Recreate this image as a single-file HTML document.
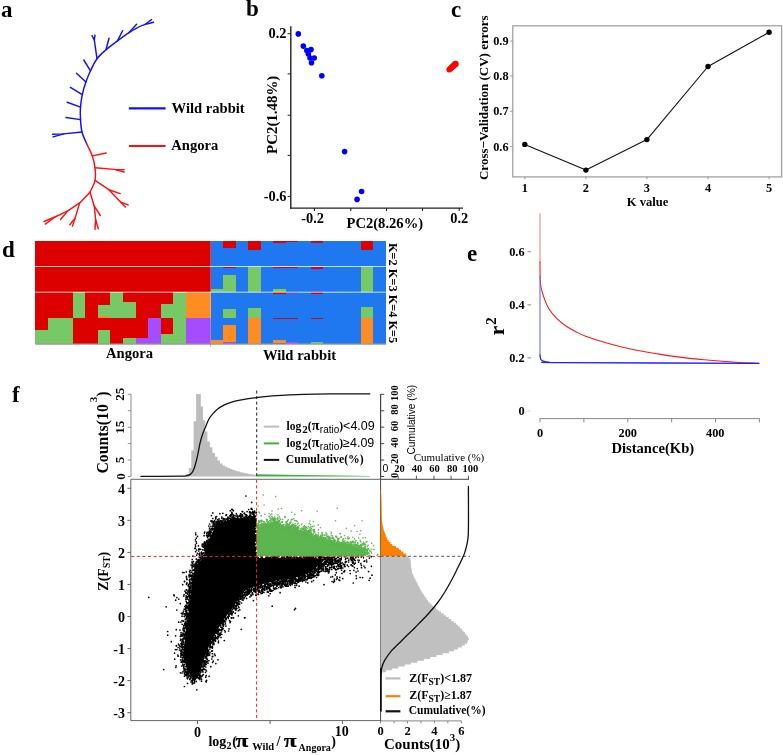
<!DOCTYPE html>
<html><head><meta charset="utf-8"><title>Figure</title>
<style>html,body{margin:0;padding:0;background:#fff;}svg{display:block;will-change:transform;}</style></head>
<body><svg width="783" height="755" viewBox="0 0 783 755">
<rect width="783" height="755" fill="#fff"/>
<text x="1" y="17" font-size="23" text-anchor="start" font-weight="bold" font-family='"Liberation Serif", serif' fill="#000">a</text>
<path d="M153.5,22.3 C151.5,22.9 145.8,23.9 141.7,25.6 C137.6,27.3 133.0,30.1 129.0,32.6 C125.0,35.1 121.3,38.0 117.5,40.9 C113.7,43.8 109.4,46.8 106.0,49.8 C102.6,52.8 99.6,55.2 97.0,58.7 C94.4,62.2 92.3,66.9 90.5,70.8 C88.7,74.7 87.3,78.0 85.9,82.0 C84.5,86.0 83.2,90.4 82.3,94.6 C81.4,98.8 80.8,102.9 80.5,107.1 C80.2,111.3 80.2,115.4 80.5,119.6 C80.8,123.8 81.0,127.9 82.0,132.0 C83.0,136.1 86.0,142.0 86.8,144.0" fill="none" stroke="#1010ff" stroke-width="1.45" stroke-linejoin="round" stroke-linecap="round"/>
<polyline points="145.5,24.0 151.5,19.6" fill="none" stroke="#1010ff" stroke-width="1.45" stroke-linejoin="round" stroke-linecap="round"/>
<polyline points="129.0,32.6 136.6,24.3" fill="none" stroke="#1010ff" stroke-width="1.45" stroke-linejoin="round" stroke-linecap="round"/>
<polyline points="117.5,40.9 122.6,30.7" fill="none" stroke="#1010ff" stroke-width="1.45" stroke-linejoin="round" stroke-linecap="round"/>
<polyline points="106.0,49.8 109.0,38.3" fill="none" stroke="#1010ff" stroke-width="1.45" stroke-linejoin="round" stroke-linecap="round"/>
<polyline points="97.0,58.7 94.3,40.0 92.0,35.6" fill="none" stroke="#1010ff" stroke-width="1.45" stroke-linejoin="round" stroke-linecap="round"/>
<polyline points="94.3,40.0 95.0,35.1" fill="none" stroke="#1010ff" stroke-width="1.45" stroke-linejoin="round" stroke-linecap="round"/>
<polyline points="90.5,70.8 83.8,60.0" fill="none" stroke="#1010ff" stroke-width="1.45" stroke-linejoin="round" stroke-linecap="round"/>
<polyline points="85.9,82.0 76.5,73.2" fill="none" stroke="#1010ff" stroke-width="1.45" stroke-linejoin="round" stroke-linecap="round"/>
<polyline points="82.3,94.6 70.4,87.4" fill="none" stroke="#1010ff" stroke-width="1.45" stroke-linejoin="round" stroke-linecap="round"/>
<polyline points="80.5,107.1 67.2,102.3" fill="none" stroke="#1010ff" stroke-width="1.45" stroke-linejoin="round" stroke-linecap="round"/>
<polyline points="80.5,119.6 66.0,117.5" fill="none" stroke="#1010ff" stroke-width="1.45" stroke-linejoin="round" stroke-linecap="round"/>
<polyline points="82.0,132.0 63.8,133.9 52.5,134.2" fill="none" stroke="#1010ff" stroke-width="1.45" stroke-linejoin="round" stroke-linecap="round"/>
<polyline points="63.8,133.9 53.1,136.9" fill="none" stroke="#1010ff" stroke-width="1.45" stroke-linejoin="round" stroke-linecap="round"/>
<path d="M86.8,144.0 C87.7,146.0 90.9,151.9 92.3,155.9 C93.7,159.9 94.5,163.7 95.0,167.8 C95.5,171.9 95.8,176.3 95.0,180.4 C94.2,184.5 90.8,190.3 90.0,192.3" fill="none" stroke="#ff1010" stroke-width="1.45" stroke-linejoin="round" stroke-linecap="round"/>
<polyline points="92.3,155.9 106.2,153.0" fill="none" stroke="#ff1010" stroke-width="1.45" stroke-linejoin="round" stroke-linecap="round"/>
<polyline points="95.0,167.8 114.2,169.4 124.1,169.8" fill="none" stroke="#ff1010" stroke-width="1.45" stroke-linejoin="round" stroke-linecap="round"/>
<polyline points="114.2,169.4 124.1,172.0" fill="none" stroke="#ff1010" stroke-width="1.45" stroke-linejoin="round" stroke-linecap="round"/>
<polyline points="95.0,180.4 108.9,189.7 120.1,193.6" fill="none" stroke="#ff1010" stroke-width="1.45" stroke-linejoin="round" stroke-linecap="round"/>
<polyline points="108.9,189.7 120.8,202.3 128.1,204.9" fill="none" stroke="#ff1010" stroke-width="1.45" stroke-linejoin="round" stroke-linecap="round"/>
<polyline points="120.8,202.3 125.4,206.9" fill="none" stroke="#ff1010" stroke-width="1.45" stroke-linejoin="round" stroke-linecap="round"/>
<polyline points="90.0,192.3 79.7,202.9 67.8,210.9 55.0,217.0 44.0,221.5" fill="none" stroke="#ff1010" stroke-width="1.45" stroke-linejoin="round" stroke-linecap="round"/>
<polyline points="55.0,217.0 45.3,224.1" fill="none" stroke="#ff1010" stroke-width="1.45" stroke-linejoin="round" stroke-linecap="round"/>
<polyline points="67.8,210.9 60.5,219.5" fill="none" stroke="#ff1010" stroke-width="1.45" stroke-linejoin="round" stroke-linecap="round"/>
<polyline points="79.7,202.9 75.1,218.1 72.5,226.1" fill="none" stroke="#ff1010" stroke-width="1.45" stroke-linejoin="round" stroke-linecap="round"/>
<polyline points="75.1,218.1 69.8,224.8" fill="none" stroke="#ff1010" stroke-width="1.45" stroke-linejoin="round" stroke-linecap="round"/>
<polyline points="90.0,192.3 94.3,206.2 100.3,215.5" fill="none" stroke="#ff1010" stroke-width="1.45" stroke-linejoin="round" stroke-linecap="round"/>
<polyline points="94.3,206.2 95.6,219.5 95.0,229.4" fill="none" stroke="#ff1010" stroke-width="1.45" stroke-linejoin="round" stroke-linecap="round"/>
<polyline points="95.6,219.5 98.3,228.7" fill="none" stroke="#ff1010" stroke-width="1.45" stroke-linejoin="round" stroke-linecap="round"/>
<line x1="128.9" y1="108.4" x2="165.6" y2="108.4" stroke="#1010ff" stroke-width="2.2"/>
<line x1="128.9" y1="146" x2="165.6" y2="146" stroke="#ff1010" stroke-width="2.2"/>
<text x="171.6" y="113.2" font-size="14.6" text-anchor="start" font-weight="bold" font-family='"Liberation Serif", serif' fill="#000">Wild rabbit</text>
<text x="171.3" y="149.5" font-size="14.6" text-anchor="start" font-weight="bold" font-family='"Liberation Serif", serif' fill="#000">Angora</text>
<text x="246" y="15.9" font-size="23" text-anchor="start" font-weight="bold" font-family='"Liberation Serif", serif' fill="#000">b</text>
<line x1="290.8" y1="26.2" x2="290.8" y2="208.8" stroke="#222" stroke-width="1.4"/>
<line x1="290.1" y1="208.1" x2="463" y2="208.1" stroke="#222" stroke-width="1.4"/>
<line x1="287.6" y1="33.7" x2="290.8" y2="33.7" stroke="#222" stroke-width="1"/>
<line x1="287.6" y1="73.9" x2="290.8" y2="73.9" stroke="#222" stroke-width="1"/>
<line x1="287.6" y1="115.2" x2="290.8" y2="115.2" stroke="#222" stroke-width="1"/>
<line x1="287.6" y1="155.4" x2="290.8" y2="155.4" stroke="#222" stroke-width="1"/>
<line x1="287.6" y1="196.4" x2="290.8" y2="196.4" stroke="#222" stroke-width="1"/>
<line x1="314.4" y1="208.1" x2="314.4" y2="211" stroke="#222" stroke-width="1.1"/>
<line x1="350.8" y1="208.1" x2="350.8" y2="211" stroke="#222" stroke-width="1.1"/>
<line x1="386.5" y1="208.1" x2="386.5" y2="211" stroke="#222" stroke-width="1.1"/>
<line x1="422.5" y1="208.1" x2="422.5" y2="211" stroke="#222" stroke-width="1.1"/>
<line x1="459.2" y1="208.1" x2="459.2" y2="211" stroke="#222" stroke-width="1.1"/>
<text x="286.5" y="37.6" font-size="14.4" text-anchor="end" font-weight="bold" font-family='"Liberation Serif", serif' fill="#000">0.2</text>
<text x="286.5" y="200.6" font-size="14.4" text-anchor="end" font-weight="bold" font-family='"Liberation Serif", serif' fill="#000">-0.6</text>
<text x="312.6" y="223.1" font-size="14.4" text-anchor="middle" font-weight="bold" font-family='"Liberation Serif", serif' fill="#000">-0.2</text>
<text x="459.2" y="223.1" font-size="14.4" text-anchor="middle" font-weight="bold" font-family='"Liberation Serif", serif' fill="#000">0.2</text>
<text x="384.8" y="227.6" font-size="14.6" text-anchor="middle" font-weight="bold" font-family='"Liberation Serif", serif' fill="#000">PC2(8.26%)</text>
<text x="277.4" y="114.8" font-size="14.9" text-anchor="middle" font-weight="bold" font-family='"Liberation Serif", serif' fill="#000" transform="rotate(-90 277.4 114.8)">PC2(1.48%)</text>
<circle cx="298.3" cy="33.9" r="2.8" fill="#0000ff"/>
<circle cx="303.3" cy="46.1" r="2.8" fill="#0000ff"/>
<circle cx="306.8" cy="50.5" r="2.8" fill="#0000ff"/>
<circle cx="311" cy="49.6" r="2.8" fill="#0000ff"/>
<circle cx="308.3" cy="54" r="2.8" fill="#0000ff"/>
<circle cx="310" cy="58" r="2.8" fill="#0000ff"/>
<circle cx="314.2" cy="58" r="2.8" fill="#0000ff"/>
<circle cx="311.5" cy="62.8" r="2.8" fill="#0000ff"/>
<circle cx="321.8" cy="75.8" r="2.8" fill="#0000ff"/>
<circle cx="344.6" cy="151.6" r="2.8" fill="#0000ff"/>
<circle cx="361.6" cy="191.5" r="2.8" fill="#0000ff"/>
<circle cx="357.1" cy="199.4" r="2.8" fill="#0000ff"/>
<circle cx="449.30" cy="69.60" r="2.90" fill="#ff0000"/>
<circle cx="450.54" cy="68.48" r="2.96" fill="#ff0000"/>
<circle cx="451.78" cy="67.36" r="3.02" fill="#ff0000"/>
<circle cx="453.02" cy="66.24" r="3.08" fill="#ff0000"/>
<circle cx="454.26" cy="65.12" r="3.14" fill="#ff0000"/>
<circle cx="455.50" cy="64.00" r="3.20" fill="#ff0000"/>
<text x="451" y="17" font-size="23" text-anchor="start" font-weight="bold" font-family='"Liberation Serif", serif' fill="#000">c</text>
<rect x="512.8" y="25.8" width="268.8" height="151.1" fill="none" stroke="#a2a2a2" stroke-width="1.3"/>
<line x1="510.2" y1="41" x2="512.8" y2="41" stroke="#9a9a9a" stroke-width="1"/>
<text x="508.6" y="45.1" font-size="12.3" text-anchor="end" font-weight="bold" font-family='"Liberation Serif", serif' fill="#000">0.9</text>
<line x1="510.2" y1="76.1" x2="512.8" y2="76.1" stroke="#9a9a9a" stroke-width="1"/>
<text x="508.6" y="80.19999999999999" font-size="12.3" text-anchor="end" font-weight="bold" font-family='"Liberation Serif", serif' fill="#000">0.8</text>
<line x1="510.2" y1="111.3" x2="512.8" y2="111.3" stroke="#9a9a9a" stroke-width="1"/>
<text x="508.6" y="115.39999999999999" font-size="12.3" text-anchor="end" font-weight="bold" font-family='"Liberation Serif", serif' fill="#000">0.7</text>
<line x1="510.2" y1="146.4" x2="512.8" y2="146.4" stroke="#9a9a9a" stroke-width="1"/>
<text x="508.6" y="150.5" font-size="12.3" text-anchor="end" font-weight="bold" font-family='"Liberation Serif", serif' fill="#000">0.6</text>
<line x1="524.8" y1="176.5" x2="524.8" y2="179.2" stroke="#9a9a9a" stroke-width="1"/>
<text x="524.8" y="191.6" font-size="12.3" text-anchor="middle" font-weight="bold" font-family='"Liberation Serif", serif' fill="#000">1</text>
<line x1="585.9" y1="176.5" x2="585.9" y2="179.2" stroke="#9a9a9a" stroke-width="1"/>
<text x="585.9" y="191.6" font-size="12.3" text-anchor="middle" font-weight="bold" font-family='"Liberation Serif", serif' fill="#000">2</text>
<line x1="646.9" y1="176.5" x2="646.9" y2="179.2" stroke="#9a9a9a" stroke-width="1"/>
<text x="646.9" y="191.6" font-size="12.3" text-anchor="middle" font-weight="bold" font-family='"Liberation Serif", serif' fill="#000">3</text>
<line x1="708" y1="176.5" x2="708" y2="179.2" stroke="#9a9a9a" stroke-width="1"/>
<text x="708" y="191.6" font-size="12.3" text-anchor="middle" font-weight="bold" font-family='"Liberation Serif", serif' fill="#000">4</text>
<line x1="769.1" y1="176.5" x2="769.1" y2="179.2" stroke="#9a9a9a" stroke-width="1"/>
<text x="769.1" y="191.6" font-size="12.3" text-anchor="middle" font-weight="bold" font-family='"Liberation Serif", serif' fill="#000">5</text>
<polyline points="524.8,144.4 585.9,170.1 646.9,139.6 708.0,66.5 769.1,32.3" fill="none" stroke="#111" stroke-width="1.1" stroke-linejoin="round" stroke-linecap="round"/>
<circle cx="524.8" cy="144.4" r="2.7" fill="#000"/>
<circle cx="585.9" cy="170.1" r="2.7" fill="#000"/>
<circle cx="646.9" cy="139.6" r="2.7" fill="#000"/>
<circle cx="708" cy="66.5" r="2.7" fill="#000"/>
<circle cx="769.1" cy="32.3" r="2.7" fill="#000"/>
<text x="647.6" y="205.6" font-size="12.6" text-anchor="middle" font-weight="bold" font-family='"Liberation Serif", serif' fill="#000">K value</text>
<text x="488.3" y="97.7" font-size="13" text-anchor="middle" font-weight="bold" font-family='"Liberation Serif", serif' fill="#000" transform="rotate(-90 488.3 97.7)">Cross−Validation (CV) errors</text>
<text x="2" y="257" font-size="23" text-anchor="start" font-weight="bold" font-family='"Liberation Serif", serif' fill="#000">d</text>
<rect x="35.30" y="241.30" width="12.83" height="25.40" fill="#dd0000" shape-rendering="crispEdges"/>
<rect x="47.82" y="241.30" width="12.83" height="25.40" fill="#dd0000" shape-rendering="crispEdges"/>
<rect x="60.35" y="241.30" width="12.83" height="25.40" fill="#dd0000" shape-rendering="crispEdges"/>
<rect x="72.88" y="241.30" width="12.83" height="25.40" fill="#dd0000" shape-rendering="crispEdges"/>
<rect x="85.40" y="241.30" width="12.83" height="25.40" fill="#dd0000" shape-rendering="crispEdges"/>
<rect x="97.92" y="241.30" width="12.83" height="25.40" fill="#dd0000" shape-rendering="crispEdges"/>
<rect x="110.45" y="241.30" width="12.83" height="25.40" fill="#dd0000" shape-rendering="crispEdges"/>
<rect x="122.97" y="241.30" width="12.83" height="25.40" fill="#dd0000" shape-rendering="crispEdges"/>
<rect x="135.50" y="241.30" width="12.83" height="25.40" fill="#dd0000" shape-rendering="crispEdges"/>
<rect x="148.03" y="241.30" width="12.83" height="25.40" fill="#dd0000" shape-rendering="crispEdges"/>
<rect x="160.55" y="241.30" width="12.83" height="25.40" fill="#dd0000" shape-rendering="crispEdges"/>
<rect x="173.07" y="241.30" width="12.83" height="25.40" fill="#dd0000" shape-rendering="crispEdges"/>
<rect x="185.60" y="241.30" width="12.83" height="25.40" fill="#dd0000" shape-rendering="crispEdges"/>
<rect x="198.12" y="241.30" width="12.83" height="25.40" fill="#dd0000" shape-rendering="crispEdges"/>
<rect x="210.65" y="241.30" width="12.83" height="25.40" fill="#2078f0" shape-rendering="crispEdges"/>
<rect x="223.18" y="241.30" width="12.83" height="7.20" fill="#dd0000" shape-rendering="crispEdges"/>
<rect x="223.18" y="248.30" width="12.83" height="18.40" fill="#2078f0" shape-rendering="crispEdges"/>
<rect x="235.70" y="241.30" width="12.83" height="25.40" fill="#2078f0" shape-rendering="crispEdges"/>
<rect x="248.23" y="241.30" width="12.83" height="8.60" fill="#dd0000" shape-rendering="crispEdges"/>
<rect x="248.23" y="249.70" width="12.83" height="17.00" fill="#2078f0" shape-rendering="crispEdges"/>
<rect x="260.75" y="241.30" width="12.83" height="25.40" fill="#2078f0" shape-rendering="crispEdges"/>
<rect x="273.27" y="241.30" width="12.83" height="2.20" fill="#dd0000" shape-rendering="crispEdges"/>
<rect x="273.27" y="243.30" width="12.83" height="23.40" fill="#2078f0" shape-rendering="crispEdges"/>
<rect x="285.80" y="241.30" width="12.83" height="1.20" fill="#dd0000" shape-rendering="crispEdges"/>
<rect x="285.80" y="242.30" width="12.83" height="24.40" fill="#2078f0" shape-rendering="crispEdges"/>
<rect x="298.33" y="241.30" width="12.83" height="25.40" fill="#2078f0" shape-rendering="crispEdges"/>
<rect x="310.85" y="241.30" width="12.83" height="1.80" fill="#dd0000" shape-rendering="crispEdges"/>
<rect x="310.85" y="242.90" width="12.83" height="23.80" fill="#2078f0" shape-rendering="crispEdges"/>
<rect x="323.38" y="241.30" width="12.83" height="25.40" fill="#2078f0" shape-rendering="crispEdges"/>
<rect x="335.90" y="241.30" width="12.83" height="25.40" fill="#2078f0" shape-rendering="crispEdges"/>
<rect x="348.43" y="241.30" width="12.83" height="25.40" fill="#2078f0" shape-rendering="crispEdges"/>
<rect x="360.95" y="241.30" width="12.83" height="9.20" fill="#dd0000" shape-rendering="crispEdges"/>
<rect x="360.95" y="250.30" width="12.83" height="16.40" fill="#2078f0" shape-rendering="crispEdges"/>
<rect x="373.48" y="241.30" width="12.83" height="25.40" fill="#2078f0" shape-rendering="crispEdges"/>
<rect x="35.30" y="266.50" width="12.83" height="25.90" fill="#dd0000" shape-rendering="crispEdges"/>
<rect x="47.82" y="266.50" width="12.83" height="25.90" fill="#dd0000" shape-rendering="crispEdges"/>
<rect x="60.35" y="266.50" width="12.83" height="25.90" fill="#dd0000" shape-rendering="crispEdges"/>
<rect x="72.88" y="266.50" width="12.83" height="25.90" fill="#dd0000" shape-rendering="crispEdges"/>
<rect x="85.40" y="266.50" width="12.83" height="25.90" fill="#dd0000" shape-rendering="crispEdges"/>
<rect x="97.92" y="266.50" width="12.83" height="25.90" fill="#dd0000" shape-rendering="crispEdges"/>
<rect x="110.45" y="266.50" width="12.83" height="25.90" fill="#dd0000" shape-rendering="crispEdges"/>
<rect x="122.97" y="266.50" width="12.83" height="25.90" fill="#dd0000" shape-rendering="crispEdges"/>
<rect x="135.50" y="266.50" width="12.83" height="25.90" fill="#dd0000" shape-rendering="crispEdges"/>
<rect x="148.03" y="266.50" width="12.83" height="25.90" fill="#dd0000" shape-rendering="crispEdges"/>
<rect x="160.55" y="266.50" width="12.83" height="25.90" fill="#dd0000" shape-rendering="crispEdges"/>
<rect x="173.07" y="266.50" width="12.83" height="25.90" fill="#dd0000" shape-rendering="crispEdges"/>
<rect x="185.60" y="266.50" width="12.83" height="25.90" fill="#dd0000" shape-rendering="crispEdges"/>
<rect x="198.12" y="266.50" width="12.83" height="25.90" fill="#dd0000" shape-rendering="crispEdges"/>
<rect x="210.65" y="266.50" width="12.83" height="22.50" fill="#2078f0" shape-rendering="crispEdges"/>
<rect x="210.65" y="288.80" width="12.83" height="3.60" fill="#77c866" shape-rendering="crispEdges"/>
<rect x="223.18" y="266.50" width="12.83" height="1.50" fill="#dd0000" shape-rendering="crispEdges"/>
<rect x="223.18" y="267.80" width="12.83" height="7.60" fill="#2078f0" shape-rendering="crispEdges"/>
<rect x="223.18" y="275.20" width="12.83" height="17.20" fill="#77c866" shape-rendering="crispEdges"/>
<rect x="235.70" y="266.50" width="12.83" height="25.90" fill="#2078f0" shape-rendering="crispEdges"/>
<rect x="248.23" y="266.50" width="12.83" height="25.90" fill="#77c866" shape-rendering="crispEdges"/>
<rect x="260.75" y="266.50" width="12.83" height="25.90" fill="#2078f0" shape-rendering="crispEdges"/>
<rect x="273.27" y="266.50" width="12.83" height="1.50" fill="#dd0000" shape-rendering="crispEdges"/>
<rect x="273.27" y="267.80" width="12.83" height="21.20" fill="#2078f0" shape-rendering="crispEdges"/>
<rect x="273.27" y="288.80" width="12.83" height="3.60" fill="#77c866" shape-rendering="crispEdges"/>
<rect x="285.80" y="266.50" width="12.83" height="1.20" fill="#dd0000" shape-rendering="crispEdges"/>
<rect x="285.80" y="267.50" width="12.83" height="24.90" fill="#2078f0" shape-rendering="crispEdges"/>
<rect x="298.33" y="266.50" width="12.83" height="25.90" fill="#2078f0" shape-rendering="crispEdges"/>
<rect x="310.85" y="266.50" width="12.83" height="2.40" fill="#dd0000" shape-rendering="crispEdges"/>
<rect x="310.85" y="268.70" width="12.83" height="23.70" fill="#2078f0" shape-rendering="crispEdges"/>
<rect x="323.38" y="266.50" width="12.83" height="25.90" fill="#2078f0" shape-rendering="crispEdges"/>
<rect x="335.90" y="266.50" width="12.83" height="25.90" fill="#2078f0" shape-rendering="crispEdges"/>
<rect x="348.43" y="266.50" width="12.83" height="25.90" fill="#2078f0" shape-rendering="crispEdges"/>
<rect x="360.95" y="266.50" width="12.83" height="25.90" fill="#77c866" shape-rendering="crispEdges"/>
<rect x="373.48" y="266.50" width="12.83" height="25.90" fill="#2078f0" shape-rendering="crispEdges"/>
<rect x="35.30" y="292.20" width="12.83" height="25.70" fill="#dd0000" shape-rendering="crispEdges"/>
<rect x="47.82" y="292.20" width="12.83" height="25.70" fill="#dd0000" shape-rendering="crispEdges"/>
<rect x="60.35" y="292.20" width="12.83" height="25.70" fill="#dd0000" shape-rendering="crispEdges"/>
<rect x="72.88" y="292.20" width="12.83" height="25.70" fill="#77c866" shape-rendering="crispEdges"/>
<rect x="85.40" y="292.20" width="12.83" height="25.70" fill="#dd0000" shape-rendering="crispEdges"/>
<rect x="97.92" y="292.20" width="12.83" height="12.60" fill="#dd0000" shape-rendering="crispEdges"/>
<rect x="97.92" y="304.60" width="12.83" height="11.50" fill="#77c866" shape-rendering="crispEdges"/>
<rect x="97.92" y="315.90" width="12.83" height="2.00" fill="#ff8c22" shape-rendering="crispEdges"/>
<rect x="110.45" y="292.20" width="12.83" height="25.70" fill="#77c866" shape-rendering="crispEdges"/>
<rect x="122.97" y="292.20" width="12.83" height="10.20" fill="#dd0000" shape-rendering="crispEdges"/>
<rect x="122.97" y="302.20" width="12.83" height="15.70" fill="#77c866" shape-rendering="crispEdges"/>
<rect x="135.50" y="292.20" width="12.83" height="25.70" fill="#dd0000" shape-rendering="crispEdges"/>
<rect x="148.03" y="292.20" width="12.83" height="25.70" fill="#dd0000" shape-rendering="crispEdges"/>
<rect x="160.55" y="292.20" width="12.83" height="11.70" fill="#dd0000" shape-rendering="crispEdges"/>
<rect x="160.55" y="303.70" width="12.83" height="14.20" fill="#77c866" shape-rendering="crispEdges"/>
<rect x="173.07" y="292.20" width="12.83" height="25.70" fill="#77c866" shape-rendering="crispEdges"/>
<rect x="185.60" y="292.20" width="12.83" height="25.70" fill="#ff8c22" shape-rendering="crispEdges"/>
<rect x="198.12" y="292.20" width="12.83" height="25.70" fill="#ff8c22" shape-rendering="crispEdges"/>
<rect x="210.65" y="292.20" width="12.83" height="25.70" fill="#2078f0" shape-rendering="crispEdges"/>
<rect x="223.18" y="292.20" width="12.83" height="17.30" fill="#2078f0" shape-rendering="crispEdges"/>
<rect x="223.18" y="309.30" width="12.83" height="8.60" fill="#77c866" shape-rendering="crispEdges"/>
<rect x="235.70" y="292.20" width="12.83" height="25.70" fill="#2078f0" shape-rendering="crispEdges"/>
<rect x="248.23" y="292.20" width="12.83" height="16.00" fill="#2078f0" shape-rendering="crispEdges"/>
<rect x="248.23" y="308.00" width="12.83" height="9.90" fill="#77c866" shape-rendering="crispEdges"/>
<rect x="260.75" y="292.20" width="12.83" height="25.70" fill="#2078f0" shape-rendering="crispEdges"/>
<rect x="273.27" y="292.20" width="12.83" height="2.00" fill="#dd0000" shape-rendering="crispEdges"/>
<rect x="273.27" y="294.00" width="12.83" height="23.90" fill="#2078f0" shape-rendering="crispEdges"/>
<rect x="285.80" y="292.20" width="12.83" height="1.00" fill="#dd0000" shape-rendering="crispEdges"/>
<rect x="285.80" y="293.00" width="12.83" height="24.90" fill="#2078f0" shape-rendering="crispEdges"/>
<rect x="298.33" y="292.20" width="12.83" height="25.70" fill="#2078f0" shape-rendering="crispEdges"/>
<rect x="310.85" y="292.20" width="12.83" height="1.50" fill="#dd0000" shape-rendering="crispEdges"/>
<rect x="310.85" y="293.50" width="12.83" height="24.40" fill="#2078f0" shape-rendering="crispEdges"/>
<rect x="323.38" y="292.20" width="12.83" height="25.70" fill="#2078f0" shape-rendering="crispEdges"/>
<rect x="335.90" y="292.20" width="12.83" height="25.70" fill="#2078f0" shape-rendering="crispEdges"/>
<rect x="348.43" y="292.20" width="12.83" height="25.70" fill="#2078f0" shape-rendering="crispEdges"/>
<rect x="360.95" y="292.20" width="12.83" height="15.00" fill="#2078f0" shape-rendering="crispEdges"/>
<rect x="360.95" y="307.00" width="12.83" height="10.90" fill="#77c866" shape-rendering="crispEdges"/>
<rect x="373.48" y="292.20" width="12.83" height="25.70" fill="#2078f0" shape-rendering="crispEdges"/>
<rect x="35.30" y="317.70" width="12.83" height="12.60" fill="#dd0000" shape-rendering="crispEdges"/>
<rect x="35.30" y="330.10" width="12.83" height="13.40" fill="#77c866" shape-rendering="crispEdges"/>
<rect x="47.82" y="317.70" width="12.83" height="25.80" fill="#77c866" shape-rendering="crispEdges"/>
<rect x="60.35" y="317.70" width="12.83" height="25.80" fill="#77c866" shape-rendering="crispEdges"/>
<rect x="72.88" y="317.70" width="12.83" height="25.80" fill="#dd0000" shape-rendering="crispEdges"/>
<rect x="85.40" y="317.70" width="12.83" height="25.80" fill="#dd0000" shape-rendering="crispEdges"/>
<rect x="97.92" y="317.70" width="12.83" height="12.40" fill="#dd0000" shape-rendering="crispEdges"/>
<rect x="97.92" y="329.90" width="12.83" height="13.60" fill="#77c866" shape-rendering="crispEdges"/>
<rect x="110.45" y="317.70" width="12.83" height="25.80" fill="#dd0000" shape-rendering="crispEdges"/>
<rect x="122.97" y="317.70" width="12.83" height="20.40" fill="#dd0000" shape-rendering="crispEdges"/>
<rect x="122.97" y="337.90" width="12.83" height="5.60" fill="#77c866" shape-rendering="crispEdges"/>
<rect x="135.50" y="317.70" width="12.83" height="20.40" fill="#dd0000" shape-rendering="crispEdges"/>
<rect x="135.50" y="337.90" width="12.83" height="5.60" fill="#a64cff" shape-rendering="crispEdges"/>
<rect x="148.03" y="317.70" width="12.83" height="25.80" fill="#a64cff" shape-rendering="crispEdges"/>
<rect x="160.55" y="317.70" width="12.83" height="16.20" fill="#dd0000" shape-rendering="crispEdges"/>
<rect x="160.55" y="333.70" width="12.83" height="9.80" fill="#77c866" shape-rendering="crispEdges"/>
<rect x="173.07" y="317.70" width="12.83" height="25.80" fill="#77c866" shape-rendering="crispEdges"/>
<rect x="185.60" y="317.70" width="12.83" height="25.80" fill="#a64cff" shape-rendering="crispEdges"/>
<rect x="198.12" y="317.70" width="12.83" height="25.80" fill="#a64cff" shape-rendering="crispEdges"/>
<rect x="210.65" y="317.70" width="12.83" height="22.40" fill="#2078f0" shape-rendering="crispEdges"/>
<rect x="210.65" y="339.90" width="12.83" height="3.60" fill="#ff8c22" shape-rendering="crispEdges"/>
<rect x="223.18" y="317.70" width="12.83" height="7.00" fill="#2078f0" shape-rendering="crispEdges"/>
<rect x="223.18" y="324.50" width="12.83" height="17.30" fill="#ff8c22" shape-rendering="crispEdges"/>
<rect x="223.18" y="341.60" width="12.83" height="1.90" fill="#a64cff" shape-rendering="crispEdges"/>
<rect x="235.70" y="317.70" width="12.83" height="25.80" fill="#2078f0" shape-rendering="crispEdges"/>
<rect x="248.23" y="317.70" width="12.83" height="25.80" fill="#ff8c22" shape-rendering="crispEdges"/>
<rect x="260.75" y="317.70" width="12.83" height="25.80" fill="#2078f0" shape-rendering="crispEdges"/>
<rect x="273.27" y="317.70" width="12.83" height="1.00" fill="#dd0000" shape-rendering="crispEdges"/>
<rect x="273.27" y="318.50" width="12.83" height="21.80" fill="#2078f0" shape-rendering="crispEdges"/>
<rect x="273.27" y="340.10" width="12.83" height="3.30" fill="#ff8c22" shape-rendering="crispEdges"/>
<rect x="273.27" y="343.20" width="12.83" height="0.30" fill="#2078f0" shape-rendering="crispEdges"/>
<rect x="285.80" y="317.70" width="12.83" height="1.00" fill="#dd0000" shape-rendering="crispEdges"/>
<rect x="285.80" y="318.50" width="12.83" height="23.50" fill="#2078f0" shape-rendering="crispEdges"/>
<rect x="285.80" y="341.80" width="12.83" height="1.70" fill="#a64cff" shape-rendering="crispEdges"/>
<rect x="298.33" y="317.70" width="12.83" height="25.80" fill="#2078f0" shape-rendering="crispEdges"/>
<rect x="310.85" y="317.70" width="12.83" height="1.20" fill="#dd0000" shape-rendering="crispEdges"/>
<rect x="310.85" y="318.70" width="12.83" height="23.30" fill="#2078f0" shape-rendering="crispEdges"/>
<rect x="310.85" y="341.80" width="12.83" height="1.70" fill="#77c866" shape-rendering="crispEdges"/>
<rect x="323.38" y="317.70" width="12.83" height="25.80" fill="#2078f0" shape-rendering="crispEdges"/>
<rect x="335.90" y="317.70" width="12.83" height="25.80" fill="#2078f0" shape-rendering="crispEdges"/>
<rect x="348.43" y="317.70" width="12.83" height="25.80" fill="#2078f0" shape-rendering="crispEdges"/>
<rect x="360.95" y="317.70" width="12.83" height="25.80" fill="#ff8c22" shape-rendering="crispEdges"/>
<rect x="373.48" y="317.70" width="12.83" height="25.80" fill="#2078f0" shape-rendering="crispEdges"/>
<line x1="35.3" y1="266.5" x2="386" y2="266.5" stroke="#fff" stroke-width="0.9" opacity="0.85"/>
<line x1="35.3" y1="292.2" x2="386" y2="292.2" stroke="#fff" stroke-width="0.9" opacity="0.85"/>
<line x1="210.5" y1="241.3" x2="210.5" y2="343.3" stroke="#fff" stroke-width="0.5" opacity="0.5"/>
<line x1="35.3" y1="344.2" x2="386.3" y2="344.2" stroke="#999" stroke-width="1.2"/>
<line x1="210.5" y1="343.8" x2="210.5" y2="346.5" stroke="#999" stroke-width="0.8"/>
<text x="388.9" y="293.1" font-size="12.3" text-anchor="middle" font-weight="bold" font-family='"Liberation Serif", serif' fill="#000" transform="rotate(90 388.9 293.1)">K=2 K=3 K=4 K=5</text>
<text x="129.5" y="358.2" font-size="14.6" text-anchor="middle" font-weight="bold" font-family='"Liberation Serif", serif' fill="#000">Angora</text>
<text x="299.5" y="359.8" font-size="14.6" text-anchor="middle" font-weight="bold" font-family='"Liberation Serif", serif' fill="#000">Wild rabbit</text>
<text x="467" y="260.6" font-size="23" text-anchor="start" font-weight="bold" font-family='"Liberation Serif", serif' fill="#000">e</text>
<text x="524.6" y="255.89999999999998" font-size="12.3" text-anchor="end" font-weight="bold" font-family='"Liberation Serif", serif' fill="#000">0.6</text>
<line x1="527.4" y1="251.7" x2="531" y2="251.7" stroke="#888" stroke-width="1"/>
<text x="524.6" y="309.09999999999997" font-size="12.3" text-anchor="end" font-weight="bold" font-family='"Liberation Serif", serif' fill="#000">0.4</text>
<line x1="527.4" y1="304.9" x2="531" y2="304.9" stroke="#888" stroke-width="1"/>
<text x="524.6" y="362.09999999999997" font-size="12.3" text-anchor="end" font-weight="bold" font-family='"Liberation Serif", serif' fill="#000">0.2</text>
<line x1="527.4" y1="357.9" x2="531" y2="357.9" stroke="#888" stroke-width="1"/>
<text x="524.6" y="415.09999999999997" font-size="12.3" text-anchor="end" font-weight="bold" font-family='"Liberation Serif", serif' fill="#000">0</text>
<line x1="527.4" y1="410.9" x2="531" y2="410.9" stroke="#ddd" stroke-width="1"/>
<line x1="539.6" y1="418.6" x2="759.6" y2="418.6" stroke="#888" stroke-width="1"/>
<line x1="540.0" y1="418.6" x2="540.0" y2="422.4" stroke="#888" stroke-width="1"/>
<line x1="583.88" y1="418.6" x2="583.88" y2="422.4" stroke="#888" stroke-width="1"/>
<line x1="627.76" y1="418.6" x2="627.76" y2="422.4" stroke="#888" stroke-width="1"/>
<line x1="671.64" y1="418.6" x2="671.64" y2="422.4" stroke="#888" stroke-width="1"/>
<line x1="715.52" y1="418.6" x2="715.52" y2="422.4" stroke="#888" stroke-width="1"/>
<line x1="759.4" y1="418.6" x2="759.4" y2="422.4" stroke="#888" stroke-width="1"/>
<text x="540" y="436.8" font-size="12.3" text-anchor="middle" font-weight="bold" font-family='"Liberation Serif", serif' fill="#000">0</text>
<text x="627.8" y="436.8" font-size="12.3" text-anchor="middle" font-weight="bold" font-family='"Liberation Serif", serif' fill="#000">200</text>
<text x="715.3" y="436.8" font-size="12.3" text-anchor="middle" font-weight="bold" font-family='"Liberation Serif", serif' fill="#000">400</text>
<text x="652.8" y="453.3" font-size="14.6" text-anchor="middle" font-weight="bold" font-family='"Liberation Serif", serif' fill="#000">Distance(Kb)</text>
<text x="504" y="335.2" font-size="21.5" font-weight="bold" font-family='"Liberation Serif", serif' transform="rotate(-90 504 335.2)">r<tspan font-size="15.5" dy="-8.3" dx="0.6">2</tspan></text>
<line x1="540" y1="213.5" x2="540" y2="263" stroke="#f07878" stroke-width="1"/>
<path d="M540.0,262.0 C540.0,264.0 540.0,269.7 540.1,273.8 C540.2,277.9 540.2,282.5 540.9,286.5 C541.5,290.5 542.7,293.9 544.0,297.6 C545.3,301.3 546.7,305.2 548.8,308.7 C550.9,312.1 553.8,315.4 556.7,318.3 C559.6,321.2 563.1,324.0 566.3,326.2 C569.5,328.4 572.7,330.1 575.8,331.7 C578.9,333.3 580.0,334.1 585.0,336.0 C590.0,337.9 598.1,340.6 605.9,342.8 C613.7,345.0 623.2,347.5 631.9,349.3 C640.5,351.1 649.2,352.5 657.8,353.9 C666.4,355.3 675.1,356.6 683.7,357.6 C692.3,358.7 701.0,359.4 709.6,360.2 C718.2,361.0 727.4,361.7 735.6,362.2 C743.8,362.7 755.0,363.1 758.9,363.3" fill="none" stroke="#ff1818" stroke-width="1.1" stroke-linejoin="round" stroke-linecap="round"/>
<line x1="540" y1="275.5" x2="540" y2="355" stroke="#6a6aff" stroke-width="1.1"/>
<path d="M540.0,355.0 C540.1,355.8 540.2,358.4 540.9,359.5 C541.6,360.6 542.7,360.9 544.0,361.3 C545.3,361.7 546.1,361.9 548.8,362.1 C551.5,362.3 525.0,362.4 560.0,362.6 C595.0,362.8 725.8,363.2 758.9,363.3" fill="none" stroke="#2020ff" stroke-width="1.3" stroke-linejoin="round" stroke-linecap="round"/>
<text x="12" y="401.6" font-size="23" text-anchor="start" font-weight="bold" font-family='"Liberation Serif", serif' fill="#000">f</text>
<line x1="131" y1="394.3" x2="131" y2="476.5" stroke="#8c8c8c" stroke-width="1"/>
<line x1="127.8" y1="476.5" x2="131" y2="476.5" stroke="#8c8c8c" stroke-width="1"/>
<line x1="127.8" y1="460.06" x2="131" y2="460.06" stroke="#8c8c8c" stroke-width="1"/>
<line x1="127.8" y1="443.62" x2="131" y2="443.62" stroke="#8c8c8c" stroke-width="1"/>
<line x1="127.8" y1="427.18" x2="131" y2="427.18" stroke="#8c8c8c" stroke-width="1"/>
<line x1="127.8" y1="410.74" x2="131" y2="410.74" stroke="#8c8c8c" stroke-width="1"/>
<line x1="127.8" y1="394.3" x2="131" y2="394.3" stroke="#8c8c8c" stroke-width="1"/>
<text x="124.5" y="394.3" font-size="13" text-anchor="middle" font-weight="bold" font-family='"Liberation Serif", serif' fill="#000" transform="rotate(-90 124.5 394.3)">25</text>
<text x="124.5" y="427.18" font-size="13" text-anchor="middle" font-weight="bold" font-family='"Liberation Serif", serif' fill="#000" transform="rotate(-90 124.5 427.18)">15</text>
<text x="124.5" y="460.06" font-size="13" text-anchor="middle" font-weight="bold" font-family='"Liberation Serif", serif' fill="#000" transform="rotate(-90 124.5 460.06)">5</text>
<text x="124.5" y="476.5" font-size="13" text-anchor="middle" font-weight="bold" font-family='"Liberation Serif", serif' fill="#000" transform="rotate(-90 124.5 476.5)">0</text>
<text x="108.4" y="432.5" font-size="15.8" text-anchor="middle" font-weight="bold" font-family='"Liberation Serif", serif' fill="#000" transform="rotate(-90 108.4 432.5)">Counts(10<tspan font-size="11" dy="-11" dx="2">3</tspan><tspan dy="11">)</tspan></text>
<line x1="380.6" y1="394.2" x2="380.6" y2="476.5" stroke="#333" stroke-width="1"/>
<line x1="380.6" y1="476.5" x2="384.2" y2="476.5" stroke="#333" stroke-width="0.9"/>
<line x1="380.6" y1="460.06" x2="384.2" y2="460.06" stroke="#333" stroke-width="0.9"/>
<line x1="380.6" y1="443.62" x2="384.2" y2="443.62" stroke="#333" stroke-width="0.9"/>
<line x1="380.6" y1="427.18" x2="384.2" y2="427.18" stroke="#333" stroke-width="0.9"/>
<line x1="380.6" y1="410.74" x2="384.2" y2="410.74" stroke="#333" stroke-width="0.9"/>
<line x1="380.6" y1="394.3" x2="384.2" y2="394.3" stroke="#333" stroke-width="0.9"/>
<text x="397.6" y="393.1" font-size="10.5" text-anchor="middle" font-weight="bold" font-family='"Liberation Serif", serif' fill="#000" transform="rotate(-90 397.6 393.1)">100</text>
<text x="397.6" y="409.54" font-size="10.5" text-anchor="middle" font-weight="bold" font-family='"Liberation Serif", serif' fill="#000" transform="rotate(-90 397.6 409.54)">80</text>
<text x="397.6" y="425.98" font-size="10.5" text-anchor="middle" font-weight="bold" font-family='"Liberation Serif", serif' fill="#000" transform="rotate(-90 397.6 425.98)">60</text>
<text x="397.6" y="442.42" font-size="10.5" text-anchor="middle" font-weight="bold" font-family='"Liberation Serif", serif' fill="#000" transform="rotate(-90 397.6 442.42)">40</text>
<text x="397.6" y="458.86" font-size="10.5" text-anchor="middle" font-weight="bold" font-family='"Liberation Serif", serif' fill="#000" transform="rotate(-90 397.6 458.86)">20</text>
<text x="397.6" y="475.3" font-size="10.5" text-anchor="middle" font-weight="bold" font-family='"Liberation Serif", serif' fill="#000" transform="rotate(-90 397.6 475.3)">0</text>
<text x="415.3" y="419.7" font-size="10.2" text-anchor="middle" font-weight="normal" font-family='"Liberation Sans", sans-serif' fill="#000" transform="rotate(-90 415.3 419.7)">Cumulative  (%)</text>
<text x="449" y="460.9" font-size="11" text-anchor="middle" font-weight="normal" font-family='"Liberation Serif", serif' fill="#000">Cumulative (%)</text>
<text x="399.6" y="471.6" font-size="10.5" text-anchor="middle" font-weight="bold" font-family='"Liberation Serif", serif' fill="#000">20</text>
<text x="416.9" y="471.6" font-size="10.5" text-anchor="middle" font-weight="bold" font-family='"Liberation Serif", serif' fill="#000">40</text>
<text x="434.4" y="471.6" font-size="10.5" text-anchor="middle" font-weight="bold" font-family='"Liberation Serif", serif' fill="#000">60</text>
<text x="452.2" y="471.6" font-size="10.5" text-anchor="middle" font-weight="bold" font-family='"Liberation Serif", serif' fill="#000">80</text>
<text x="470.3" y="471.6" font-size="10.5" text-anchor="middle" font-weight="bold" font-family='"Liberation Serif", serif' fill="#000">100</text>
<text x="385.5" y="471.6" font-size="10.5" text-anchor="middle" font-weight="normal" font-family='"Liberation Sans", sans-serif' fill="#000">0</text>
<polygon points="185.5,476.5 185.5,474.0 188.8,474.0 188.8,468.0 191.3,468.0 191.3,450.4 193.6,450.4 193.6,421.2 196.1,421.2 196.1,394.1 198.5,394.1 198.5,394.1 200.8,394.1 200.8,406.4 203.0,406.4 203.0,420.2 205.2,420.2 205.2,431.5 207.4,431.5 207.4,441.4 209.9,441.4 209.9,447.3 212.4,447.3 212.4,452.9 215.0,452.9 215.0,456.7 217.5,456.7 217.5,460.5 220.0,460.5 220.0,463.6 222.5,463.6 222.5,465.5 225.0,465.5 225.0,466.8 227.5,466.8 227.5,468.0 230.0,468.0 230.0,469.0 232.5,469.0 232.5,469.9 235.0,469.9 235.0,470.8 237.5,470.8 237.5,471.5 240.0,471.5 240.0,472.2 242.5,472.2 242.5,472.8 245.0,472.8 245.0,473.3 247.5,473.3 247.5,473.8 250.0,473.8 250.0,474.2 252.5,474.2 252.5,474.6 255.0,474.6 255.0,474.9 256.7,474.9 256.7,476.5" fill="#bdbdbd"/>
<polygon points="256.7,474.3 300,474.9 340,475.6 370,476.1 370,476.5 256.7,476.5" fill="#3db33d"/>
<line x1="256.7" y1="390.6" x2="256.7" y2="476.5" stroke="#222" stroke-width="1" stroke-dasharray="3,2.5"/>
<path d="M141.0,476.4 C147.5,476.4 172.5,476.3 180.0,476.2 C187.5,476.1 184.3,476.1 186.0,475.8 C187.7,475.5 188.9,475.3 190.0,474.6 C191.1,473.9 191.8,473.3 192.6,471.8 C193.4,470.3 194.3,468.2 195.1,465.5 C195.9,462.8 196.8,459.2 197.6,455.4 C198.4,451.6 199.3,446.4 200.1,442.9 C200.9,439.3 201.8,436.6 202.6,434.1 C203.4,431.6 204.1,430.3 205.2,427.8 C206.2,425.3 207.7,421.3 208.9,419.0 C210.2,416.7 211.2,415.6 212.7,413.9 C214.2,412.2 215.8,410.4 217.7,408.9 C219.6,407.4 221.9,406.2 224.0,405.1 C226.1,404.1 227.6,403.4 230.3,402.6 C233.0,401.8 235.6,400.9 240.0,400.1 C244.4,399.3 250.4,398.3 256.5,397.6 C262.6,396.9 268.9,396.2 276.8,395.7 C284.7,395.2 294.7,394.7 303.6,394.4 C312.6,394.1 319.5,394.0 330.5,393.9 C341.5,393.8 363.2,393.8 369.8,393.8" fill="none" stroke="#111" stroke-width="1.3" stroke-linejoin="round" stroke-linecap="round"/>
<line x1="263.8" y1="426.6" x2="279.2" y2="426.6" stroke="#bdbdbd" stroke-width="2"/>
<line x1="263.8" y1="443.4" x2="279.2" y2="443.4" stroke="#3db33d" stroke-width="2"/>
<line x1="263.8" y1="459.9" x2="279.2" y2="459.9" stroke="#111" stroke-width="2"/>
<text x="286.6" y="430.4" font-size="11.5" font-weight="bold" font-family='"Liberation Serif", serif'>log<tspan font-size="11" dx="1" dy="3">2</tspan><tspan dy="-3">(</tspan><tspan font-size="14">π</tspan><tspan font-family='"Liberation Sans", sans-serif' font-weight="normal" font-size="10" dx="0.5" dy="3">ratio</tspan><tspan dy="-3">)</tspan><tspan font-family='"Liberation Sans", sans-serif' font-weight="normal" font-size="12.5">&lt;4.09</tspan></text>
<text x="286.6" y="446.5" font-size="11.5" font-weight="bold" font-family='"Liberation Serif", serif'>log<tspan font-size="11" dx="1" dy="3">2</tspan><tspan dy="-3">(</tspan><tspan font-size="14">π</tspan><tspan font-family='"Liberation Sans", sans-serif' font-weight="normal" font-size="10" dx="0.5" dy="3">ratio</tspan><tspan dy="-3">)</tspan><tspan font-family='"Liberation Sans", sans-serif' font-weight="normal" font-size="12.5">≥4.09</tspan></text>
<text x="285.7" y="463.4" font-size="11.7" text-anchor="start" font-weight="bold" font-family='"Liberation Serif", serif' fill="#000">Cumulative(%)</text>
<line x1="130.8" y1="479.3" x2="380.6" y2="479.3" stroke="#666" stroke-width="1"/>
<line x1="380.6" y1="479.3" x2="469" y2="479.3" stroke="#444" stroke-width="1"/>
<line x1="130.8" y1="479.3" x2="130.8" y2="720.6" stroke="#666" stroke-width="1"/>
<line x1="130.8" y1="720.6" x2="380.6" y2="720.6" stroke="#666" stroke-width="1"/>
<line x1="380.6" y1="720.9" x2="461.6" y2="720.9" stroke="#888" stroke-width="1"/>
<line x1="380.6" y1="394.2" x2="380.6" y2="721" stroke="#444" stroke-width="1"/>
<line x1="398.2" y1="475.7" x2="398.2" y2="479.3" stroke="#444" stroke-width="0.9"/>
<line x1="416.4" y1="475.7" x2="416.4" y2="479.3" stroke="#444" stroke-width="0.9"/>
<line x1="434" y1="475.7" x2="434" y2="479.3" stroke="#444" stroke-width="0.9"/>
<line x1="451.1" y1="475.7" x2="451.1" y2="479.3" stroke="#444" stroke-width="0.9"/>
<line x1="468.4" y1="475.7" x2="468.4" y2="479.3" stroke="#444" stroke-width="0.9"/>
<line x1="127.4" y1="488.3" x2="130.8" y2="488.3" stroke="#666" stroke-width="1"/>
<text x="125" y="493.5" font-size="14" text-anchor="end" font-weight="bold" font-family='"Liberation Serif", serif' fill="#000">4</text>
<line x1="127.4" y1="520.35" x2="130.8" y2="520.35" stroke="#666" stroke-width="1"/>
<text x="125" y="525.5500000000001" font-size="14" text-anchor="end" font-weight="bold" font-family='"Liberation Serif", serif' fill="#000">3</text>
<line x1="127.4" y1="552.4" x2="130.8" y2="552.4" stroke="#666" stroke-width="1"/>
<text x="125" y="557.6" font-size="14" text-anchor="end" font-weight="bold" font-family='"Liberation Serif", serif' fill="#000">2</text>
<line x1="127.4" y1="584.45" x2="130.8" y2="584.45" stroke="#666" stroke-width="1"/>
<text x="125" y="589.6500000000001" font-size="14" text-anchor="end" font-weight="bold" font-family='"Liberation Serif", serif' fill="#000">1</text>
<line x1="127.4" y1="616.5" x2="130.8" y2="616.5" stroke="#666" stroke-width="1"/>
<text x="125" y="621.7" font-size="14" text-anchor="end" font-weight="bold" font-family='"Liberation Serif", serif' fill="#000">0</text>
<line x1="127.4" y1="648.55" x2="130.8" y2="648.55" stroke="#666" stroke-width="1"/>
<text x="125" y="653.75" font-size="14" text-anchor="end" font-weight="bold" font-family='"Liberation Serif", serif' fill="#000">-1</text>
<line x1="127.4" y1="680.6" x2="130.8" y2="680.6" stroke="#666" stroke-width="1"/>
<text x="125" y="685.8000000000001" font-size="14" text-anchor="end" font-weight="bold" font-family='"Liberation Serif", serif' fill="#000">-2</text>
<line x1="127.4" y1="712.65" x2="130.8" y2="712.65" stroke="#666" stroke-width="1"/>
<text x="125" y="717.85" font-size="14" text-anchor="end" font-weight="bold" font-family='"Liberation Serif", serif' fill="#000">-3</text>
<text x="108.4" y="571.2" font-size="14" text-anchor="middle" font-weight="bold" font-family='"Liberation Serif", serif' fill="#000" transform="rotate(-90 108.4 571.2)">Z(F<tspan font-size="9.5" dy="2">ST</tspan><tspan dy="-2">)</tspan></text>
<line x1="197.5" y1="720.6" x2="197.5" y2="724" stroke="#666" stroke-width="1"/>
<line x1="270.1" y1="720.6" x2="270.1" y2="724" stroke="#666" stroke-width="1"/>
<line x1="342.4" y1="720.6" x2="342.4" y2="724" stroke="#666" stroke-width="1"/>
<text x="197.5" y="736.6" font-size="14" text-anchor="middle" font-weight="bold" font-family='"Liberation Serif", serif' fill="#000">0</text>
<text x="341.7" y="735.6" font-size="14" text-anchor="middle" font-weight="bold" font-family='"Liberation Serif", serif' fill="#000">10</text>
<text transform="translate(208.4 746) scale(1.0 1)" font-size="14" font-weight="bold" font-family='"Liberation Serif", serif'>log</text>
<text transform="translate(226.6 749.4) scale(1.0 1)" font-size="10" font-weight="bold" font-family='"Liberation Serif", serif'>2</text>
<text transform="translate(232.2 746) scale(1.0 1)" font-size="14" font-weight="bold" font-family='"Liberation Serif", serif'>(</text>
<text transform="translate(235.6 746.6) scale(1.3 1)" font-size="18" font-weight="bold" font-family='"Liberation Serif", serif' stroke="#000" stroke-width="0.2">π</text>
<text transform="translate(252.2 749.6) scale(1.0 1)" font-size="10.5" font-weight="bold" font-family='"Liberation Serif", serif'>Wild</text>
<text transform="translate(276.6 746) scale(1.0 1)" font-size="14" font-weight="bold" font-family='"Liberation Serif", serif'>/</text>
<text transform="translate(283.8 746.6) scale(1.3 1)" font-size="18" font-weight="bold" font-family='"Liberation Serif", serif' stroke="#000" stroke-width="0.2">π</text>
<text transform="translate(298.6 750.6) scale(1.0 1)" font-size="10" font-weight="bold" font-family='"Liberation Serif", serif'>Angora</text>
<text transform="translate(331.2 746) scale(1.0 1)" font-size="14" font-weight="bold" font-family='"Liberation Serif", serif'>)</text>
<line x1="380.6" y1="720.9" x2="380.6" y2="723.4" stroke="#888" stroke-width="1"/>
<line x1="394.05" y1="720.9" x2="394.05" y2="723.4" stroke="#888" stroke-width="1"/>
<line x1="407.5" y1="720.9" x2="407.5" y2="723.4" stroke="#888" stroke-width="1"/>
<line x1="420.95000000000005" y1="720.9" x2="420.95000000000005" y2="723.4" stroke="#888" stroke-width="1"/>
<line x1="434.40000000000003" y1="720.9" x2="434.40000000000003" y2="723.4" stroke="#888" stroke-width="1"/>
<line x1="447.85" y1="720.9" x2="447.85" y2="723.4" stroke="#888" stroke-width="1"/>
<line x1="461.3" y1="720.9" x2="461.3" y2="723.4" stroke="#888" stroke-width="1"/>
<text x="380.6" y="735.2" font-size="12.5" text-anchor="middle" font-weight="bold" font-family='"Liberation Serif", serif' fill="#000">0</text>
<text x="407.5" y="735.2" font-size="12.5" text-anchor="middle" font-weight="bold" font-family='"Liberation Serif", serif' fill="#000">2</text>
<text x="434.40000000000003" y="735.2" font-size="12.5" text-anchor="middle" font-weight="bold" font-family='"Liberation Serif", serif' fill="#000">4</text>
<text x="461.3" y="735.2" font-size="12.5" text-anchor="middle" font-weight="bold" font-family='"Liberation Serif", serif' fill="#000">6</text>
<text x="384" y="749.3" font-size="15" text-anchor="start" font-weight="bold" font-family='"Liberation Serif", serif' fill="#000">Counts(10<tspan font-size="11" dy="-8">3</tspan><tspan dy="8">)</tspan></text>
<line x1="385.6" y1="678.4" x2="400.4" y2="678.4" stroke="#bdbdbd" stroke-width="2.2"/>
<line x1="385.6" y1="696.2" x2="400.4" y2="696.2" stroke="#ff7f00" stroke-width="2.2"/>
<line x1="385.6" y1="711.3" x2="400.4" y2="711.3" stroke="#111" stroke-width="2.2"/>
<text x="409.2" y="681.8" font-size="12" font-weight="bold" font-family='"Liberation Serif", serif'>Z(F<tspan font-size="9.5" dy="3">ST</tspan><tspan dy="-3">)&lt;1.87</tspan></text>
<text x="409.2" y="698.6" font-size="12" font-weight="bold" font-family='"Liberation Serif", serif'>Z(F<tspan font-size="9.5" dy="3">ST</tspan><tspan dy="-3">)≥1.87</tspan></text>
<text x="408.8" y="714.1" font-size="11.5" text-anchor="start" font-weight="bold" font-family='"Liberation Serif", serif' fill="#000">Cumulative(%)</text>
<polygon points="380.6,487.0 380.7,487.0 380.7,488.9 380.8,488.9 380.8,490.8 381.0,490.8 381.0,492.7 381.1,492.7 381.1,494.6 381.2,494.6 381.2,496.5 381.3,496.5 381.3,498.4 381.4,498.4 381.4,500.3 381.4,500.3 381.4,502.2 381.5,502.2 381.5,504.1 381.6,504.1 381.6,506.0 381.6,506.0 381.6,507.9 381.7,507.9 381.7,509.8 381.7,509.8 381.7,511.7 381.8,511.7 381.8,513.6 381.8,513.6 381.8,515.5 381.9,515.5 381.9,517.4 381.9,517.4 381.9,519.3 382.0,519.3 382.0,521.2 382.2,521.2 382.2,523.1 382.5,523.1 382.5,525.0 382.9,525.0 382.9,526.9 383.3,526.9 383.3,528.8 383.7,528.8 383.7,530.7 384.3,530.7 384.3,532.6 385.1,532.6 385.1,534.5 385.8,534.5 385.8,536.4 386.6,536.4 386.6,538.3 387.3,538.3 387.3,540.2 388.7,540.2 388.7,542.1 390.4,542.1 390.4,544.0 392.2,544.0 392.2,545.9 396.0,545.9 396.0,547.8 398.7,547.8 398.7,549.7 401.0,549.7 401.0,551.6 403.3,551.6 403.3,553.5 405.8,553.5 405.8,555.4 407.1,555.4 407.1,556.3 380.6,556.3" fill="#ff8000"/>
<polygon points="380.6,556.3 408.9,556.3 408.9,558.2 410.5,558.2 410.5,560.1 410.7,560.1 410.7,562.0 410.8,562.0 410.8,563.9 410.9,563.9 410.9,565.8 411.1,565.8 411.1,567.7 411.5,567.7 411.5,569.6 411.8,569.6 411.8,571.5 412.1,571.5 412.1,573.4 412.8,573.4 412.8,575.3 413.7,575.3 413.7,577.2 414.7,577.2 414.7,579.1 415.6,579.1 415.6,581.0 416.6,581.0 416.6,582.9 417.6,582.9 417.6,584.8 418.5,584.8 418.5,586.7 419.5,586.7 419.5,588.6 420.4,588.6 420.4,590.5 421.6,590.5 421.6,592.4 422.8,592.4 422.8,594.3 424.1,594.3 424.1,596.2 425.4,596.2 425.4,598.1 426.7,598.1 426.7,600.0 427.9,600.0 427.9,601.9 429.7,601.9 429.7,603.8 431.6,603.8 431.6,605.7 433.5,605.7 433.5,607.6 436.0,607.6 436.0,609.5 438.5,609.5 438.5,611.4 441.0,611.4 441.0,613.3 443.6,613.3 443.6,615.2 446.1,615.2 446.1,617.1 448.7,617.1 448.7,619.0 451.2,619.0 451.2,620.9 453.7,620.9 453.7,622.8 456.1,622.8 456.1,624.7 458.0,624.7 458.0,626.6 459.9,626.6 459.9,628.5 461.8,628.5 461.8,630.4 463.4,630.4 463.4,632.3 465.0,632.3 465.0,634.2 466.5,634.2 466.5,636.1 468.0,636.1 468.0,638.0 468.7,638.0 468.7,639.9 467.9,639.9 467.9,641.8 467.2,641.8 467.2,643.7 464.9,643.7 464.9,645.6 461.8,645.6 461.8,647.5 457.9,647.5 457.9,649.4 454.1,649.4 454.1,651.3 449.0,651.3 449.0,653.2 442.7,653.2 442.7,655.1 436.5,655.1 436.5,657.0 430.2,657.0 430.2,658.9 423.9,658.9 423.9,660.8 417.3,660.8 417.3,662.7 410.9,662.7 410.9,664.6 404.7,664.6 404.7,666.5 398.4,666.5 398.4,668.4 392.1,668.4 392.1,670.3 386.0,670.3 386.0,672.2 382.4,672.2 382.4,672.7 380.6,672.7" fill="#c0c0c0"/>
<line x1="380.6" y1="556.3" x2="470" y2="556.3" stroke="#555" stroke-width="1" stroke-dasharray="3,2.5"/>
<path d="M468.4,486.5 C468.4,493.9 468.6,521.4 468.4,530.6 C468.2,539.8 467.9,538.6 467.4,541.8 C466.9,545.0 466.2,547.6 465.5,550.0 C464.8,552.4 464.6,553.3 463.3,556.3 C462.0,559.3 459.7,564.0 457.8,567.8 C455.9,571.6 454.4,575.0 452.2,579.0 C450.0,583.0 447.3,588.0 444.8,592.0 C442.3,596.0 440.2,599.3 437.4,603.0 C434.6,606.7 431.8,609.9 428.1,614.0 C424.4,618.1 419.4,623.1 415.1,627.5 C410.8,631.9 406.1,636.2 402.1,640.2 C398.1,644.2 393.9,647.9 391.0,651.3 C388.1,654.7 386.1,657.8 384.5,660.6 C382.9,663.4 382.3,665.6 381.7,668.0 C381.1,670.4 381.1,673.8 381.0,675.0" fill="none" stroke="#111" stroke-width="1.3" stroke-linejoin="round" stroke-linecap="round"/>
<line x1="380.9" y1="668" x2="380.9" y2="711.5" stroke="#111" stroke-width="1.8"/>
<polygon points="192.9,678.5 197.8,676.2 201.5,668.2 205.5,653.6 210.9,641.7 217.1,630.0 224.7,618.2 233.7,606.6 243.8,590.8 250.1,587.5 261.1,584.3 271.8,581.4 284.4,578.4 298.6,576.7 311.2,571.6 319.9,564.8 325.8,558.6 300.0,558.2 255.0,558.0 255.0,514.5 254.0,515.4 247.8,517.0 240.1,518.5 233.1,517.1 229.3,519.7 221.5,522.8 216.5,522.8 213.9,529.2 209.5,537.9 205.2,546.5 203.7,557.0 202.0,558.6 196.9,565.8 193.5,573.5 192.1,580.2 191.1,590.2 189.6,604.8 187.6,619.2 185.6,634.2 184.1,648.1 184.1,659.8 186.5,667.4 189.9,674.7 192.9,678.5" fill="#000"/>
<polygon points="258.4,554.6 362.9,554.6 362.9,554.5 360.8,552.2 357.2,549.9 349.3,548.4 324.2,543.5 315.7,540.5 307.4,536.2 299.2,533.5 292.7,530.7 282.7,529.2 274.8,525.9 267.0,528.3 258.4,529.1 258.4,554.6" fill="#5cb54e"/>
<g fill="#000"><circle cx="200.5" cy="561.6" r="0.85"/><circle cx="251.5" cy="589.6" r="0.85"/><circle cx="301.9" cy="578.7" r="0.85"/><circle cx="192.2" cy="566.6" r="0.85"/><circle cx="222.8" cy="513.3" r="0.85"/><circle cx="189.5" cy="571.3" r="0.85"/><circle cx="207.5" cy="537.6" r="0.85"/><circle cx="326.3" cy="561.4" r="0.85"/><circle cx="252.1" cy="513.9" r="0.85"/><circle cx="291.1" cy="578.2" r="0.85"/><circle cx="238.8" cy="516.6" r="0.85"/><circle cx="254.6" cy="547.3" r="0.85"/><circle cx="228.1" cy="518.4" r="0.85"/><circle cx="243.9" cy="598.6" r="0.85"/><circle cx="232.0" cy="617.6" r="0.85"/><circle cx="259.9" cy="584.3" r="0.85"/><circle cx="225.9" cy="619.8" r="0.85"/><circle cx="213.6" cy="642.3" r="0.85"/><circle cx="185.6" cy="607.6" r="0.85"/><circle cx="185.3" cy="639.5" r="0.85"/><circle cx="192.4" cy="573.9" r="0.85"/><circle cx="290.3" cy="558.6" r="0.85"/><circle cx="180.5" cy="640.5" r="0.85"/><circle cx="265.1" cy="586.4" r="0.85"/><circle cx="182.8" cy="648.8" r="0.85"/><circle cx="299.7" cy="557.4" r="0.85"/><circle cx="203.0" cy="553.6" r="0.85"/><circle cx="182.9" cy="665.1" r="0.85"/><circle cx="200.5" cy="677.0" r="0.85"/><circle cx="185.5" cy="675.2" r="0.85"/><circle cx="263.9" cy="583.1" r="0.85"/><circle cx="184.9" cy="669.7" r="0.85"/><circle cx="189.7" cy="580.8" r="0.85"/><circle cx="205.6" cy="660.8" r="0.85"/><circle cx="255.6" cy="522.3" r="0.85"/><circle cx="183.6" cy="642.6" r="0.85"/><circle cx="181.6" cy="643.5" r="0.85"/><circle cx="254.9" cy="540.8" r="0.85"/><circle cx="186.3" cy="616.9" r="0.85"/><circle cx="181.5" cy="655.0" r="0.85"/><circle cx="199.8" cy="671.5" r="0.85"/><circle cx="239.0" cy="607.7" r="0.85"/><circle cx="193.5" cy="573.6" r="0.85"/><circle cx="253.6" cy="513.2" r="0.85"/><circle cx="204.6" cy="662.4" r="0.85"/><circle cx="306.8" cy="573.1" r="0.85"/><circle cx="237.5" cy="603.3" r="0.85"/><circle cx="233.1" cy="515.0" r="0.85"/><circle cx="212.4" cy="648.2" r="0.85"/><circle cx="197.8" cy="677.3" r="0.85"/><circle cx="207.7" cy="653.7" r="0.85"/><circle cx="250.2" cy="514.1" r="0.85"/><circle cx="272.0" cy="556.8" r="0.85"/><circle cx="201.5" cy="679.2" r="0.85"/><circle cx="223.8" cy="620.5" r="0.85"/><circle cx="228.1" cy="616.7" r="0.85"/><circle cx="286.3" cy="579.5" r="0.85"/><circle cx="196.3" cy="681.4" r="0.85"/><circle cx="324.1" cy="559.1" r="0.85"/><circle cx="276.4" cy="583.3" r="0.85"/><circle cx="255.3" cy="590.1" r="0.85"/><circle cx="204.1" cy="661.4" r="0.85"/><circle cx="232.2" cy="609.8" r="0.85"/><circle cx="236.6" cy="602.4" r="0.85"/><circle cx="192.0" cy="575.4" r="0.85"/><circle cx="187.1" cy="624.3" r="0.85"/><circle cx="212.2" cy="656.7" r="0.85"/><circle cx="202.2" cy="553.7" r="0.85"/><circle cx="221.7" cy="521.7" r="0.85"/><circle cx="331.6" cy="559.1" r="0.85"/><circle cx="252.2" cy="509.3" r="0.85"/><circle cx="255.9" cy="531.3" r="0.85"/><circle cx="211.5" cy="647.2" r="0.85"/><circle cx="182.6" cy="661.2" r="0.85"/><circle cx="212.2" cy="639.3" r="0.85"/><circle cx="227.8" cy="519.1" r="0.85"/><circle cx="236.2" cy="605.4" r="0.85"/><circle cx="244.4" cy="597.6" r="0.85"/><circle cx="209.5" cy="530.1" r="0.85"/><circle cx="268.2" cy="557.7" r="0.85"/><circle cx="228.3" cy="618.5" r="0.85"/><circle cx="254.8" cy="530.0" r="0.85"/><circle cx="285.9" cy="578.1" r="0.85"/><circle cx="244.3" cy="517.7" r="0.85"/><circle cx="319.2" cy="567.1" r="0.85"/><circle cx="198.1" cy="560.8" r="0.85"/><circle cx="238.2" cy="599.7" r="0.85"/><circle cx="255.4" cy="523.1" r="0.85"/><circle cx="318.5" cy="569.5" r="0.85"/><circle cx="202.5" cy="666.8" r="0.85"/><circle cx="254.7" cy="551.9" r="0.85"/><circle cx="253.8" cy="514.9" r="0.85"/><circle cx="326.0" cy="560.8" r="0.85"/><circle cx="211.8" cy="659.0" r="0.85"/><circle cx="187.3" cy="597.7" r="0.85"/><circle cx="188.3" cy="596.6" r="0.85"/><circle cx="184.1" cy="637.1" r="0.85"/><circle cx="230.7" cy="518.8" r="0.85"/><circle cx="287.4" cy="557.3" r="0.85"/><circle cx="188.4" cy="606.4" r="0.85"/><circle cx="243.1" cy="600.1" r="0.85"/><circle cx="315.6" cy="568.3" r="0.85"/><circle cx="236.8" cy="602.9" r="0.85"/><circle cx="189.7" cy="596.0" r="0.85"/><circle cx="266.6" cy="557.1" r="0.85"/><circle cx="300.3" cy="580.2" r="0.85"/><circle cx="237.9" cy="599.4" r="0.85"/><circle cx="163.7" cy="669.5" r="0.85"/><circle cx="209.2" cy="533.2" r="0.85"/><circle cx="185.3" cy="634.7" r="0.85"/><circle cx="250.7" cy="515.5" r="0.85"/><circle cx="242.4" cy="596.6" r="0.85"/><circle cx="233.9" cy="607.3" r="0.85"/><circle cx="211.0" cy="532.7" r="0.85"/><circle cx="194.5" cy="682.9" r="0.85"/><circle cx="187.9" cy="614.8" r="0.85"/><circle cx="188.2" cy="673.3" r="0.85"/><circle cx="275.0" cy="557.6" r="0.85"/><circle cx="184.9" cy="624.7" r="0.85"/><circle cx="242.7" cy="511.6" r="0.85"/><circle cx="184.1" cy="594.7" r="0.85"/><circle cx="195.8" cy="567.8" r="0.85"/><circle cx="299.8" cy="558.2" r="0.85"/><circle cx="180.8" cy="639.9" r="0.85"/><circle cx="218.7" cy="629.9" r="0.85"/><circle cx="187.4" cy="616.5" r="0.85"/><circle cx="206.6" cy="658.7" r="0.85"/><circle cx="206.3" cy="653.5" r="0.85"/><circle cx="186.5" cy="628.4" r="0.85"/><circle cx="176.4" cy="645.9" r="0.85"/><circle cx="309.1" cy="557.1" r="0.85"/><circle cx="217.0" cy="521.4" r="0.85"/><circle cx="194.9" cy="548.4" r="0.85"/><circle cx="276.5" cy="581.9" r="0.85"/><circle cx="304.2" cy="578.8" r="0.85"/><circle cx="272.6" cy="585.0" r="0.85"/><circle cx="311.3" cy="571.6" r="0.85"/><circle cx="181.9" cy="643.7" r="0.85"/><circle cx="184.8" cy="606.5" r="0.85"/><circle cx="313.4" cy="574.2" r="0.85"/><circle cx="304.1" cy="557.0" r="0.85"/><circle cx="219.6" cy="521.6" r="0.85"/><circle cx="212.9" cy="644.2" r="0.85"/><circle cx="215.6" cy="638.4" r="0.85"/><circle cx="203.6" cy="669.2" r="0.85"/><circle cx="186.2" cy="633.7" r="0.85"/><circle cx="233.9" cy="517.7" r="0.85"/><circle cx="315.2" cy="570.4" r="0.85"/><circle cx="178.1" cy="656.2" r="0.85"/><circle cx="199.9" cy="559.3" r="0.85"/><circle cx="186.0" cy="671.7" r="0.85"/><circle cx="255.2" cy="528.3" r="0.85"/><circle cx="207.3" cy="659.3" r="0.85"/><circle cx="233.4" cy="510.7" r="0.85"/><circle cx="276.5" cy="557.5" r="0.85"/><circle cx="216.2" cy="522.6" r="0.85"/><circle cx="251.3" cy="516.5" r="0.85"/><circle cx="210.0" cy="645.5" r="0.85"/><circle cx="255.3" cy="550.4" r="0.85"/><circle cx="238.3" cy="615.8" r="0.85"/><circle cx="189.7" cy="583.1" r="0.85"/><circle cx="255.1" cy="538.0" r="0.85"/><circle cx="186.4" cy="589.8" r="0.85"/><circle cx="307.3" cy="557.6" r="0.85"/><circle cx="308.6" cy="572.3" r="0.85"/><circle cx="189.6" cy="593.0" r="0.85"/><circle cx="206.8" cy="544.4" r="0.85"/><circle cx="185.3" cy="638.3" r="0.85"/><circle cx="294.9" cy="585.3" r="0.85"/><circle cx="184.8" cy="628.6" r="0.85"/><circle cx="202.0" cy="676.5" r="0.85"/><circle cx="306.6" cy="557.0" r="0.85"/><circle cx="188.1" cy="616.8" r="0.85"/><circle cx="222.9" cy="621.9" r="0.85"/><circle cx="219.2" cy="523.1" r="0.85"/><circle cx="267.8" cy="591.3" r="0.85"/><circle cx="225.5" cy="617.9" r="0.85"/><circle cx="264.8" cy="584.4" r="0.85"/><circle cx="253.3" cy="590.1" r="0.85"/><circle cx="291.7" cy="577.9" r="0.85"/><circle cx="323.4" cy="568.1" r="0.85"/><circle cx="219.9" cy="522.2" r="0.85"/><circle cx="261.6" cy="584.8" r="0.85"/><circle cx="206.5" cy="535.4" r="0.85"/><circle cx="187.6" cy="613.6" r="0.85"/><circle cx="280.4" cy="582.2" r="0.85"/><circle cx="328.6" cy="572.9" r="0.85"/><circle cx="245.5" cy="592.4" r="0.85"/><circle cx="249.3" cy="587.4" r="0.85"/><circle cx="213.8" cy="644.6" r="0.85"/><circle cx="187.1" cy="618.8" r="0.85"/><circle cx="282.0" cy="557.1" r="0.85"/><circle cx="200.2" cy="678.1" r="0.85"/><circle cx="217.1" cy="631.6" r="0.85"/><circle cx="188.8" cy="595.6" r="0.85"/><circle cx="241.6" cy="598.4" r="0.85"/><circle cx="203.8" cy="661.8" r="0.85"/><circle cx="240.5" cy="596.7" r="0.85"/><circle cx="231.9" cy="612.6" r="0.85"/><circle cx="242.9" cy="592.6" r="0.85"/><circle cx="210.5" cy="643.4" r="0.85"/><circle cx="189.5" cy="592.0" r="0.85"/><circle cx="314.4" cy="558.6" r="0.85"/><circle cx="212.8" cy="640.5" r="0.85"/><circle cx="324.3" cy="563.1" r="0.85"/><circle cx="196.8" cy="559.4" r="0.85"/><circle cx="195.2" cy="564.6" r="0.85"/><circle cx="249.0" cy="590.6" r="0.85"/><circle cx="193.4" cy="566.6" r="0.85"/><circle cx="175.6" cy="635.8" r="0.85"/><circle cx="291.0" cy="556.9" r="0.85"/><circle cx="184.8" cy="637.9" r="0.85"/><circle cx="219.9" cy="624.8" r="0.85"/><circle cx="300.6" cy="556.7" r="0.85"/><circle cx="224.0" cy="620.2" r="0.85"/><circle cx="218.8" cy="522.0" r="0.85"/><circle cx="210.1" cy="647.3" r="0.85"/><circle cx="185.7" cy="615.1" r="0.85"/><circle cx="183.7" cy="667.1" r="0.85"/><circle cx="251.3" cy="508.3" r="0.85"/><circle cx="198.9" cy="549.5" r="0.85"/><circle cx="233.6" cy="606.1" r="0.85"/><circle cx="202.0" cy="555.0" r="0.85"/><circle cx="245.2" cy="516.9" r="0.85"/><circle cx="255.7" cy="555.2" r="0.85"/><circle cx="186.6" cy="626.8" r="0.85"/><circle cx="209.1" cy="676.3" r="0.85"/><circle cx="213.1" cy="638.0" r="0.85"/><circle cx="311.3" cy="557.8" r="0.85"/><circle cx="184.7" cy="668.5" r="0.85"/><circle cx="188.4" cy="673.8" r="0.85"/><circle cx="320.3" cy="567.8" r="0.85"/><circle cx="304.4" cy="573.9" r="0.85"/><circle cx="239.9" cy="596.9" r="0.85"/><circle cx="301.8" cy="575.5" r="0.85"/><circle cx="184.4" cy="659.8" r="0.85"/><circle cx="210.3" cy="644.4" r="0.85"/><circle cx="183.3" cy="621.3" r="0.85"/><circle cx="228.8" cy="614.3" r="0.85"/><circle cx="204.4" cy="546.0" r="0.85"/><circle cx="187.1" cy="673.5" r="0.85"/><circle cx="256.0" cy="546.9" r="0.85"/><circle cx="194.7" cy="566.3" r="0.85"/><circle cx="203.5" cy="666.0" r="0.85"/><circle cx="327.4" cy="557.2" r="0.85"/><circle cx="208.0" cy="663.2" r="0.85"/><circle cx="297.1" cy="557.6" r="0.85"/><circle cx="184.4" cy="636.4" r="0.85"/><circle cx="248.4" cy="591.3" r="0.85"/><circle cx="253.8" cy="588.9" r="0.85"/><circle cx="183.8" cy="665.0" r="0.85"/><circle cx="186.3" cy="571.9" r="0.85"/><circle cx="273.4" cy="582.9" r="0.85"/><circle cx="175.9" cy="667.3" r="0.85"/><circle cx="185.1" cy="644.0" r="0.85"/><circle cx="184.6" cy="647.0" r="0.85"/><circle cx="184.0" cy="647.5" r="0.85"/><circle cx="254.0" cy="515.3" r="0.85"/><circle cx="277.0" cy="585.3" r="0.85"/><circle cx="319.7" cy="571.8" r="0.85"/><circle cx="282.8" cy="558.5" r="0.85"/><circle cx="193.7" cy="678.5" r="0.85"/><circle cx="192.1" cy="567.9" r="0.85"/><circle cx="302.5" cy="576.9" r="0.85"/><circle cx="186.7" cy="624.1" r="0.85"/><circle cx="255.6" cy="544.1" r="0.85"/><circle cx="292.8" cy="579.3" r="0.85"/><circle cx="223.9" cy="519.3" r="0.85"/><circle cx="183.6" cy="656.3" r="0.85"/><circle cx="185.6" cy="633.1" r="0.85"/><circle cx="208.1" cy="655.3" r="0.85"/><circle cx="251.5" cy="587.4" r="0.85"/><circle cx="255.1" cy="555.1" r="0.85"/><circle cx="184.5" cy="616.6" r="0.85"/><circle cx="189.5" cy="602.7" r="0.85"/><circle cx="188.9" cy="591.1" r="0.85"/><circle cx="272.6" cy="557.6" r="0.85"/><circle cx="278.9" cy="584.7" r="0.85"/><circle cx="297.3" cy="576.5" r="0.85"/><circle cx="231.4" cy="611.9" r="0.85"/><circle cx="241.2" cy="598.4" r="0.85"/><circle cx="189.8" cy="587.6" r="0.85"/><circle cx="189.1" cy="575.7" r="0.85"/><circle cx="192.9" cy="556.2" r="0.85"/><circle cx="228.6" cy="631.0" r="0.85"/><circle cx="241.1" cy="516.4" r="0.85"/><circle cx="213.3" cy="661.1" r="0.85"/><circle cx="187.8" cy="603.8" r="0.85"/><circle cx="206.9" cy="540.7" r="0.85"/><circle cx="220.7" cy="634.3" r="0.85"/><circle cx="299.1" cy="576.7" r="0.85"/><circle cx="189.0" cy="605.5" r="0.85"/><circle cx="193.1" cy="683.4" r="0.85"/><circle cx="185.9" cy="619.6" r="0.85"/><circle cx="254.6" cy="511.2" r="0.85"/><circle cx="185.9" cy="599.4" r="0.85"/><circle cx="193.6" cy="679.7" r="0.85"/><circle cx="213.0" cy="524.9" r="0.85"/><circle cx="187.7" cy="621.8" r="0.85"/><circle cx="202.4" cy="553.7" r="0.85"/><circle cx="211.5" cy="521.4" r="0.85"/><circle cx="322.0" cy="568.1" r="0.85"/><circle cx="236.2" cy="607.0" r="0.85"/><circle cx="184.3" cy="670.8" r="0.85"/><circle cx="211.7" cy="642.2" r="0.85"/><circle cx="292.2" cy="578.7" r="0.85"/><circle cx="226.6" cy="521.3" r="0.85"/><circle cx="206.1" cy="651.4" r="0.85"/><circle cx="232.4" cy="609.0" r="0.85"/><circle cx="238.4" cy="610.7" r="0.85"/><circle cx="239.8" cy="515.8" r="0.85"/><circle cx="261.9" cy="585.7" r="0.85"/><circle cx="313.5" cy="580.5" r="0.85"/><circle cx="255.4" cy="558.2" r="0.85"/><circle cx="218.2" cy="637.5" r="0.85"/><circle cx="186.3" cy="627.5" r="0.85"/><circle cx="197.1" cy="676.4" r="0.85"/><circle cx="274.6" cy="556.8" r="0.85"/><circle cx="206.5" cy="662.6" r="0.85"/><circle cx="203.8" cy="669.0" r="0.85"/><circle cx="306.9" cy="556.7" r="0.85"/><circle cx="178.7" cy="622.2" r="0.85"/><circle cx="321.4" cy="566.0" r="0.85"/><circle cx="284.5" cy="558.4" r="0.85"/><circle cx="199.9" cy="555.3" r="0.85"/><circle cx="306.4" cy="557.4" r="0.85"/><circle cx="187.7" cy="669.6" r="0.85"/><circle cx="283.3" cy="582.3" r="0.85"/><circle cx="183.7" cy="655.5" r="0.85"/><circle cx="288.8" cy="578.5" r="0.85"/><circle cx="204.5" cy="664.1" r="0.85"/><circle cx="189.7" cy="601.0" r="0.85"/><circle cx="190.0" cy="583.7" r="0.85"/><circle cx="192.9" cy="680.0" r="0.85"/><circle cx="300.6" cy="557.3" r="0.85"/><circle cx="240.2" cy="599.0" r="0.85"/><circle cx="183.6" cy="644.5" r="0.85"/><circle cx="280.9" cy="581.8" r="0.85"/><circle cx="222.7" cy="522.6" r="0.85"/><circle cx="229.2" cy="616.1" r="0.85"/><circle cx="183.6" cy="668.8" r="0.85"/><circle cx="182.7" cy="572.5" r="0.85"/><circle cx="210.0" cy="652.4" r="0.85"/><circle cx="181.3" cy="654.1" r="0.85"/><circle cx="307.6" cy="578.5" r="0.85"/><circle cx="252.9" cy="511.4" r="0.85"/><circle cx="205.7" cy="677.2" r="0.85"/><circle cx="190.2" cy="588.7" r="0.85"/><circle cx="184.5" cy="613.9" r="0.85"/><circle cx="217.6" cy="636.4" r="0.85"/><circle cx="256.6" cy="587.1" r="0.85"/><circle cx="311.9" cy="557.4" r="0.85"/><circle cx="241.8" cy="595.9" r="0.85"/><circle cx="267.4" cy="556.8" r="0.85"/><circle cx="255.6" cy="587.4" r="0.85"/><circle cx="221.7" cy="627.6" r="0.85"/><circle cx="214.3" cy="528.4" r="0.85"/><circle cx="232.2" cy="514.5" r="0.85"/><circle cx="193.5" cy="561.7" r="0.85"/><circle cx="198.8" cy="678.3" r="0.85"/><circle cx="303.5" cy="557.1" r="0.85"/><circle cx="217.6" cy="633.8" r="0.85"/><circle cx="222.0" cy="627.6" r="0.85"/><circle cx="190.5" cy="587.9" r="0.85"/><circle cx="254.6" cy="544.8" r="0.85"/><circle cx="185.8" cy="666.6" r="0.85"/><circle cx="249.0" cy="516.5" r="0.85"/><circle cx="205.3" cy="543.5" r="0.85"/><circle cx="203.0" cy="661.6" r="0.85"/><circle cx="231.1" cy="611.3" r="0.85"/><circle cx="199.8" cy="679.6" r="0.85"/><circle cx="253.7" cy="514.1" r="0.85"/><circle cx="220.8" cy="520.9" r="0.85"/><circle cx="209.5" cy="646.3" r="0.85"/><circle cx="204.0" cy="662.8" r="0.85"/><circle cx="225.2" cy="631.9" r="0.85"/><circle cx="220.0" cy="633.6" r="0.85"/><circle cx="204.4" cy="542.9" r="0.85"/><circle cx="186.4" cy="612.4" r="0.85"/><circle cx="255.8" cy="525.1" r="0.85"/><circle cx="212.7" cy="641.9" r="0.85"/><circle cx="313.7" cy="558.3" r="0.85"/><circle cx="247.5" cy="589.6" r="0.85"/><circle cx="324.9" cy="561.5" r="0.85"/><circle cx="190.9" cy="676.1" r="0.85"/><circle cx="321.2" cy="557.8" r="0.85"/><circle cx="187.5" cy="671.9" r="0.85"/><circle cx="295.1" cy="587.4" r="0.85"/><circle cx="200.1" cy="561.7" r="0.85"/><circle cx="204.0" cy="660.8" r="0.85"/><circle cx="212.6" cy="528.2" r="0.85"/><circle cx="230.0" cy="515.8" r="0.85"/><circle cx="216.0" cy="631.7" r="0.85"/><circle cx="218.4" cy="634.7" r="0.85"/><circle cx="268.3" cy="592.3" r="0.85"/><circle cx="207.4" cy="650.7" r="0.85"/><circle cx="186.0" cy="625.6" r="0.85"/><circle cx="190.0" cy="574.0" r="0.85"/><circle cx="234.6" cy="608.7" r="0.85"/><circle cx="264.9" cy="584.6" r="0.85"/><circle cx="179.8" cy="648.1" r="0.85"/><circle cx="208.9" cy="655.3" r="0.85"/><circle cx="188.7" cy="675.8" r="0.85"/><circle cx="232.5" cy="517.3" r="0.85"/><circle cx="230.7" cy="514.6" r="0.85"/><circle cx="200.6" cy="669.8" r="0.85"/><circle cx="289.7" cy="557.2" r="0.85"/><circle cx="219.7" cy="629.7" r="0.85"/><circle cx="189.0" cy="604.0" r="0.85"/><circle cx="282.6" cy="556.7" r="0.85"/><circle cx="279.8" cy="558.5" r="0.85"/><circle cx="249.2" cy="589.3" r="0.85"/><circle cx="230.3" cy="510.7" r="0.85"/><circle cx="189.2" cy="606.3" r="0.85"/><circle cx="215.5" cy="517.1" r="0.85"/><circle cx="183.0" cy="629.1" r="0.85"/><circle cx="328.2" cy="558.0" r="0.85"/><circle cx="201.5" cy="554.4" r="0.85"/><circle cx="213.9" cy="639.7" r="0.85"/><circle cx="180.3" cy="646.5" r="0.85"/><circle cx="189.7" cy="590.0" r="0.85"/><circle cx="235.7" cy="610.0" r="0.85"/><circle cx="332.0" cy="557.1" r="0.85"/><circle cx="255.2" cy="521.4" r="0.85"/><circle cx="221.8" cy="517.0" r="0.85"/><circle cx="183.9" cy="625.3" r="0.85"/><circle cx="192.2" cy="684.0" r="0.85"/><circle cx="193.7" cy="570.3" r="0.85"/><circle cx="262.2" cy="558.5" r="0.85"/><circle cx="236.9" cy="516.3" r="0.85"/><circle cx="327.1" cy="561.3" r="0.85"/><circle cx="185.3" cy="624.7" r="0.85"/><circle cx="268.2" cy="582.9" r="0.85"/><circle cx="206.8" cy="533.6" r="0.85"/><circle cx="255.5" cy="528.4" r="0.85"/><circle cx="208.3" cy="539.4" r="0.85"/><circle cx="181.8" cy="661.4" r="0.85"/><circle cx="209.3" cy="531.9" r="0.85"/><circle cx="185.3" cy="638.9" r="0.85"/><circle cx="216.6" cy="516.6" r="0.85"/><circle cx="194.0" cy="564.9" r="0.85"/><circle cx="255.9" cy="548.0" r="0.85"/><circle cx="296.3" cy="557.9" r="0.85"/><circle cx="325.9" cy="557.9" r="0.85"/><circle cx="225.4" cy="521.1" r="0.85"/><circle cx="189.9" cy="589.3" r="0.85"/><circle cx="208.1" cy="536.4" r="0.85"/><circle cx="198.8" cy="551.0" r="0.85"/><circle cx="327.6" cy="569.1" r="0.85"/><circle cx="318.8" cy="566.3" r="0.85"/><circle cx="324.7" cy="563.2" r="0.85"/><circle cx="199.9" cy="553.1" r="0.85"/><circle cx="185.7" cy="619.0" r="0.85"/><circle cx="240.0" cy="515.6" r="0.85"/><circle cx="203.4" cy="547.2" r="0.85"/><circle cx="183.9" cy="661.2" r="0.85"/><circle cx="189.2" cy="595.9" r="0.85"/><circle cx="184.2" cy="658.8" r="0.85"/><circle cx="231.5" cy="618.0" r="0.85"/><circle cx="238.0" cy="516.0" r="0.85"/><circle cx="230.1" cy="612.1" r="0.85"/><circle cx="304.5" cy="558.4" r="0.85"/><circle cx="183.2" cy="646.7" r="0.85"/><circle cx="291.1" cy="581.3" r="0.85"/><circle cx="269.4" cy="581.6" r="0.85"/><circle cx="305.8" cy="582.0" r="0.85"/><circle cx="184.3" cy="616.2" r="0.85"/><circle cx="280.4" cy="582.4" r="0.85"/><circle cx="185.7" cy="605.6" r="0.85"/><circle cx="184.6" cy="581.3" r="0.85"/><circle cx="184.5" cy="676.2" r="0.85"/><circle cx="203.6" cy="665.6" r="0.85"/><circle cx="257.9" cy="585.4" r="0.85"/><circle cx="261.3" cy="585.3" r="0.85"/><circle cx="201.3" cy="558.5" r="0.85"/><circle cx="231.8" cy="512.7" r="0.85"/><circle cx="208.9" cy="533.8" r="0.85"/><circle cx="192.2" cy="565.2" r="0.85"/><circle cx="182.4" cy="647.6" r="0.85"/><circle cx="189.8" cy="587.4" r="0.85"/><circle cx="254.4" cy="521.8" r="0.85"/><circle cx="265.8" cy="557.9" r="0.85"/><circle cx="319.4" cy="557.3" r="0.85"/><circle cx="220.7" cy="625.6" r="0.85"/><circle cx="239.9" cy="601.8" r="0.85"/><circle cx="284.5" cy="579.7" r="0.85"/><circle cx="219.1" cy="518.9" r="0.85"/><circle cx="255.4" cy="557.8" r="0.85"/><circle cx="319.1" cy="572.1" r="0.85"/><circle cx="207.2" cy="649.1" r="0.85"/><circle cx="194.8" cy="570.1" r="0.85"/><circle cx="189.2" cy="593.0" r="0.85"/><circle cx="186.5" cy="584.5" r="0.85"/><circle cx="277.5" cy="581.9" r="0.85"/><circle cx="211.2" cy="642.9" r="0.85"/><circle cx="199.5" cy="554.7" r="0.85"/><circle cx="202.9" cy="671.9" r="0.85"/><circle cx="309.5" cy="557.8" r="0.85"/><circle cx="219.6" cy="634.4" r="0.85"/><circle cx="297.1" cy="557.5" r="0.85"/><circle cx="184.3" cy="657.7" r="0.85"/><circle cx="187.4" cy="615.9" r="0.85"/><circle cx="223.5" cy="625.2" r="0.85"/><circle cx="222.7" cy="629.0" r="0.85"/><circle cx="192.3" cy="680.1" r="0.85"/><circle cx="291.0" cy="557.1" r="0.85"/><circle cx="200.6" cy="675.8" r="0.85"/><circle cx="182.9" cy="633.1" r="0.85"/><circle cx="183.7" cy="596.1" r="0.85"/><circle cx="321.0" cy="556.7" r="0.85"/><circle cx="245.5" cy="514.7" r="0.85"/><circle cx="309.6" cy="573.7" r="0.85"/><circle cx="286.7" cy="580.8" r="0.85"/><circle cx="188.3" cy="608.0" r="0.85"/><circle cx="318.4" cy="557.2" r="0.85"/><circle cx="267.4" cy="586.4" r="0.85"/><circle cx="266.9" cy="582.5" r="0.85"/><circle cx="248.2" cy="594.1" r="0.85"/><circle cx="218.5" cy="634.5" r="0.85"/><circle cx="255.9" cy="525.5" r="0.85"/><circle cx="176.1" cy="665.8" r="0.85"/><circle cx="233.6" cy="515.9" r="0.85"/><circle cx="321.4" cy="564.2" r="0.85"/><circle cx="183.8" cy="626.1" r="0.85"/><circle cx="255.4" cy="586.4" r="0.85"/><circle cx="189.7" cy="586.4" r="0.85"/><circle cx="190.8" cy="598.4" r="0.85"/><circle cx="210.2" cy="644.7" r="0.85"/><circle cx="254.7" cy="590.9" r="0.85"/><circle cx="244.6" cy="595.0" r="0.85"/><circle cx="196.4" cy="565.2" r="0.85"/><circle cx="254.5" cy="516.8" r="0.85"/><circle cx="186.3" cy="605.0" r="0.85"/><circle cx="301.9" cy="575.5" r="0.85"/><circle cx="255.9" cy="519.8" r="0.85"/><circle cx="202.1" cy="670.8" r="0.85"/><circle cx="256.3" cy="557.0" r="0.85"/><circle cx="187.3" cy="592.0" r="0.85"/><circle cx="207.6" cy="647.9" r="0.85"/><circle cx="302.3" cy="574.8" r="0.85"/><circle cx="269.8" cy="583.9" r="0.85"/><circle cx="184.3" cy="635.3" r="0.85"/><circle cx="217.8" cy="519.6" r="0.85"/><circle cx="182.7" cy="664.0" r="0.85"/><circle cx="244.3" cy="594.2" r="0.85"/><circle cx="246.3" cy="516.7" r="0.85"/><circle cx="324.9" cy="559.2" r="0.85"/><circle cx="215.2" cy="527.2" r="0.85"/><circle cx="189.0" cy="600.9" r="0.85"/><circle cx="244.4" cy="513.0" r="0.85"/><circle cx="274.3" cy="582.5" r="0.85"/><circle cx="210.8" cy="529.2" r="0.85"/><circle cx="182.4" cy="659.2" r="0.85"/><circle cx="204.4" cy="669.4" r="0.85"/><circle cx="192.0" cy="582.9" r="0.85"/><circle cx="184.0" cy="650.5" r="0.85"/><circle cx="181.2" cy="650.5" r="0.85"/><circle cx="325.1" cy="558.1" r="0.85"/><circle cx="231.8" cy="509.3" r="0.85"/><circle cx="264.6" cy="588.2" r="0.85"/><circle cx="210.9" cy="526.4" r="0.85"/><circle cx="254.7" cy="589.2" r="0.85"/><circle cx="205.6" cy="545.6" r="0.85"/><circle cx="245.6" cy="514.7" r="0.85"/><circle cx="247.1" cy="511.6" r="0.85"/><circle cx="184.4" cy="672.8" r="0.85"/><circle cx="206.9" cy="655.1" r="0.85"/><circle cx="185.9" cy="613.9" r="0.85"/><circle cx="240.5" cy="514.6" r="0.85"/><circle cx="205.4" cy="664.7" r="0.85"/><circle cx="203.3" cy="544.1" r="0.85"/><circle cx="267.3" cy="558.2" r="0.85"/><circle cx="202.2" cy="670.1" r="0.85"/><circle cx="327.5" cy="562.0" r="0.85"/><circle cx="310.6" cy="572.0" r="0.85"/><circle cx="198.9" cy="673.1" r="0.85"/><circle cx="197.3" cy="566.1" r="0.85"/><circle cx="248.7" cy="509.5" r="0.85"/><circle cx="183.8" cy="633.7" r="0.85"/><circle cx="191.8" cy="579.8" r="0.85"/><circle cx="239.1" cy="604.1" r="0.85"/><circle cx="289.7" cy="581.0" r="0.85"/><circle cx="285.2" cy="583.7" r="0.85"/><circle cx="231.3" cy="617.8" r="0.85"/><circle cx="254.6" cy="537.2" r="0.85"/><circle cx="186.8" cy="606.4" r="0.85"/><circle cx="215.3" cy="636.5" r="0.85"/><circle cx="188.8" cy="672.8" r="0.85"/><circle cx="186.9" cy="603.0" r="0.85"/><circle cx="201.5" cy="681.2" r="0.85"/><circle cx="215.8" cy="525.3" r="0.85"/><circle cx="189.0" cy="592.5" r="0.85"/><circle cx="311.1" cy="574.0" r="0.85"/><circle cx="189.1" cy="605.0" r="0.85"/><circle cx="186.8" cy="579.0" r="0.85"/><circle cx="255.5" cy="588.4" r="0.85"/><circle cx="195.3" cy="566.2" r="0.85"/><circle cx="234.7" cy="605.5" r="0.85"/><circle cx="280.6" cy="582.6" r="0.85"/><circle cx="206.8" cy="655.6" r="0.85"/><circle cx="206.2" cy="675.7" r="0.85"/><circle cx="184.6" cy="673.9" r="0.85"/><circle cx="205.9" cy="681.3" r="0.85"/><circle cx="247.4" cy="517.6" r="0.85"/><circle cx="280.7" cy="579.0" r="0.85"/><circle cx="189.4" cy="597.9" r="0.85"/><circle cx="269.6" cy="585.6" r="0.85"/><circle cx="296.6" cy="585.3" r="0.85"/><circle cx="280.1" cy="592.7" r="0.85"/><circle cx="209.4" cy="654.0" r="0.85"/><circle cx="288.6" cy="578.0" r="0.85"/><circle cx="327.7" cy="559.8" r="0.85"/><circle cx="187.1" cy="607.2" r="0.85"/><circle cx="238.0" cy="598.9" r="0.85"/><circle cx="192.0" cy="561.9" r="0.85"/><circle cx="226.4" cy="514.7" r="0.85"/><circle cx="324.5" cy="557.6" r="0.85"/><circle cx="301.8" cy="575.4" r="0.85"/><circle cx="255.2" cy="534.9" r="0.85"/><circle cx="206.7" cy="541.9" r="0.85"/><circle cx="231.9" cy="514.0" r="0.85"/><circle cx="191.6" cy="575.5" r="0.85"/><circle cx="207.5" cy="535.2" r="0.85"/><circle cx="303.4" cy="579.6" r="0.85"/><circle cx="189.2" cy="594.5" r="0.85"/><circle cx="311.8" cy="558.0" r="0.85"/><circle cx="211.6" cy="521.2" r="0.85"/><circle cx="183.3" cy="652.1" r="0.85"/><circle cx="230.9" cy="610.7" r="0.85"/><circle cx="315.1" cy="572.2" r="0.85"/><circle cx="182.2" cy="654.4" r="0.85"/><circle cx="251.2" cy="595.8" r="0.85"/><circle cx="220.8" cy="627.1" r="0.85"/><circle cx="256.4" cy="512.3" r="0.85"/><circle cx="259.2" cy="586.6" r="0.85"/><circle cx="183.6" cy="666.3" r="0.85"/><circle cx="305.3" cy="577.1" r="0.85"/><circle cx="230.8" cy="515.4" r="0.85"/><circle cx="238.5" cy="599.4" r="0.85"/><circle cx="237.0" cy="604.2" r="0.85"/><circle cx="302.9" cy="578.3" r="0.85"/><circle cx="249.9" cy="511.8" r="0.85"/><circle cx="199.6" cy="674.1" r="0.85"/><circle cx="204.1" cy="535.7" r="0.85"/><circle cx="185.7" cy="671.1" r="0.85"/><circle cx="208.4" cy="535.4" r="0.85"/><circle cx="212.6" cy="638.0" r="0.85"/><circle cx="204.4" cy="549.1" r="0.85"/><circle cx="221.0" cy="637.5" r="0.85"/><circle cx="256.0" cy="513.1" r="0.85"/><circle cx="181.4" cy="613.3" r="0.85"/><circle cx="202.8" cy="669.4" r="0.85"/><circle cx="206.4" cy="542.3" r="0.85"/><circle cx="250.8" cy="590.4" r="0.85"/><circle cx="190.6" cy="575.3" r="0.85"/><circle cx="202.7" cy="558.0" r="0.85"/><circle cx="182.2" cy="624.3" r="0.85"/><circle cx="176.8" cy="649.6" r="0.85"/><circle cx="190.4" cy="677.1" r="0.85"/><circle cx="299.1" cy="586.2" r="0.85"/><circle cx="189.8" cy="581.3" r="0.85"/><circle cx="290.7" cy="578.7" r="0.85"/><circle cx="311.7" cy="581.7" r="0.85"/><circle cx="208.8" cy="526.0" r="0.85"/><circle cx="183.1" cy="638.3" r="0.85"/><circle cx="204.7" cy="532.1" r="0.85"/><circle cx="278.8" cy="558.5" r="0.85"/><circle cx="204.6" cy="550.2" r="0.85"/><circle cx="189.5" cy="591.7" r="0.85"/><circle cx="287.5" cy="557.2" r="0.85"/><circle cx="213.9" cy="643.6" r="0.85"/><circle cx="187.6" cy="623.2" r="0.85"/><circle cx="185.4" cy="634.2" r="0.85"/><circle cx="238.7" cy="604.2" r="0.85"/><circle cx="286.9" cy="579.7" r="0.85"/><circle cx="181.6" cy="655.3" r="0.85"/><circle cx="186.3" cy="625.2" r="0.85"/><circle cx="263.8" cy="585.9" r="0.85"/><circle cx="205.5" cy="672.3" r="0.85"/><circle cx="267.7" cy="585.0" r="0.85"/><circle cx="180.6" cy="656.8" r="0.85"/><circle cx="219.1" cy="522.0" r="0.85"/><circle cx="309.5" cy="573.1" r="0.85"/><circle cx="255.0" cy="516.1" r="0.85"/><circle cx="255.0" cy="555.2" r="0.85"/><circle cx="294.9" cy="579.3" r="0.85"/><circle cx="316.6" cy="577.5" r="0.85"/><circle cx="296.7" cy="580.8" r="0.85"/><circle cx="185.7" cy="592.7" r="0.85"/><circle cx="197.9" cy="560.6" r="0.85"/><circle cx="201.9" cy="669.6" r="0.85"/><circle cx="190.9" cy="682.0" r="0.85"/><circle cx="280.8" cy="587.7" r="0.85"/><circle cx="256.2" cy="526.2" r="0.85"/><circle cx="229.4" cy="518.2" r="0.85"/><circle cx="202.1" cy="558.6" r="0.85"/><circle cx="212.2" cy="646.2" r="0.85"/><circle cx="313.3" cy="557.1" r="0.85"/><circle cx="218.5" cy="629.4" r="0.85"/><circle cx="207.8" cy="532.6" r="0.85"/><circle cx="184.5" cy="631.4" r="0.85"/><circle cx="273.1" cy="590.3" r="0.85"/><circle cx="188.4" cy="590.2" r="0.85"/><circle cx="194.6" cy="566.6" r="0.85"/><circle cx="182.1" cy="620.7" r="0.85"/><circle cx="228.0" cy="517.1" r="0.85"/><circle cx="214.3" cy="634.8" r="0.85"/><circle cx="180.5" cy="672.8" r="0.85"/><circle cx="186.1" cy="595.9" r="0.85"/><circle cx="232.3" cy="613.6" r="0.85"/><circle cx="191.1" cy="565.1" r="0.85"/><circle cx="235.9" cy="609.2" r="0.85"/><circle cx="181.8" cy="647.4" r="0.85"/><circle cx="180.9" cy="622.1" r="0.85"/><circle cx="225.2" cy="521.0" r="0.85"/><circle cx="183.7" cy="621.0" r="0.85"/><circle cx="200.6" cy="557.1" r="0.85"/><circle cx="183.3" cy="641.0" r="0.85"/><circle cx="236.1" cy="605.7" r="0.85"/><circle cx="183.1" cy="642.2" r="0.85"/><circle cx="205.8" cy="669.8" r="0.85"/><circle cx="311.0" cy="578.4" r="0.85"/><circle cx="190.5" cy="601.5" r="0.85"/><circle cx="277.2" cy="583.8" r="0.85"/><circle cx="251.2" cy="587.3" r="0.85"/><circle cx="300.7" cy="578.4" r="0.85"/><circle cx="321.2" cy="563.2" r="0.85"/><circle cx="267.3" cy="584.0" r="0.85"/><circle cx="254.7" cy="538.5" r="0.85"/><circle cx="198.8" cy="563.3" r="0.85"/><circle cx="242.2" cy="511.6" r="0.85"/><circle cx="178.1" cy="647.5" r="0.85"/><circle cx="266.9" cy="583.3" r="0.85"/><circle cx="187.3" cy="676.0" r="0.85"/><circle cx="240.6" cy="513.8" r="0.85"/><circle cx="294.1" cy="579.0" r="0.85"/><circle cx="181.9" cy="645.7" r="0.85"/><circle cx="196.0" cy="562.3" r="0.85"/><circle cx="287.3" cy="556.9" r="0.85"/><circle cx="312.6" cy="558.8" r="0.85"/><circle cx="223.9" cy="622.0" r="0.85"/><circle cx="187.6" cy="615.6" r="0.85"/><circle cx="238.7" cy="601.8" r="0.85"/><circle cx="285.3" cy="579.9" r="0.85"/><circle cx="194.5" cy="680.4" r="0.85"/><circle cx="186.8" cy="616.4" r="0.85"/><circle cx="307.4" cy="557.8" r="0.85"/><circle cx="184.3" cy="653.1" r="0.85"/><circle cx="254.1" cy="590.9" r="0.85"/><circle cx="221.6" cy="521.5" r="0.85"/><circle cx="240.7" cy="596.1" r="0.85"/><circle cx="178.8" cy="599.1" r="0.85"/><circle cx="183.2" cy="644.2" r="0.85"/><circle cx="188.0" cy="606.7" r="0.85"/><circle cx="231.7" cy="512.4" r="0.85"/><circle cx="190.1" cy="676.5" r="0.85"/><circle cx="216.3" cy="630.9" r="0.85"/><circle cx="304.8" cy="573.8" r="0.85"/><circle cx="186.6" cy="618.5" r="0.85"/><circle cx="307.3" cy="573.9" r="0.85"/><circle cx="185.7" cy="608.3" r="0.85"/><circle cx="225.0" cy="521.7" r="0.85"/><circle cx="260.4" cy="585.6" r="0.85"/><circle cx="254.0" cy="588.6" r="0.85"/><circle cx="211.2" cy="642.0" r="0.85"/><circle cx="189.8" cy="679.4" r="0.85"/><circle cx="188.2" cy="671.7" r="0.85"/><circle cx="246.7" cy="517.6" r="0.85"/><circle cx="185.0" cy="591.2" r="0.85"/><circle cx="237.0" cy="608.3" r="0.85"/><circle cx="186.9" cy="624.1" r="0.85"/><circle cx="309.4" cy="572.5" r="0.85"/><circle cx="190.2" cy="590.9" r="0.85"/><circle cx="233.8" cy="607.4" r="0.85"/><circle cx="278.7" cy="587.6" r="0.85"/><circle cx="206.7" cy="658.0" r="0.85"/><circle cx="227.5" cy="616.6" r="0.85"/><circle cx="212.6" cy="662.4" r="0.85"/><circle cx="205.8" cy="656.8" r="0.85"/><circle cx="288.9" cy="557.1" r="0.85"/><circle cx="187.2" cy="677.8" r="0.85"/><circle cx="255.5" cy="519.7" r="0.85"/><circle cx="223.6" cy="624.8" r="0.85"/><circle cx="242.1" cy="515.3" r="0.85"/><circle cx="209.9" cy="533.7" r="0.85"/><circle cx="282.2" cy="581.1" r="0.85"/><circle cx="330.7" cy="560.6" r="0.85"/><circle cx="191.0" cy="585.5" r="0.85"/><circle cx="192.7" cy="678.7" r="0.85"/><circle cx="218.2" cy="520.1" r="0.85"/><circle cx="191.1" cy="590.8" r="0.85"/><circle cx="181.2" cy="635.7" r="0.85"/><circle cx="257.8" cy="584.9" r="0.85"/><circle cx="197.9" cy="564.8" r="0.85"/><circle cx="188.2" cy="606.7" r="0.85"/><circle cx="304.1" cy="575.8" r="0.85"/><circle cx="291.2" cy="581.1" r="0.85"/><circle cx="187.5" cy="678.8" r="0.85"/><circle cx="214.5" cy="520.5" r="0.85"/><circle cx="226.0" cy="515.4" r="0.85"/><circle cx="187.0" cy="593.6" r="0.85"/><circle cx="183.6" cy="655.7" r="0.85"/><circle cx="196.4" cy="564.5" r="0.85"/><circle cx="189.9" cy="602.1" r="0.85"/><circle cx="202.0" cy="665.9" r="0.85"/><circle cx="234.4" cy="607.9" r="0.85"/><circle cx="256.0" cy="553.0" r="0.85"/><circle cx="255.1" cy="557.7" r="0.85"/><circle cx="230.0" cy="611.4" r="0.85"/><circle cx="206.4" cy="656.3" r="0.85"/><circle cx="184.6" cy="649.3" r="0.85"/><circle cx="250.3" cy="512.9" r="0.85"/><circle cx="184.4" cy="664.4" r="0.85"/><circle cx="212.3" cy="653.6" r="0.85"/><circle cx="254.6" cy="588.9" r="0.85"/><circle cx="182.1" cy="642.0" r="0.85"/><circle cx="205.8" cy="543.4" r="0.85"/><circle cx="254.6" cy="586.2" r="0.85"/><circle cx="181.7" cy="634.8" r="0.85"/><circle cx="214.5" cy="526.6" r="0.85"/><circle cx="300.7" cy="577.9" r="0.85"/><circle cx="247.4" cy="591.1" r="0.85"/><circle cx="254.6" cy="516.4" r="0.85"/><circle cx="279.0" cy="580.2" r="0.85"/><circle cx="215.8" cy="638.5" r="0.85"/><circle cx="242.8" cy="516.2" r="0.85"/><circle cx="307.8" cy="557.5" r="0.85"/><circle cx="221.8" cy="518.0" r="0.85"/><circle cx="187.0" cy="673.8" r="0.85"/><circle cx="175.4" cy="649.6" r="0.85"/><circle cx="256.0" cy="535.8" r="0.85"/><circle cx="182.8" cy="640.1" r="0.85"/><circle cx="186.2" cy="605.9" r="0.85"/><circle cx="257.9" cy="585.3" r="0.85"/><circle cx="275.5" cy="582.0" r="0.85"/><circle cx="190.2" cy="570.3" r="0.85"/><circle cx="225.9" cy="618.2" r="0.85"/><circle cx="319.8" cy="564.5" r="0.85"/><circle cx="255.9" cy="553.9" r="0.85"/><circle cx="198.4" cy="561.6" r="0.85"/><circle cx="291.2" cy="581.9" r="0.85"/><circle cx="270.6" cy="557.3" r="0.85"/><circle cx="274.3" cy="558.3" r="0.85"/><circle cx="299.8" cy="558.0" r="0.85"/><circle cx="224.5" cy="621.6" r="0.85"/><circle cx="331.6" cy="557.9" r="0.85"/><circle cx="188.6" cy="602.6" r="0.85"/><circle cx="253.5" cy="513.8" r="0.85"/><circle cx="219.6" cy="634.9" r="0.85"/><circle cx="193.2" cy="570.1" r="0.85"/><circle cx="299.3" cy="576.8" r="0.85"/><circle cx="212.9" cy="518.5" r="0.85"/><circle cx="321.4" cy="571.1" r="0.85"/><circle cx="183.0" cy="634.5" r="0.85"/><circle cx="210.4" cy="646.8" r="0.85"/><circle cx="207.5" cy="536.4" r="0.85"/><circle cx="188.3" cy="672.9" r="0.85"/><circle cx="265.1" cy="585.6" r="0.85"/><circle cx="209.7" cy="533.1" r="0.85"/><circle cx="181.9" cy="654.8" r="0.85"/><circle cx="304.7" cy="574.9" r="0.85"/><circle cx="195.4" cy="678.2" r="0.85"/><circle cx="323.6" cy="565.5" r="0.85"/><circle cx="315.9" cy="557.1" r="0.85"/><circle cx="244.7" cy="590.2" r="0.85"/><circle cx="215.3" cy="635.6" r="0.85"/><circle cx="210.8" cy="647.3" r="0.85"/><circle cx="228.6" cy="520.5" r="0.85"/><circle cx="196.1" cy="568.4" r="0.85"/><circle cx="325.9" cy="561.1" r="0.85"/><circle cx="294.7" cy="557.5" r="0.85"/><circle cx="215.4" cy="640.5" r="0.85"/><circle cx="256.1" cy="540.1" r="0.85"/><circle cx="256.2" cy="534.6" r="0.85"/><circle cx="212.8" cy="528.7" r="0.85"/><circle cx="255.4" cy="553.4" r="0.85"/><circle cx="274.8" cy="582.7" r="0.85"/><circle cx="253.7" cy="588.4" r="0.85"/><circle cx="186.4" cy="589.8" r="0.85"/><circle cx="253.2" cy="514.1" r="0.85"/><circle cx="320.1" cy="558.9" r="0.85"/><circle cx="311.4" cy="575.2" r="0.85"/><circle cx="222.9" cy="621.3" r="0.85"/><circle cx="206.6" cy="680.3" r="0.85"/><circle cx="205.9" cy="653.0" r="0.85"/><circle cx="208.4" cy="535.0" r="0.85"/><circle cx="313.0" cy="557.0" r="0.85"/><circle cx="182.7" cy="657.5" r="0.85"/><circle cx="214.1" cy="639.0" r="0.85"/><circle cx="215.5" cy="641.2" r="0.85"/><circle cx="329.0" cy="562.4" r="0.85"/><circle cx="187.0" cy="623.9" r="0.85"/><circle cx="277.1" cy="556.7" r="0.85"/><circle cx="187.9" cy="670.7" r="0.85"/><circle cx="298.6" cy="577.8" r="0.85"/><circle cx="189.7" cy="605.4" r="0.85"/><circle cx="319.1" cy="558.4" r="0.85"/><circle cx="181.1" cy="662.1" r="0.85"/><circle cx="185.7" cy="637.8" r="0.85"/><circle cx="187.9" cy="603.0" r="0.85"/><circle cx="241.5" cy="603.0" r="0.85"/><circle cx="227.9" cy="617.2" r="0.85"/><circle cx="289.6" cy="578.8" r="0.85"/><circle cx="184.4" cy="635.7" r="0.85"/><circle cx="194.8" cy="566.5" r="0.85"/><circle cx="198.8" cy="549.2" r="0.85"/><circle cx="205.1" cy="656.3" r="0.85"/><circle cx="183.8" cy="661.5" r="0.85"/><circle cx="269.5" cy="584.7" r="0.85"/><circle cx="184.3" cy="660.6" r="0.85"/><circle cx="253.4" cy="600.6" r="0.85"/><circle cx="257.8" cy="587.3" r="0.85"/><circle cx="184.6" cy="630.1" r="0.85"/><circle cx="205.3" cy="548.5" r="0.85"/><circle cx="213.2" cy="640.7" r="0.85"/><circle cx="179.9" cy="645.8" r="0.85"/><circle cx="221.0" cy="632.3" r="0.85"/><circle cx="292.9" cy="557.7" r="0.85"/><circle cx="190.8" cy="585.0" r="0.85"/><circle cx="186.4" cy="576.3" r="0.85"/><circle cx="331.4" cy="559.7" r="0.85"/><circle cx="310.5" cy="556.9" r="0.85"/><circle cx="321.5" cy="566.3" r="0.85"/><circle cx="215.1" cy="523.0" r="0.85"/><circle cx="256.1" cy="520.4" r="0.85"/><circle cx="308.3" cy="575.4" r="0.85"/><circle cx="212.2" cy="522.8" r="0.85"/><circle cx="282.6" cy="558.0" r="0.85"/><circle cx="248.9" cy="516.8" r="0.85"/><circle cx="184.2" cy="609.2" r="0.85"/><circle cx="184.5" cy="662.1" r="0.85"/><circle cx="283.7" cy="580.4" r="0.85"/><circle cx="217.8" cy="631.5" r="0.85"/><circle cx="251.4" cy="509.2" r="0.85"/><circle cx="281.7" cy="583.7" r="0.85"/><circle cx="188.9" cy="608.7" r="0.85"/><circle cx="189.8" cy="579.5" r="0.85"/><circle cx="285.0" cy="578.8" r="0.85"/><circle cx="281.5" cy="579.1" r="0.85"/><circle cx="180.9" cy="651.2" r="0.85"/><circle cx="176.9" cy="597.6" r="0.85"/><circle cx="233.3" cy="612.0" r="0.85"/><circle cx="207.9" cy="649.8" r="0.85"/><circle cx="216.5" cy="523.6" r="0.85"/><circle cx="212.5" cy="638.5" r="0.85"/><circle cx="245.8" cy="589.5" r="0.85"/><circle cx="255.9" cy="523.8" r="0.85"/><circle cx="199.5" cy="676.1" r="0.85"/><circle cx="223.8" cy="620.8" r="0.85"/><circle cx="198.9" cy="562.7" r="0.85"/><circle cx="219.4" cy="635.1" r="0.85"/><circle cx="257.1" cy="556.8" r="0.85"/><circle cx="187.1" cy="614.3" r="0.85"/><circle cx="240.1" cy="599.1" r="0.85"/><circle cx="194.7" cy="569.0" r="0.85"/><circle cx="250.1" cy="516.2" r="0.85"/><circle cx="186.4" cy="675.6" r="0.85"/><circle cx="191.5" cy="576.3" r="0.85"/><circle cx="210.8" cy="666.7" r="0.85"/><circle cx="285.4" cy="579.1" r="0.85"/><circle cx="212.4" cy="650.8" r="0.85"/><circle cx="255.6" cy="519.3" r="0.85"/><circle cx="204.0" cy="545.2" r="0.85"/><circle cx="192.2" cy="563.1" r="0.85"/><circle cx="179.9" cy="630.1" r="0.85"/><circle cx="322.6" cy="565.2" r="0.85"/><circle cx="218.5" cy="631.6" r="0.85"/><circle cx="202.2" cy="545.1" r="0.85"/><circle cx="219.8" cy="635.7" r="0.85"/><circle cx="244.0" cy="518.1" r="0.85"/><circle cx="242.1" cy="593.3" r="0.85"/><circle cx="181.8" cy="643.9" r="0.85"/><circle cx="300.4" cy="557.5" r="0.85"/><circle cx="184.8" cy="623.5" r="0.85"/><circle cx="222.5" cy="628.9" r="0.85"/><circle cx="228.8" cy="613.8" r="0.85"/><circle cx="246.6" cy="598.4" r="0.85"/><circle cx="182.1" cy="649.5" r="0.85"/><circle cx="206.9" cy="655.8" r="0.85"/><circle cx="314.9" cy="568.2" r="0.85"/><circle cx="289.0" cy="581.2" r="0.85"/><circle cx="217.9" cy="627.7" r="0.85"/><circle cx="204.4" cy="533.1" r="0.85"/><circle cx="207.2" cy="652.4" r="0.85"/><circle cx="327.4" cy="562.1" r="0.85"/><circle cx="217.7" cy="522.7" r="0.85"/><circle cx="266.2" cy="587.2" r="0.85"/><circle cx="188.6" cy="586.5" r="0.85"/><circle cx="213.1" cy="643.0" r="0.85"/><circle cx="245.3" cy="596.5" r="0.85"/><circle cx="182.0" cy="651.8" r="0.85"/><circle cx="313.1" cy="570.9" r="0.85"/><circle cx="199.1" cy="559.8" r="0.85"/><circle cx="214.4" cy="524.4" r="0.85"/><circle cx="282.1" cy="583.7" r="0.85"/><circle cx="224.6" cy="630.5" r="0.85"/><circle cx="249.7" cy="515.6" r="0.85"/><circle cx="240.5" cy="599.0" r="0.85"/><circle cx="254.1" cy="591.7" r="0.85"/><circle cx="185.8" cy="632.0" r="0.85"/><circle cx="285.1" cy="580.3" r="0.85"/><circle cx="194.6" cy="677.7" r="0.85"/><circle cx="231.0" cy="515.5" r="0.85"/><circle cx="319.6" cy="566.1" r="0.85"/><circle cx="295.2" cy="578.6" r="0.85"/><circle cx="178.9" cy="645.0" r="0.85"/><circle cx="218.6" cy="630.0" r="0.85"/><circle cx="174.6" cy="653.1" r="0.85"/><circle cx="254.6" cy="543.4" r="0.85"/><circle cx="213.8" cy="529.1" r="0.85"/><circle cx="249.5" cy="512.2" r="0.85"/><circle cx="223.3" cy="520.9" r="0.85"/><circle cx="254.4" cy="537.9" r="0.85"/><circle cx="196.2" cy="559.1" r="0.85"/><circle cx="217.1" cy="629.4" r="0.85"/><circle cx="242.3" cy="596.9" r="0.85"/><circle cx="194.7" cy="570.2" r="0.85"/><circle cx="224.3" cy="640.5" r="0.85"/><circle cx="214.5" cy="654.2" r="0.85"/><circle cx="216.8" cy="638.0" r="0.85"/><circle cx="318.7" cy="566.1" r="0.85"/><circle cx="182.2" cy="639.7" r="0.85"/><circle cx="178.5" cy="644.0" r="0.85"/><circle cx="201.4" cy="556.7" r="0.85"/><circle cx="271.3" cy="585.7" r="0.85"/><circle cx="215.5" cy="638.7" r="0.85"/><circle cx="307.7" cy="582.9" r="0.85"/><circle cx="189.6" cy="583.7" r="0.85"/><circle cx="331.7" cy="563.3" r="0.85"/><circle cx="222.1" cy="522.0" r="0.85"/><circle cx="268.2" cy="558.3" r="0.85"/><circle cx="177.8" cy="655.0" r="0.85"/><circle cx="315.1" cy="572.5" r="0.85"/><circle cx="240.9" cy="514.2" r="0.85"/><circle cx="190.0" cy="583.2" r="0.85"/><circle cx="277.3" cy="581.1" r="0.85"/><circle cx="198.9" cy="674.8" r="0.85"/><circle cx="322.2" cy="563.7" r="0.85"/><circle cx="235.2" cy="613.2" r="0.85"/><circle cx="221.8" cy="630.8" r="0.85"/><circle cx="270.8" cy="584.7" r="0.85"/><circle cx="183.4" cy="628.1" r="0.85"/><circle cx="312.5" cy="557.4" r="0.85"/><circle cx="181.0" cy="655.4" r="0.85"/><circle cx="184.3" cy="631.5" r="0.85"/><circle cx="239.8" cy="609.8" r="0.85"/><circle cx="229.1" cy="628.8" r="0.85"/><circle cx="246.9" cy="517.6" r="0.85"/><circle cx="211.8" cy="528.7" r="0.85"/><circle cx="240.3" cy="518.4" r="0.85"/><circle cx="198.8" cy="675.1" r="0.85"/><circle cx="218.3" cy="521.4" r="0.85"/><circle cx="292.0" cy="577.8" r="0.85"/><circle cx="191.1" cy="677.9" r="0.85"/><circle cx="324.1" cy="562.7" r="0.85"/><circle cx="261.5" cy="558.5" r="0.85"/><circle cx="283.2" cy="581.1" r="0.85"/><circle cx="255.5" cy="556.1" r="0.85"/><circle cx="176.5" cy="645.7" r="0.85"/><circle cx="313.1" cy="571.7" r="0.85"/><circle cx="185.3" cy="622.1" r="0.85"/><circle cx="204.7" cy="546.3" r="0.85"/><circle cx="203.2" cy="674.7" r="0.85"/><circle cx="277.7" cy="584.6" r="0.85"/><circle cx="207.2" cy="535.8" r="0.85"/><circle cx="212.7" cy="639.6" r="0.85"/><circle cx="270.7" cy="583.5" r="0.85"/><circle cx="319.8" cy="558.8" r="0.85"/><circle cx="256.1" cy="540.3" r="0.85"/><circle cx="210.7" cy="532.1" r="0.85"/><circle cx="293.5" cy="577.9" r="0.85"/><circle cx="232.5" cy="514.2" r="0.85"/><circle cx="256.0" cy="518.9" r="0.85"/><circle cx="196.8" cy="563.3" r="0.85"/><circle cx="186.9" cy="610.6" r="0.85"/><circle cx="183.0" cy="612.4" r="0.85"/><circle cx="270.4" cy="590.1" r="0.85"/><circle cx="262.3" cy="557.8" r="0.85"/><circle cx="246.7" cy="517.8" r="0.85"/><circle cx="201.5" cy="558.3" r="0.85"/><circle cx="186.5" cy="577.8" r="0.85"/><circle cx="186.2" cy="601.3" r="0.85"/><circle cx="242.0" cy="598.6" r="0.85"/><circle cx="183.9" cy="638.3" r="0.85"/><circle cx="220.3" cy="630.1" r="0.85"/><circle cx="183.7" cy="653.1" r="0.85"/><circle cx="184.0" cy="647.2" r="0.85"/><circle cx="181.8" cy="662.2" r="0.85"/><circle cx="228.0" cy="520.4" r="0.85"/><circle cx="190.2" cy="603.8" r="0.85"/><circle cx="206.1" cy="657.2" r="0.85"/><circle cx="302.1" cy="575.3" r="0.85"/><circle cx="265.3" cy="583.0" r="0.85"/><circle cx="273.8" cy="558.2" r="0.85"/><circle cx="249.6" cy="588.9" r="0.85"/><circle cx="325.4" cy="558.3" r="0.85"/><circle cx="268.8" cy="595.8" r="0.85"/><circle cx="181.9" cy="646.5" r="0.85"/><circle cx="219.9" cy="513.7" r="0.85"/><circle cx="270.6" cy="581.2" r="0.85"/><circle cx="320.6" cy="557.7" r="0.85"/><circle cx="258.0" cy="587.5" r="0.85"/><circle cx="205.3" cy="543.4" r="0.85"/><circle cx="191.3" cy="592.4" r="0.85"/><circle cx="185.9" cy="672.4" r="0.85"/><circle cx="284.2" cy="557.4" r="0.85"/><circle cx="289.2" cy="558.3" r="0.85"/><circle cx="280.6" cy="581.0" r="0.85"/><circle cx="240.4" cy="519.0" r="0.85"/><circle cx="192.6" cy="580.5" r="0.85"/><circle cx="185.7" cy="628.1" r="0.85"/><circle cx="185.5" cy="623.3" r="0.85"/><circle cx="265.0" cy="585.4" r="0.85"/><circle cx="254.5" cy="548.6" r="0.85"/><circle cx="208.4" cy="650.3" r="0.85"/><circle cx="182.5" cy="652.5" r="0.85"/><circle cx="198.4" cy="545.8" r="0.85"/><circle cx="191.0" cy="576.0" r="0.85"/><circle cx="277.6" cy="580.3" r="0.85"/><circle cx="282.7" cy="558.3" r="0.85"/><circle cx="189.0" cy="607.3" r="0.85"/><circle cx="262.2" cy="587.2" r="0.85"/><circle cx="186.9" cy="607.3" r="0.85"/><circle cx="289.6" cy="557.9" r="0.85"/><circle cx="187.2" cy="608.6" r="0.85"/><circle cx="211.0" cy="530.9" r="0.85"/><circle cx="181.0" cy="653.2" r="0.85"/><circle cx="331.7" cy="557.6" r="0.85"/><circle cx="254.5" cy="512.3" r="0.85"/><circle cx="325.3" cy="560.0" r="0.85"/><circle cx="210.8" cy="531.7" r="0.85"/><circle cx="251.0" cy="591.4" r="0.85"/><circle cx="307.0" cy="558.8" r="0.85"/><circle cx="204.5" cy="541.9" r="0.85"/><circle cx="294.5" cy="577.2" r="0.85"/><circle cx="246.2" cy="589.1" r="0.85"/><circle cx="296.5" cy="557.2" r="0.85"/><circle cx="187.1" cy="606.2" r="0.85"/><circle cx="285.1" cy="558.5" r="0.85"/><circle cx="276.7" cy="584.2" r="0.85"/><circle cx="225.9" cy="626.1" r="0.85"/><circle cx="307.6" cy="556.9" r="0.85"/><circle cx="223.8" cy="621.0" r="0.85"/><circle cx="231.9" cy="614.9" r="0.85"/><circle cx="322.1" cy="557.5" r="0.85"/><circle cx="325.8" cy="563.2" r="0.85"/><circle cx="186.6" cy="602.3" r="0.85"/><circle cx="193.0" cy="576.5" r="0.85"/><circle cx="190.0" cy="572.4" r="0.85"/><circle cx="183.7" cy="611.1" r="0.85"/><circle cx="186.7" cy="629.3" r="0.85"/><circle cx="310.0" cy="558.8" r="0.85"/><circle cx="254.8" cy="553.1" r="0.85"/><circle cx="206.8" cy="541.9" r="0.85"/><circle cx="232.0" cy="517.0" r="0.85"/><circle cx="202.3" cy="546.3" r="0.85"/><circle cx="186.5" cy="614.5" r="0.85"/><circle cx="210.1" cy="536.1" r="0.85"/><circle cx="298.1" cy="582.0" r="0.85"/><circle cx="308.8" cy="575.9" r="0.85"/><circle cx="320.5" cy="563.8" r="0.85"/><circle cx="235.8" cy="609.9" r="0.85"/><circle cx="274.4" cy="583.9" r="0.85"/><circle cx="185.1" cy="627.5" r="0.85"/><circle cx="223.0" cy="624.1" r="0.85"/><circle cx="190.4" cy="601.7" r="0.85"/><circle cx="269.8" cy="584.9" r="0.85"/><circle cx="225.2" cy="521.7" r="0.85"/><circle cx="192.2" cy="559.6" r="0.85"/><circle cx="312.7" cy="574.7" r="0.85"/><circle cx="205.2" cy="663.5" r="0.85"/><circle cx="258.5" cy="591.1" r="0.85"/><circle cx="261.3" cy="557.4" r="0.85"/><circle cx="214.0" cy="523.1" r="0.85"/><circle cx="192.2" cy="681.7" r="0.85"/><circle cx="194.3" cy="679.8" r="0.85"/><circle cx="182.0" cy="636.1" r="0.85"/><circle cx="215.2" cy="633.3" r="0.85"/><circle cx="216.9" cy="632.7" r="0.85"/><circle cx="190.1" cy="579.0" r="0.85"/><circle cx="209.8" cy="649.0" r="0.85"/><circle cx="190.8" cy="598.2" r="0.85"/><circle cx="190.2" cy="678.6" r="0.85"/><circle cx="187.6" cy="607.7" r="0.85"/><circle cx="285.3" cy="581.4" r="0.85"/><circle cx="290.6" cy="580.9" r="0.85"/><circle cx="242.3" cy="599.9" r="0.85"/><circle cx="187.6" cy="672.3" r="0.85"/><circle cx="196.3" cy="566.7" r="0.85"/><circle cx="255.4" cy="516.4" r="0.85"/><circle cx="216.4" cy="521.6" r="0.85"/><circle cx="319.0" cy="569.7" r="0.85"/><circle cx="185.7" cy="626.2" r="0.85"/><circle cx="185.7" cy="622.6" r="0.85"/><circle cx="204.9" cy="654.5" r="0.85"/><circle cx="255.7" cy="540.2" r="0.85"/><circle cx="256.4" cy="585.9" r="0.85"/><circle cx="213.5" cy="635.8" r="0.85"/><circle cx="184.1" cy="654.9" r="0.85"/><circle cx="183.8" cy="666.6" r="0.85"/><circle cx="264.9" cy="584.5" r="0.85"/><circle cx="213.6" cy="522.5" r="0.85"/><circle cx="218.7" cy="632.8" r="0.85"/><circle cx="214.5" cy="524.8" r="0.85"/><circle cx="258.3" cy="557.7" r="0.85"/><circle cx="237.0" cy="515.1" r="0.85"/><circle cx="181.7" cy="666.0" r="0.85"/><circle cx="190.1" cy="596.0" r="0.85"/><circle cx="252.3" cy="587.3" r="0.85"/><circle cx="213.6" cy="525.8" r="0.85"/><circle cx="309.4" cy="557.2" r="0.85"/><circle cx="237.7" cy="517.2" r="0.85"/><circle cx="231.2" cy="614.1" r="0.85"/><circle cx="187.1" cy="626.2" r="0.85"/><circle cx="218.4" cy="636.9" r="0.85"/><circle cx="327.1" cy="558.5" r="0.85"/><circle cx="262.4" cy="589.0" r="0.85"/><circle cx="201.6" cy="553.2" r="0.85"/><circle cx="306.2" cy="557.0" r="0.85"/><circle cx="189.4" cy="590.1" r="0.85"/><circle cx="311.9" cy="571.0" r="0.85"/><circle cx="205.1" cy="653.8" r="0.85"/><circle cx="302.0" cy="558.2" r="0.85"/><circle cx="227.3" cy="519.0" r="0.85"/><circle cx="176.3" cy="629.7" r="0.85"/><circle cx="236.3" cy="513.7" r="0.85"/><circle cx="186.9" cy="607.7" r="0.85"/><circle cx="225.5" cy="623.9" r="0.85"/><circle cx="213.3" cy="638.0" r="0.85"/><circle cx="268.3" cy="582.1" r="0.85"/><circle cx="215.1" cy="655.6" r="0.85"/><circle cx="273.9" cy="556.9" r="0.85"/><circle cx="284.5" cy="557.2" r="0.85"/><circle cx="192.4" cy="682.7" r="0.85"/><circle cx="219.0" cy="626.0" r="0.85"/><circle cx="189.3" cy="606.2" r="0.85"/><circle cx="199.8" cy="670.7" r="0.85"/><circle cx="279.2" cy="583.3" r="0.85"/><circle cx="294.7" cy="577.5" r="0.85"/><circle cx="179.4" cy="650.0" r="0.85"/><circle cx="203.7" cy="660.3" r="0.85"/><circle cx="184.0" cy="627.9" r="0.85"/><circle cx="319.4" cy="568.4" r="0.85"/><circle cx="204.5" cy="555.5" r="0.85"/><circle cx="208.6" cy="651.2" r="0.85"/><circle cx="242.5" cy="597.0" r="0.85"/><circle cx="266.9" cy="558.6" r="0.85"/><circle cx="182.7" cy="584.6" r="0.85"/><circle cx="205.9" cy="544.7" r="0.85"/><circle cx="185.3" cy="674.3" r="0.85"/><circle cx="189.7" cy="583.1" r="0.85"/><circle cx="195.8" cy="568.2" r="0.85"/><circle cx="206.3" cy="661.6" r="0.85"/><circle cx="256.1" cy="552.6" r="0.85"/><circle cx="204.6" cy="544.0" r="0.85"/><circle cx="270.2" cy="586.2" r="0.85"/><circle cx="192.1" cy="578.3" r="0.85"/><circle cx="189.8" cy="607.4" r="0.85"/><circle cx="249.9" cy="596.9" r="0.85"/><circle cx="281.5" cy="581.1" r="0.85"/><circle cx="208.6" cy="653.2" r="0.85"/><circle cx="198.7" cy="678.4" r="0.85"/><circle cx="191.0" cy="576.0" r="0.85"/><circle cx="243.5" cy="592.1" r="0.85"/><circle cx="246.2" cy="589.3" r="0.85"/><circle cx="188.8" cy="609.3" r="0.85"/><circle cx="221.5" cy="629.8" r="0.85"/><circle cx="279.1" cy="583.8" r="0.85"/><circle cx="258.6" cy="586.2" r="0.85"/><circle cx="210.2" cy="647.2" r="0.85"/><circle cx="219.8" cy="635.2" r="0.85"/><circle cx="318.3" cy="567.4" r="0.85"/><circle cx="215.7" cy="518.8" r="0.85"/><circle cx="196.1" cy="567.6" r="0.85"/><circle cx="226.5" cy="519.0" r="0.85"/><circle cx="230.6" cy="611.1" r="0.85"/><circle cx="229.5" cy="620.7" r="0.85"/><circle cx="238.4" cy="606.3" r="0.85"/><circle cx="274.2" cy="557.2" r="0.85"/><circle cx="197.6" cy="562.3" r="0.85"/><circle cx="270.2" cy="593.7" r="0.85"/><circle cx="188.7" cy="584.6" r="0.85"/><circle cx="212.5" cy="647.0" r="0.85"/><circle cx="193.4" cy="570.0" r="0.85"/><circle cx="256.4" cy="557.5" r="0.85"/><circle cx="186.1" cy="669.6" r="0.85"/><circle cx="305.4" cy="575.5" r="0.85"/><circle cx="211.5" cy="515.5" r="0.85"/><circle cx="272.6" cy="583.0" r="0.85"/><circle cx="207.2" cy="541.2" r="0.85"/><circle cx="180.7" cy="659.9" r="0.85"/><circle cx="202.3" cy="675.4" r="0.85"/><circle cx="227.2" cy="519.2" r="0.85"/><circle cx="191.8" cy="579.5" r="0.85"/><circle cx="277.5" cy="579.6" r="0.85"/><circle cx="217.7" cy="638.8" r="0.85"/><circle cx="182.1" cy="616.2" r="0.85"/><circle cx="251.3" cy="588.9" r="0.85"/><circle cx="206.2" cy="664.5" r="0.85"/><circle cx="243.6" cy="595.5" r="0.85"/><circle cx="185.3" cy="641.9" r="0.85"/><circle cx="189.2" cy="576.9" r="0.85"/><circle cx="204.2" cy="550.0" r="0.85"/><circle cx="184.5" cy="581.6" r="0.85"/><circle cx="278.6" cy="579.8" r="0.85"/><circle cx="216.9" cy="633.5" r="0.85"/><circle cx="182.1" cy="645.0" r="0.85"/><circle cx="209.6" cy="524.0" r="0.85"/><circle cx="218.5" cy="641.1" r="0.85"/><circle cx="186.7" cy="583.7" r="0.85"/><circle cx="217.1" cy="631.5" r="0.85"/><circle cx="233.5" cy="617.9" r="0.85"/><circle cx="182.5" cy="654.6" r="0.85"/><circle cx="196.7" cy="678.0" r="0.85"/><circle cx="201.5" cy="552.2" r="0.85"/><circle cx="210.0" cy="535.8" r="0.85"/><circle cx="188.1" cy="677.4" r="0.85"/><circle cx="187.2" cy="596.6" r="0.85"/><circle cx="181.0" cy="634.4" r="0.85"/><circle cx="216.7" cy="629.7" r="0.85"/><circle cx="183.5" cy="639.0" r="0.85"/><circle cx="320.8" cy="565.2" r="0.85"/><circle cx="188.2" cy="607.9" r="0.85"/><circle cx="181.3" cy="654.6" r="0.85"/><circle cx="255.9" cy="547.9" r="0.85"/><circle cx="273.4" cy="583.8" r="0.85"/><circle cx="247.0" cy="515.4" r="0.85"/><circle cx="240.4" cy="598.5" r="0.85"/><circle cx="254.3" cy="585.9" r="0.85"/><circle cx="216.6" cy="523.5" r="0.85"/><circle cx="251.7" cy="587.8" r="0.85"/><circle cx="255.0" cy="552.0" r="0.85"/><circle cx="212.4" cy="529.9" r="0.85"/><circle cx="220.6" cy="520.6" r="0.85"/><circle cx="299.7" cy="581.1" r="0.85"/><circle cx="214.6" cy="524.5" r="0.85"/><circle cx="308.5" cy="558.1" r="0.85"/><circle cx="254.9" cy="585.8" r="0.85"/><circle cx="203.1" cy="664.1" r="0.85"/><circle cx="285.2" cy="584.7" r="0.85"/><circle cx="311.2" cy="573.9" r="0.85"/><circle cx="241.8" cy="594.0" r="0.85"/><circle cx="256.3" cy="558.1" r="0.85"/><circle cx="323.8" cy="557.1" r="0.85"/><circle cx="307.6" cy="557.5" r="0.85"/><circle cx="256.3" cy="585.2" r="0.85"/><circle cx="228.2" cy="616.8" r="0.85"/><circle cx="186.2" cy="597.8" r="0.85"/><circle cx="228.2" cy="613.1" r="0.85"/><circle cx="208.9" cy="660.6" r="0.85"/><circle cx="255.3" cy="539.3" r="0.85"/><circle cx="219.1" cy="629.4" r="0.85"/><circle cx="266.9" cy="588.2" r="0.85"/><circle cx="314.3" cy="569.2" r="0.85"/><circle cx="223.5" cy="621.6" r="0.85"/><circle cx="254.9" cy="526.2" r="0.85"/><circle cx="185.3" cy="619.3" r="0.85"/><circle cx="187.9" cy="613.4" r="0.85"/><circle cx="245.9" cy="496.0" r="0.85"/><circle cx="205.8" cy="667.0" r="0.85"/><circle cx="255.1" cy="522.9" r="0.85"/><circle cx="188.5" cy="615.2" r="0.85"/><circle cx="189.7" cy="594.2" r="0.85"/><circle cx="207.2" cy="532.4" r="0.85"/><circle cx="207.0" cy="653.7" r="0.85"/><circle cx="255.5" cy="591.5" r="0.85"/><circle cx="277.4" cy="557.0" r="0.85"/><circle cx="304.2" cy="576.2" r="0.85"/><circle cx="320.0" cy="566.4" r="0.85"/><circle cx="254.7" cy="517.9" r="0.85"/><circle cx="314.8" cy="568.9" r="0.85"/><circle cx="310.1" cy="572.6" r="0.85"/><circle cx="267.2" cy="588.1" r="0.85"/><circle cx="255.5" cy="548.3" r="0.85"/><circle cx="181.8" cy="650.8" r="0.85"/><circle cx="199.1" cy="554.1" r="0.85"/><circle cx="301.0" cy="576.4" r="0.85"/><circle cx="305.2" cy="558.0" r="0.85"/><circle cx="215.8" cy="518.5" r="0.85"/><circle cx="228.0" cy="517.9" r="0.85"/><circle cx="221.3" cy="623.7" r="0.85"/><circle cx="284.7" cy="580.7" r="0.85"/><circle cx="212.2" cy="521.1" r="0.85"/><circle cx="259.1" cy="590.6" r="0.85"/><circle cx="255.4" cy="537.1" r="0.85"/><circle cx="242.1" cy="595.9" r="0.85"/><circle cx="200.7" cy="549.3" r="0.85"/><circle cx="307.6" cy="578.5" r="0.85"/><circle cx="192.0" cy="575.8" r="0.85"/><circle cx="298.7" cy="578.0" r="0.85"/><circle cx="186.9" cy="674.7" r="0.85"/><circle cx="189.8" cy="598.3" r="0.85"/><circle cx="187.3" cy="624.5" r="0.85"/><circle cx="247.8" cy="591.9" r="0.85"/><circle cx="180.4" cy="636.4" r="0.85"/><circle cx="189.2" cy="675.7" r="0.85"/><circle cx="200.9" cy="671.9" r="0.85"/><circle cx="187.5" cy="683.4" r="0.85"/><circle cx="182.1" cy="673.0" r="0.85"/><circle cx="237.7" cy="604.7" r="0.85"/><circle cx="236.9" cy="600.6" r="0.85"/><circle cx="240.9" cy="516.9" r="0.85"/><circle cx="286.6" cy="557.2" r="0.85"/><circle cx="199.7" cy="549.1" r="0.85"/><circle cx="198.4" cy="677.6" r="0.85"/><circle cx="217.4" cy="630.9" r="0.85"/><circle cx="264.4" cy="586.7" r="0.85"/><circle cx="275.7" cy="557.1" r="0.85"/><circle cx="287.1" cy="557.7" r="0.85"/><circle cx="226.0" cy="618.2" r="0.85"/><circle cx="255.4" cy="549.4" r="0.85"/><circle cx="188.9" cy="610.3" r="0.85"/><circle cx="193.2" cy="565.1" r="0.85"/><circle cx="200.8" cy="558.9" r="0.85"/><circle cx="184.0" cy="661.9" r="0.85"/><circle cx="255.0" cy="585.8" r="0.85"/><circle cx="282.1" cy="581.0" r="0.85"/><circle cx="206.1" cy="662.6" r="0.85"/><circle cx="291.3" cy="580.9" r="0.85"/><circle cx="256.0" cy="541.1" r="0.85"/><circle cx="187.7" cy="673.9" r="0.85"/><circle cx="241.6" cy="517.0" r="0.85"/><circle cx="203.6" cy="667.0" r="0.85"/><circle cx="187.7" cy="594.1" r="0.85"/><circle cx="328.9" cy="558.7" r="0.85"/><circle cx="205.5" cy="656.3" r="0.85"/><circle cx="255.8" cy="520.1" r="0.85"/><circle cx="186.2" cy="623.8" r="0.85"/><circle cx="192.2" cy="570.3" r="0.85"/><circle cx="209.7" cy="535.1" r="0.85"/><circle cx="268.6" cy="587.8" r="0.85"/><circle cx="205.5" cy="660.5" r="0.85"/><circle cx="320.9" cy="563.2" r="0.85"/><circle cx="186.1" cy="597.4" r="0.85"/><circle cx="266.1" cy="588.0" r="0.85"/><circle cx="187.1" cy="672.2" r="0.85"/><circle cx="235.8" cy="606.1" r="0.85"/><circle cx="315.9" cy="558.8" r="0.85"/><circle cx="294.8" cy="578.5" r="0.85"/><circle cx="183.4" cy="634.0" r="0.85"/><circle cx="282.8" cy="582.1" r="0.85"/><circle cx="215.3" cy="525.1" r="0.85"/><circle cx="212.7" cy="526.5" r="0.85"/><circle cx="327.5" cy="560.3" r="0.85"/><circle cx="186.9" cy="673.3" r="0.85"/><circle cx="233.0" cy="517.3" r="0.85"/><circle cx="211.8" cy="651.2" r="0.85"/><circle cx="196.7" cy="677.4" r="0.85"/><circle cx="261.4" cy="584.7" r="0.85"/><circle cx="286.8" cy="578.4" r="0.85"/><circle cx="314.0" cy="573.6" r="0.85"/><circle cx="199.6" cy="676.2" r="0.85"/><circle cx="255.9" cy="587.7" r="0.85"/><circle cx="211.3" cy="642.6" r="0.85"/><circle cx="207.7" cy="661.1" r="0.85"/><circle cx="278.5" cy="556.7" r="0.85"/><circle cx="256.0" cy="537.8" r="0.85"/><circle cx="214.9" cy="638.2" r="0.85"/><circle cx="181.2" cy="653.2" r="0.85"/><circle cx="290.0" cy="577.2" r="0.85"/><circle cx="231.1" cy="613.7" r="0.85"/><circle cx="202.6" cy="558.2" r="0.85"/><circle cx="245.4" cy="594.4" r="0.85"/><circle cx="235.2" cy="515.8" r="0.85"/><circle cx="185.2" cy="635.2" r="0.85"/><circle cx="326.2" cy="557.5" r="0.85"/><circle cx="183.8" cy="653.6" r="0.85"/><circle cx="279.1" cy="583.2" r="0.85"/><circle cx="184.0" cy="613.8" r="0.85"/><circle cx="294.0" cy="556.8" r="0.85"/><circle cx="240.1" cy="595.9" r="0.85"/><circle cx="230.1" cy="613.4" r="0.85"/><circle cx="310.0" cy="574.4" r="0.85"/><circle cx="225.8" cy="619.6" r="0.85"/><circle cx="318.6" cy="565.8" r="0.85"/><circle cx="230.4" cy="621.5" r="0.85"/><circle cx="181.1" cy="632.7" r="0.85"/><circle cx="241.9" cy="518.2" r="0.85"/><circle cx="247.7" cy="588.7" r="0.85"/><circle cx="198.6" cy="562.2" r="0.85"/><circle cx="285.1" cy="580.2" r="0.85"/><circle cx="261.9" cy="558.5" r="0.85"/><circle cx="202.3" cy="556.7" r="0.85"/><circle cx="187.4" cy="623.2" r="0.85"/><circle cx="226.2" cy="618.6" r="0.85"/><circle cx="290.5" cy="558.3" r="0.85"/><circle cx="184.6" cy="660.8" r="0.85"/><circle cx="222.2" cy="629.0" r="0.85"/><circle cx="251.7" cy="502.4" r="0.85"/><circle cx="216.0" cy="637.3" r="0.85"/><circle cx="233.9" cy="515.3" r="0.85"/><circle cx="208.8" cy="532.0" r="0.85"/><circle cx="215.1" cy="632.6" r="0.85"/><circle cx="186.0" cy="613.7" r="0.85"/><circle cx="254.7" cy="530.5" r="0.85"/><circle cx="283.0" cy="579.4" r="0.85"/><circle cx="205.8" cy="542.4" r="0.85"/><circle cx="283.8" cy="578.8" r="0.85"/><circle cx="272.2" cy="581.6" r="0.85"/><circle cx="319.6" cy="564.6" r="0.85"/><circle cx="194.9" cy="568.0" r="0.85"/><circle cx="225.4" cy="621.9" r="0.85"/><circle cx="190.7" cy="592.3" r="0.85"/><circle cx="233.7" cy="608.4" r="0.85"/><circle cx="182.8" cy="660.8" r="0.85"/><circle cx="213.7" cy="523.5" r="0.85"/><circle cx="255.0" cy="536.4" r="0.85"/><circle cx="206.5" cy="671.0" r="0.85"/><circle cx="270.5" cy="586.0" r="0.85"/><circle cx="254.4" cy="526.1" r="0.85"/><circle cx="237.5" cy="604.8" r="0.85"/><circle cx="188.4" cy="615.4" r="0.85"/><circle cx="209.7" cy="655.0" r="0.85"/><circle cx="186.9" cy="582.9" r="0.85"/><circle cx="230.2" cy="613.7" r="0.85"/><circle cx="188.4" cy="670.9" r="0.85"/><circle cx="203.7" cy="555.5" r="0.85"/><circle cx="199.7" cy="560.4" r="0.85"/><circle cx="230.1" cy="622.6" r="0.85"/><circle cx="254.8" cy="524.5" r="0.85"/><circle cx="255.6" cy="531.9" r="0.85"/><circle cx="282.2" cy="578.6" r="0.85"/><circle cx="191.8" cy="572.2" r="0.85"/><circle cx="197.9" cy="674.8" r="0.85"/><circle cx="274.8" cy="580.8" r="0.85"/><circle cx="335.6" cy="559.1" r="0.85"/><circle cx="199.4" cy="557.4" r="0.85"/><circle cx="186.5" cy="666.4" r="0.85"/><circle cx="228.8" cy="615.7" r="0.85"/><circle cx="180.9" cy="650.0" r="0.85"/><circle cx="205.1" cy="548.1" r="0.85"/><circle cx="253.4" cy="512.8" r="0.85"/><circle cx="251.1" cy="586.8" r="0.85"/><circle cx="255.5" cy="520.7" r="0.85"/><circle cx="310.8" cy="573.5" r="0.85"/><circle cx="223.1" cy="518.4" r="0.85"/><circle cx="242.2" cy="514.9" r="0.85"/><circle cx="219.7" cy="521.1" r="0.85"/><circle cx="316.7" cy="569.4" r="0.85"/><circle cx="215.4" cy="638.9" r="0.85"/><circle cx="212.8" cy="512.9" r="0.85"/><circle cx="200.6" cy="677.7" r="0.85"/><circle cx="191.3" cy="576.8" r="0.85"/><circle cx="192.7" cy="563.4" r="0.85"/><circle cx="247.8" cy="517.0" r="0.85"/><circle cx="295.5" cy="577.1" r="0.85"/><circle cx="238.1" cy="602.1" r="0.85"/><circle cx="184.3" cy="657.6" r="0.85"/><circle cx="270.6" cy="581.4" r="0.85"/><circle cx="190.1" cy="583.4" r="0.85"/><circle cx="255.7" cy="557.1" r="0.85"/><circle cx="251.1" cy="512.8" r="0.85"/><circle cx="221.6" cy="522.6" r="0.85"/><circle cx="186.2" cy="621.8" r="0.85"/><circle cx="243.1" cy="597.1" r="0.85"/><circle cx="186.9" cy="579.6" r="0.85"/><circle cx="297.8" cy="558.2" r="0.85"/><circle cx="188.9" cy="675.0" r="0.85"/><circle cx="188.0" cy="591.0" r="0.85"/><circle cx="199.3" cy="677.7" r="0.85"/><circle cx="327.3" cy="557.0" r="0.85"/><circle cx="191.6" cy="582.7" r="0.85"/><circle cx="303.4" cy="575.2" r="0.85"/><circle cx="204.3" cy="547.3" r="0.85"/><circle cx="313.8" cy="575.3" r="0.85"/><circle cx="225.1" cy="617.5" r="0.85"/><circle cx="183.8" cy="628.3" r="0.85"/><circle cx="192.9" cy="576.6" r="0.85"/><circle cx="257.1" cy="586.4" r="0.85"/><circle cx="203.6" cy="552.8" r="0.85"/><circle cx="198.5" cy="559.7" r="0.85"/><circle cx="238.3" cy="603.9" r="0.85"/><circle cx="189.1" cy="588.0" r="0.85"/><circle cx="234.6" cy="605.7" r="0.85"/><circle cx="188.8" cy="599.5" r="0.85"/><circle cx="183.3" cy="630.4" r="0.85"/><circle cx="288.0" cy="578.0" r="0.85"/><circle cx="183.2" cy="649.6" r="0.85"/><circle cx="191.5" cy="680.5" r="0.85"/><circle cx="180.8" cy="643.8" r="0.85"/><circle cx="222.0" cy="520.3" r="0.85"/><circle cx="232.4" cy="517.4" r="0.85"/><circle cx="313.9" cy="571.9" r="0.85"/><circle cx="236.1" cy="606.7" r="0.85"/><circle cx="191.6" cy="583.5" r="0.85"/><circle cx="184.7" cy="645.0" r="0.85"/><circle cx="238.8" cy="600.1" r="0.85"/><circle cx="202.7" cy="670.0" r="0.85"/><circle cx="218.6" cy="636.8" r="0.85"/><circle cx="187.1" cy="599.2" r="0.85"/><circle cx="255.5" cy="535.9" r="0.85"/><circle cx="271.9" cy="581.7" r="0.85"/><circle cx="275.0" cy="557.6" r="0.85"/><circle cx="294.3" cy="558.2" r="0.85"/><circle cx="196.6" cy="561.5" r="0.85"/><circle cx="210.8" cy="521.0" r="0.85"/><circle cx="223.6" cy="624.0" r="0.85"/><circle cx="185.9" cy="610.4" r="0.85"/><circle cx="240.2" cy="597.8" r="0.85"/><circle cx="312.8" cy="575.1" r="0.85"/><circle cx="224.9" cy="518.9" r="0.85"/><circle cx="318.0" cy="568.0" r="0.85"/><circle cx="249.7" cy="516.5" r="0.85"/><circle cx="332.7" cy="559.1" r="0.85"/><circle cx="233.0" cy="517.4" r="0.85"/><circle cx="266.0" cy="584.2" r="0.85"/><circle cx="319.8" cy="566.2" r="0.85"/><circle cx="297.5" cy="579.7" r="0.85"/><circle cx="194.5" cy="681.7" r="0.85"/><circle cx="231.5" cy="614.0" r="0.85"/><circle cx="233.2" cy="611.7" r="0.85"/><circle cx="189.4" cy="580.0" r="0.85"/><circle cx="191.2" cy="586.8" r="0.85"/><circle cx="186.6" cy="612.2" r="0.85"/><circle cx="188.3" cy="618.1" r="0.85"/><circle cx="291.8" cy="577.8" r="0.85"/><circle cx="182.0" cy="642.0" r="0.85"/><circle cx="218.4" cy="642.7" r="0.85"/><circle cx="182.2" cy="657.4" r="0.85"/><circle cx="254.8" cy="544.7" r="0.85"/><circle cx="207.9" cy="654.9" r="0.85"/><circle cx="247.9" cy="589.8" r="0.85"/><circle cx="225.1" cy="520.1" r="0.85"/><circle cx="188.6" cy="595.6" r="0.85"/><circle cx="273.2" cy="581.2" r="0.85"/><circle cx="180.7" cy="639.0" r="0.85"/><circle cx="222.6" cy="623.8" r="0.85"/><circle cx="230.3" cy="515.8" r="0.85"/><circle cx="326.1" cy="562.4" r="0.85"/><circle cx="218.3" cy="631.1" r="0.85"/><circle cx="192.5" cy="580.9" r="0.85"/><circle cx="238.7" cy="599.7" r="0.85"/><circle cx="208.4" cy="536.2" r="0.85"/><circle cx="192.1" cy="579.4" r="0.85"/><circle cx="243.7" cy="591.9" r="0.85"/><circle cx="283.7" cy="580.7" r="0.85"/><circle cx="206.8" cy="655.2" r="0.85"/><circle cx="282.1" cy="578.6" r="0.85"/><circle cx="189.9" cy="598.6" r="0.85"/><circle cx="187.3" cy="620.6" r="0.85"/><circle cx="213.8" cy="521.5" r="0.85"/><circle cx="193.9" cy="679.2" r="0.85"/><circle cx="189.5" cy="591.4" r="0.85"/><circle cx="243.5" cy="594.9" r="0.85"/><circle cx="325.4" cy="559.2" r="0.85"/><circle cx="250.9" cy="512.3" r="0.85"/><circle cx="189.8" cy="591.2" r="0.85"/><circle cx="183.1" cy="661.7" r="0.85"/><circle cx="312.1" cy="558.2" r="0.85"/><circle cx="184.3" cy="670.7" r="0.85"/><circle cx="200.0" cy="675.2" r="0.85"/><circle cx="205.0" cy="658.1" r="0.85"/><circle cx="289.3" cy="578.7" r="0.85"/><circle cx="184.0" cy="572.6" r="0.85"/><circle cx="214.6" cy="640.5" r="0.85"/><circle cx="312.2" cy="557.4" r="0.85"/><circle cx="194.6" cy="572.3" r="0.85"/><circle cx="217.1" cy="629.3" r="0.85"/><circle cx="199.0" cy="562.0" r="0.85"/><circle cx="202.4" cy="544.2" r="0.85"/><circle cx="244.2" cy="513.7" r="0.85"/><circle cx="187.4" cy="617.5" r="0.85"/><circle cx="214.8" cy="521.3" r="0.85"/><circle cx="186.1" cy="669.1" r="0.85"/><circle cx="293.3" cy="578.4" r="0.85"/><circle cx="202.6" cy="549.8" r="0.85"/><circle cx="281.5" cy="557.7" r="0.85"/><circle cx="223.0" cy="622.3" r="0.85"/><circle cx="254.5" cy="544.1" r="0.85"/><circle cx="205.1" cy="548.0" r="0.85"/><circle cx="287.9" cy="558.7" r="0.85"/><circle cx="230.4" cy="516.7" r="0.85"/><circle cx="203.6" cy="555.5" r="0.85"/><circle cx="223.5" cy="519.0" r="0.85"/><circle cx="276.5" cy="584.7" r="0.85"/><circle cx="186.1" cy="592.8" r="0.85"/><circle cx="204.0" cy="545.8" r="0.85"/><circle cx="182.6" cy="641.9" r="0.85"/><circle cx="272.3" cy="582.4" r="0.85"/><circle cx="190.4" cy="591.7" r="0.85"/><circle cx="239.6" cy="604.1" r="0.85"/><circle cx="180.3" cy="603.6" r="0.85"/><circle cx="272.5" cy="583.4" r="0.85"/><circle cx="196.1" cy="676.5" r="0.85"/><circle cx="255.7" cy="531.4" r="0.85"/><circle cx="195.3" cy="563.6" r="0.85"/><circle cx="184.1" cy="635.0" r="0.85"/><circle cx="207.4" cy="652.7" r="0.85"/><circle cx="185.8" cy="611.3" r="0.85"/><circle cx="319.2" cy="568.3" r="0.85"/><circle cx="255.0" cy="525.5" r="0.85"/><circle cx="221.8" cy="634.3" r="0.85"/><circle cx="207.5" cy="651.3" r="0.85"/><circle cx="287.5" cy="578.0" r="0.85"/><circle cx="197.3" cy="564.6" r="0.85"/><circle cx="216.8" cy="521.9" r="0.85"/><circle cx="195.3" cy="679.3" r="0.85"/><circle cx="185.7" cy="609.5" r="0.85"/><circle cx="182.4" cy="613.9" r="0.85"/><circle cx="245.0" cy="589.6" r="0.85"/><circle cx="290.7" cy="581.9" r="0.85"/><circle cx="206.7" cy="661.9" r="0.85"/><circle cx="298.0" cy="557.8" r="0.85"/><circle cx="258.7" cy="591.1" r="0.85"/><circle cx="238.3" cy="602.6" r="0.85"/><circle cx="267.6" cy="588.9" r="0.85"/><circle cx="191.8" cy="578.1" r="0.85"/><circle cx="328.7" cy="556.8" r="0.85"/><circle cx="306.9" cy="573.3" r="0.85"/><circle cx="319.3" cy="571.9" r="0.85"/><circle cx="269.7" cy="557.9" r="0.85"/><circle cx="204.6" cy="666.2" r="0.85"/><circle cx="183.4" cy="653.5" r="0.85"/><circle cx="274.7" cy="557.1" r="0.85"/><circle cx="209.5" cy="528.1" r="0.85"/><circle cx="186.8" cy="617.4" r="0.85"/><circle cx="328.6" cy="559.0" r="0.85"/><circle cx="184.7" cy="635.8" r="0.85"/><circle cx="235.9" cy="608.3" r="0.85"/><circle cx="218.0" cy="659.8" r="0.85"/><circle cx="227.6" cy="519.5" r="0.85"/><circle cx="189.2" cy="574.9" r="0.85"/><circle cx="190.7" cy="595.8" r="0.85"/><circle cx="246.3" cy="515.1" r="0.85"/><circle cx="188.2" cy="585.6" r="0.85"/><circle cx="255.3" cy="554.0" r="0.85"/><circle cx="228.2" cy="520.5" r="0.85"/><circle cx="184.4" cy="686.5" r="0.85"/><circle cx="238.0" cy="603.3" r="0.85"/><circle cx="219.8" cy="634.0" r="0.85"/><circle cx="222.9" cy="628.5" r="0.85"/><circle cx="249.3" cy="593.4" r="0.85"/><circle cx="315.0" cy="570.4" r="0.85"/><circle cx="247.3" cy="590.8" r="0.85"/><circle cx="242.4" cy="594.0" r="0.85"/><circle cx="252.7" cy="512.2" r="0.85"/><circle cx="182.1" cy="635.7" r="0.85"/><circle cx="176.8" cy="610.0" r="0.85"/><circle cx="232.4" cy="509.7" r="0.85"/><circle cx="214.0" cy="637.5" r="0.85"/><circle cx="174.7" cy="659.2" r="0.85"/><circle cx="185.5" cy="633.3" r="0.85"/><circle cx="223.3" cy="626.5" r="0.85"/><circle cx="210.1" cy="534.3" r="0.85"/><circle cx="222.9" cy="625.0" r="0.85"/><circle cx="200.3" cy="672.8" r="0.85"/><circle cx="326.0" cy="568.6" r="0.85"/><circle cx="336.6" cy="566.6" r="0.85"/><circle cx="244.8" cy="592.9" r="0.85"/><circle cx="309.4" cy="577.0" r="0.85"/><circle cx="270.2" cy="586.0" r="0.85"/><circle cx="344.5" cy="556.7" r="0.85"/><circle cx="324.7" cy="563.0" r="0.85"/><circle cx="331.5" cy="567.0" r="0.85"/><circle cx="343.4" cy="564.0" r="0.85"/><circle cx="339.8" cy="564.0" r="0.85"/><circle cx="276.5" cy="584.5" r="0.85"/><circle cx="258.3" cy="591.2" r="0.85"/><circle cx="335.2" cy="558.5" r="0.85"/><circle cx="290.9" cy="582.6" r="0.85"/><circle cx="336.8" cy="569.6" r="0.85"/><circle cx="246.2" cy="593.0" r="0.85"/><circle cx="271.8" cy="590.9" r="0.85"/><circle cx="341.4" cy="557.0" r="0.85"/><circle cx="282.4" cy="584.7" r="0.85"/><circle cx="274.3" cy="582.6" r="0.85"/><circle cx="325.6" cy="567.1" r="0.85"/><circle cx="283.3" cy="583.6" r="0.85"/><circle cx="249.6" cy="591.3" r="0.85"/><circle cx="262.5" cy="587.8" r="0.85"/><circle cx="300.2" cy="580.7" r="0.85"/><circle cx="285.8" cy="581.8" r="0.85"/><circle cx="261.6" cy="590.6" r="0.85"/><circle cx="322.4" cy="569.3" r="0.85"/><circle cx="308.1" cy="576.8" r="0.85"/><circle cx="264.4" cy="589.9" r="0.85"/><circle cx="335.7" cy="569.8" r="0.85"/><circle cx="338.6" cy="562.2" r="0.85"/><circle cx="337.1" cy="560.4" r="0.85"/><circle cx="341.6" cy="567.9" r="0.85"/><circle cx="304.3" cy="576.8" r="0.85"/><circle cx="247.8" cy="591.0" r="0.85"/><circle cx="252.4" cy="593.8" r="0.85"/><circle cx="309.6" cy="577.4" r="0.85"/><circle cx="286.3" cy="586.1" r="0.85"/><circle cx="325.0" cy="571.4" r="0.85"/><circle cx="327.8" cy="564.5" r="0.85"/><circle cx="256.3" cy="594.3" r="0.85"/><circle cx="257.8" cy="588.3" r="0.85"/><circle cx="273.5" cy="582.8" r="0.85"/><circle cx="319.2" cy="572.0" r="0.85"/><circle cx="331.5" cy="561.9" r="0.85"/><circle cx="290.2" cy="582.9" r="0.85"/><circle cx="328.4" cy="571.2" r="0.85"/><circle cx="328.3" cy="571.9" r="0.85"/><circle cx="307.7" cy="574.9" r="0.85"/><circle cx="283.8" cy="583.5" r="0.85"/><circle cx="328.9" cy="558.6" r="0.85"/><circle cx="262.1" cy="590.0" r="0.85"/><circle cx="297.6" cy="581.8" r="0.85"/><circle cx="286.2" cy="581.3" r="0.85"/><circle cx="329.6" cy="568.0" r="0.85"/><circle cx="333.9" cy="567.8" r="0.85"/><circle cx="346.4" cy="561.7" r="0.85"/><circle cx="329.6" cy="563.1" r="0.85"/><circle cx="247.0" cy="592.2" r="0.85"/><circle cx="283.0" cy="581.0" r="0.85"/><circle cx="259.1" cy="590.0" r="0.85"/><circle cx="331.7" cy="563.8" r="0.85"/><circle cx="264.6" cy="590.2" r="0.85"/><circle cx="285.1" cy="581.4" r="0.85"/><circle cx="251.3" cy="590.9" r="0.85"/><circle cx="296.0" cy="579.9" r="0.85"/><circle cx="325.3" cy="564.2" r="0.85"/><circle cx="352.7" cy="562.9" r="0.85"/><circle cx="280.5" cy="584.0" r="0.85"/><circle cx="309.4" cy="577.5" r="0.85"/><circle cx="304.7" cy="576.8" r="0.85"/><circle cx="326.2" cy="561.5" r="0.85"/><circle cx="354.2" cy="559.3" r="0.85"/><circle cx="274.0" cy="588.5" r="0.85"/><circle cx="265.4" cy="586.2" r="0.85"/><circle cx="317.5" cy="575.4" r="0.85"/><circle cx="245.9" cy="595.4" r="0.85"/><circle cx="263.0" cy="588.9" r="0.85"/><circle cx="341.2" cy="567.0" r="0.85"/><circle cx="255.5" cy="590.4" r="0.85"/><circle cx="336.7" cy="563.1" r="0.85"/><circle cx="250.2" cy="591.7" r="0.85"/><circle cx="313.7" cy="576.7" r="0.85"/><circle cx="295.5" cy="579.4" r="0.85"/><circle cx="270.4" cy="584.7" r="0.85"/><circle cx="283.0" cy="586.8" r="0.85"/><circle cx="336.0" cy="561.4" r="0.85"/><circle cx="297.0" cy="581.2" r="0.85"/><circle cx="339.5" cy="566.4" r="0.85"/><circle cx="331.4" cy="560.6" r="0.85"/><circle cx="326.1" cy="562.3" r="0.85"/><circle cx="274.8" cy="585.0" r="0.85"/><circle cx="327.5" cy="568.6" r="0.85"/><circle cx="340.2" cy="568.3" r="0.85"/><circle cx="295.3" cy="581.8" r="0.85"/><circle cx="254.4" cy="588.4" r="0.85"/><circle cx="277.7" cy="583.0" r="0.85"/><circle cx="321.2" cy="569.3" r="0.85"/><circle cx="332.8" cy="561.1" r="0.85"/><circle cx="261.9" cy="589.5" r="0.85"/><circle cx="301.3" cy="579.2" r="0.85"/><circle cx="326.3" cy="568.5" r="0.85"/><circle cx="333.5" cy="557.0" r="0.85"/><circle cx="344.9" cy="566.5" r="0.85"/><circle cx="325.8" cy="571.3" r="0.85"/><circle cx="262.8" cy="591.1" r="0.85"/><circle cx="331.6" cy="565.3" r="0.85"/><circle cx="306.7" cy="579.7" r="0.85"/><circle cx="296.0" cy="580.8" r="0.85"/><circle cx="330.3" cy="562.7" r="0.85"/><circle cx="261.1" cy="593.6" r="0.85"/><circle cx="292.8" cy="580.3" r="0.85"/><circle cx="286.2" cy="581.2" r="0.85"/><circle cx="324.0" cy="565.6" r="0.85"/><circle cx="296.6" cy="581.0" r="0.85"/><circle cx="258.5" cy="594.4" r="0.85"/><circle cx="323.8" cy="563.7" r="0.85"/><circle cx="254.4" cy="590.7" r="0.85"/><circle cx="330.2" cy="559.3" r="0.85"/><circle cx="328.8" cy="572.0" r="0.85"/><circle cx="338.1" cy="565.1" r="0.85"/><circle cx="312.3" cy="572.9" r="0.85"/><circle cx="335.5" cy="560.5" r="0.85"/><circle cx="271.8" cy="590.6" r="0.85"/><circle cx="273.2" cy="585.5" r="0.85"/><circle cx="309.6" cy="576.0" r="0.85"/><circle cx="334.2" cy="557.0" r="0.85"/><circle cx="318.9" cy="569.0" r="0.85"/><circle cx="251.1" cy="590.2" r="0.85"/><circle cx="252.2" cy="592.6" r="0.85"/><circle cx="323.2" cy="570.9" r="0.85"/><circle cx="327.1" cy="568.7" r="0.85"/><circle cx="285.0" cy="581.4" r="0.85"/><circle cx="256.1" cy="591.0" r="0.85"/><circle cx="262.2" cy="593.0" r="0.85"/><circle cx="308.6" cy="578.2" r="0.85"/><circle cx="279.3" cy="583.5" r="0.85"/><circle cx="304.4" cy="580.5" r="0.85"/><circle cx="306.9" cy="576.4" r="0.85"/><circle cx="297.5" cy="580.6" r="0.85"/><circle cx="284.7" cy="585.5" r="0.85"/><circle cx="276.7" cy="588.5" r="0.85"/><circle cx="278.9" cy="583.7" r="0.85"/><circle cx="275.3" cy="583.6" r="0.85"/><circle cx="287.6" cy="584.7" r="0.85"/><circle cx="269.0" cy="584.8" r="0.85"/><circle cx="333.4" cy="563.6" r="0.85"/><circle cx="334.4" cy="557.2" r="0.85"/><circle cx="326.8" cy="559.9" r="0.85"/><circle cx="316.9" cy="574.8" r="0.85"/><circle cx="329.3" cy="561.5" r="0.85"/><circle cx="262.3" cy="591.9" r="0.85"/><circle cx="290.0" cy="580.6" r="0.85"/><circle cx="328.8" cy="564.8" r="0.85"/><circle cx="332.0" cy="559.6" r="0.85"/><circle cx="347.3" cy="565.2" r="0.85"/><circle cx="245.7" cy="592.5" r="0.85"/><circle cx="248.8" cy="593.7" r="0.85"/><circle cx="292.5" cy="580.7" r="0.85"/><circle cx="308.5" cy="576.2" r="0.85"/><circle cx="320.9" cy="571.3" r="0.85"/><circle cx="273.6" cy="587.9" r="0.85"/><circle cx="345.3" cy="562.6" r="0.85"/><circle cx="276.3" cy="584.1" r="0.85"/><circle cx="309.3" cy="577.8" r="0.85"/><circle cx="275.4" cy="584.0" r="0.85"/><circle cx="290.1" cy="581.4" r="0.85"/><circle cx="351.1" cy="565.0" r="0.85"/><circle cx="247.3" cy="593.4" r="0.85"/><circle cx="258.9" cy="587.2" r="0.85"/><circle cx="270.7" cy="585.2" r="0.85"/><circle cx="259.9" cy="588.0" r="0.85"/><circle cx="318.7" cy="573.9" r="0.85"/><circle cx="267.5" cy="586.5" r="0.85"/><circle cx="333.2" cy="564.2" r="0.85"/><circle cx="247.6" cy="591.3" r="0.85"/><circle cx="340.9" cy="563.5" r="0.85"/><circle cx="277.8" cy="582.0" r="0.85"/><circle cx="288.1" cy="586.2" r="0.85"/><circle cx="270.8" cy="585.0" r="0.85"/><circle cx="352.8" cy="563.1" r="0.85"/><circle cx="257.6" cy="589.8" r="0.85"/><circle cx="329.5" cy="562.6" r="0.85"/><circle cx="326.4" cy="564.0" r="0.85"/><circle cx="331.0" cy="557.8" r="0.85"/><circle cx="263.8" cy="588.8" r="0.85"/><circle cx="300.1" cy="580.2" r="0.85"/><circle cx="329.7" cy="569.6" r="0.85"/><circle cx="305.0" cy="577.9" r="0.85"/><circle cx="269.5" cy="589.9" r="0.85"/><circle cx="340.8" cy="565.6" r="0.85"/><circle cx="283.5" cy="580.4" r="0.85"/><circle cx="268.0" cy="588.1" r="0.85"/><circle cx="268.4" cy="587.2" r="0.85"/><circle cx="342.9" cy="568.0" r="0.85"/><circle cx="288.3" cy="580.7" r="0.85"/><circle cx="253.2" cy="589.9" r="0.85"/><circle cx="327.7" cy="562.2" r="0.85"/><circle cx="268.2" cy="584.5" r="0.85"/><circle cx="308.0" cy="574.8" r="0.85"/><circle cx="332.0" cy="563.3" r="0.85"/><circle cx="305.4" cy="579.6" r="0.85"/><circle cx="270.1" cy="591.2" r="0.85"/><circle cx="293.7" cy="581.1" r="0.85"/><circle cx="320.7" cy="566.3" r="0.85"/><circle cx="267.2" cy="586.7" r="0.85"/><circle cx="325.5" cy="566.5" r="0.85"/><circle cx="331.2" cy="558.1" r="0.85"/><circle cx="255.5" cy="588.7" r="0.85"/><circle cx="300.8" cy="580.1" r="0.85"/><circle cx="327.3" cy="566.2" r="0.85"/><circle cx="271.4" cy="590.5" r="0.85"/><circle cx="318.2" cy="571.4" r="0.85"/><circle cx="340.3" cy="566.3" r="0.85"/><circle cx="327.5" cy="570.8" r="0.85"/><circle cx="276.4" cy="588.4" r="0.85"/><circle cx="351.8" cy="559.6" r="0.85"/><circle cx="354.0" cy="559.3" r="0.85"/><circle cx="298.7" cy="578.9" r="0.85"/><circle cx="281.6" cy="583.9" r="0.85"/><circle cx="261.9" cy="590.8" r="0.85"/><circle cx="314.8" cy="576.1" r="0.85"/><circle cx="295.3" cy="580.1" r="0.85"/><circle cx="272.9" cy="583.4" r="0.85"/><circle cx="328.9" cy="557.7" r="0.85"/><circle cx="248.9" cy="590.4" r="0.85"/><circle cx="330.7" cy="567.6" r="0.85"/><circle cx="291.8" cy="580.4" r="0.85"/><circle cx="274.8" cy="589.3" r="0.85"/><circle cx="339.1" cy="564.7" r="0.85"/><circle cx="314.5" cy="572.2" r="0.85"/><circle cx="249.9" cy="591.5" r="0.85"/><circle cx="302.9" cy="580.7" r="0.85"/><circle cx="331.3" cy="564.8" r="0.85"/><circle cx="355.3" cy="563.1" r="0.85"/><circle cx="282.7" cy="581.8" r="0.85"/><circle cx="273.4" cy="586.3" r="0.85"/><circle cx="330.0" cy="559.9" r="0.85"/><circle cx="328.9" cy="565.0" r="0.85"/><circle cx="331.1" cy="560.1" r="0.85"/><circle cx="277.3" cy="583.2" r="0.85"/><circle cx="256.3" cy="595.5" r="0.85"/><circle cx="363.5" cy="557.8" r="0.85"/><circle cx="317.3" cy="569.2" r="0.85"/><circle cx="301.3" cy="578.2" r="0.85"/><circle cx="291.5" cy="579.5" r="0.85"/><circle cx="336.1" cy="561.8" r="0.85"/><circle cx="328.2" cy="560.1" r="0.85"/><circle cx="314.4" cy="576.1" r="0.85"/><circle cx="336.4" cy="558.4" r="0.85"/><circle cx="247.6" cy="593.4" r="0.85"/><circle cx="291.0" cy="583.0" r="0.85"/><circle cx="246.8" cy="594.4" r="0.85"/><circle cx="322.5" cy="564.6" r="0.85"/><circle cx="276.5" cy="585.9" r="0.85"/><circle cx="287.7" cy="582.8" r="0.85"/><circle cx="311.0" cy="573.9" r="0.85"/><circle cx="327.5" cy="566.0" r="0.85"/><circle cx="260.7" cy="587.6" r="0.85"/><circle cx="259.1" cy="586.9" r="0.85"/><circle cx="318.7" cy="575.3" r="0.85"/><circle cx="333.6" cy="567.6" r="0.85"/><circle cx="283.5" cy="580.8" r="0.85"/><circle cx="269.7" cy="585.7" r="0.85"/><circle cx="312.9" cy="574.6" r="0.85"/><circle cx="274.5" cy="588.9" r="0.85"/><circle cx="279.1" cy="582.2" r="0.85"/><circle cx="243.7" cy="594.5" r="0.85"/><circle cx="318.1" cy="572.6" r="0.85"/><circle cx="254.6" cy="591.1" r="0.85"/><circle cx="297.8" cy="580.6" r="0.85"/><circle cx="256.2" cy="589.5" r="0.85"/><circle cx="285.7" cy="585.4" r="0.85"/><circle cx="275.0" cy="583.6" r="0.85"/><circle cx="247.3" cy="595.1" r="0.85"/><circle cx="299.6" cy="579.4" r="0.85"/><circle cx="292.5" cy="582.0" r="0.85"/><circle cx="293.0" cy="582.7" r="0.85"/><circle cx="325.7" cy="567.8" r="0.85"/><circle cx="287.4" cy="583.7" r="0.85"/><circle cx="296.0" cy="580.0" r="0.85"/><circle cx="284.4" cy="584.8" r="0.85"/><circle cx="328.9" cy="556.9" r="0.85"/><circle cx="337.5" cy="561.5" r="0.85"/><circle cx="337.6" cy="557.1" r="0.85"/><circle cx="267.4" cy="587.6" r="0.85"/><circle cx="289.6" cy="581.2" r="0.85"/><circle cx="260.2" cy="592.1" r="0.85"/><circle cx="322.5" cy="566.4" r="0.85"/><circle cx="267.8" cy="584.3" r="0.85"/><circle cx="330.2" cy="564.1" r="0.85"/><circle cx="324.3" cy="564.7" r="0.85"/><circle cx="267.7" cy="587.4" r="0.85"/><circle cx="353.1" cy="558.6" r="0.85"/><circle cx="338.4" cy="557.6" r="0.85"/><circle cx="270.5" cy="585.5" r="0.85"/><circle cx="318.2" cy="570.8" r="0.85"/><circle cx="257.1" cy="587.1" r="0.85"/><circle cx="321.5" cy="567.8" r="0.85"/><circle cx="326.4" cy="571.1" r="0.85"/><circle cx="329.2" cy="557.9" r="0.85"/><circle cx="280.2" cy="582.2" r="0.85"/><circle cx="352.5" cy="562.2" r="0.85"/><circle cx="316.6" cy="571.3" r="0.85"/><circle cx="294.5" cy="583.1" r="0.85"/><circle cx="258.1" cy="588.7" r="0.85"/><circle cx="269.9" cy="588.6" r="0.85"/><circle cx="345.9" cy="558.2" r="0.85"/><circle cx="310.7" cy="573.8" r="0.85"/><circle cx="332.3" cy="560.8" r="0.85"/><circle cx="308.9" cy="574.6" r="0.85"/><circle cx="289.1" cy="583.8" r="0.85"/><circle cx="323.5" cy="568.3" r="0.85"/><circle cx="298.4" cy="580.3" r="0.85"/><circle cx="262.9" cy="589.5" r="0.85"/><circle cx="323.8" cy="565.3" r="0.85"/><circle cx="339.1" cy="561.2" r="0.85"/><circle cx="300.5" cy="580.8" r="0.85"/><circle cx="287.1" cy="581.5" r="0.85"/><circle cx="286.1" cy="581.1" r="0.85"/><circle cx="250.8" cy="595.1" r="0.85"/><circle cx="296.7" cy="583.7" r="0.85"/><circle cx="290.6" cy="582.7" r="0.85"/><circle cx="286.1" cy="584.6" r="0.85"/><circle cx="298.3" cy="580.4" r="0.85"/><circle cx="328.9" cy="570.1" r="0.85"/><circle cx="347.8" cy="558.1" r="0.85"/><circle cx="280.4" cy="581.6" r="0.85"/><circle cx="351.5" cy="564.8" r="0.85"/><circle cx="287.9" cy="586.0" r="0.85"/><circle cx="298.6" cy="582.1" r="0.85"/><circle cx="302.3" cy="581.4" r="0.85"/><circle cx="292.3" cy="580.1" r="0.85"/><circle cx="315.3" cy="556.7" r="0.85"/><circle cx="264.6" cy="586.5" r="0.85"/><circle cx="252.5" cy="593.6" r="0.85"/><circle cx="287.3" cy="583.3" r="0.85"/><circle cx="301.5" cy="579.0" r="0.85"/><circle cx="296.9" cy="581.0" r="0.85"/><circle cx="341.1" cy="559.0" r="0.85"/><circle cx="317.6" cy="572.2" r="0.85"/><circle cx="269.9" cy="590.2" r="0.85"/><circle cx="284.1" cy="580.2" r="0.85"/><circle cx="300.3" cy="578.1" r="0.85"/><circle cx="311.9" cy="576.5" r="0.85"/><circle cx="354.1" cy="559.5" r="0.85"/><circle cx="341.0" cy="559.4" r="0.85"/><circle cx="333.9" cy="567.5" r="0.85"/><circle cx="263.9" cy="592.4" r="0.85"/><circle cx="292.9" cy="583.2" r="0.85"/><circle cx="268.6" cy="584.6" r="0.85"/><circle cx="308.6" cy="575.8" r="0.85"/><circle cx="285.1" cy="582.2" r="0.85"/><circle cx="335.1" cy="568.8" r="0.85"/><circle cx="315.0" cy="572.5" r="0.85"/><circle cx="270.2" cy="585.7" r="0.85"/><circle cx="289.2" cy="582.1" r="0.85"/><circle cx="249.9" cy="592.5" r="0.85"/><circle cx="245.6" cy="592.2" r="0.85"/><circle cx="255.7" cy="592.5" r="0.85"/><circle cx="336.7" cy="561.8" r="0.85"/><circle cx="310.6" cy="575.2" r="0.85"/><circle cx="307.0" cy="579.6" r="0.85"/><circle cx="258.0" cy="587.0" r="0.85"/><circle cx="257.7" cy="587.3" r="0.85"/><circle cx="311.1" cy="574.8" r="0.85"/><circle cx="281.5" cy="585.7" r="0.85"/><circle cx="299.5" cy="580.1" r="0.85"/><circle cx="251.5" cy="595.3" r="0.85"/><circle cx="338.2" cy="568.6" r="0.85"/><circle cx="323.2" cy="570.2" r="0.85"/><circle cx="294.9" cy="582.9" r="0.85"/><circle cx="258.0" cy="594.0" r="0.85"/><circle cx="316.2" cy="569.8" r="0.85"/><circle cx="301.8" cy="580.1" r="0.85"/><circle cx="290.6" cy="581.1" r="0.85"/><circle cx="358.3" cy="557.1" r="0.85"/><circle cx="282.8" cy="583.8" r="0.85"/><circle cx="247.9" cy="592.4" r="0.85"/><circle cx="359.2" cy="560.3" r="0.85"/><circle cx="317.1" cy="574.2" r="0.85"/><circle cx="248.5" cy="591.0" r="0.85"/><circle cx="321.7" cy="568.8" r="0.85"/><circle cx="280.2" cy="586.2" r="0.85"/><circle cx="302.4" cy="577.7" r="0.85"/><circle cx="310.8" cy="577.1" r="0.85"/><circle cx="311.3" cy="577.6" r="0.85"/><circle cx="258.8" cy="591.0" r="0.85"/><circle cx="262.1" cy="593.2" r="0.85"/><circle cx="259.1" cy="591.9" r="0.85"/><circle cx="323.3" cy="566.0" r="0.85"/><circle cx="337.9" cy="564.2" r="0.85"/><circle cx="290.8" cy="579.4" r="0.85"/><circle cx="279.5" cy="584.1" r="0.85"/><circle cx="312.5" cy="577.3" r="0.85"/><circle cx="249.4" cy="590.5" r="0.85"/><circle cx="274.9" cy="583.4" r="0.85"/><circle cx="324.6" cy="564.0" r="0.85"/><circle cx="331.4" cy="563.8" r="0.85"/><circle cx="311.3" cy="573.6" r="0.85"/><circle cx="247.3" cy="591.3" r="0.85"/><circle cx="324.5" cy="563.3" r="0.85"/><circle cx="249.2" cy="592.5" r="0.85"/><circle cx="252.9" cy="594.5" r="0.85"/><circle cx="329.9" cy="560.2" r="0.85"/><circle cx="340.3" cy="558.8" r="0.85"/><circle cx="303.7" cy="580.2" r="0.85"/><circle cx="352.5" cy="560.3" r="0.85"/><circle cx="255.5" cy="589.6" r="0.85"/><circle cx="329.0" cy="571.2" r="0.85"/><circle cx="323.4" cy="569.7" r="0.85"/><circle cx="361.3" cy="556.9" r="0.85"/><circle cx="275.5" cy="587.8" r="0.85"/><circle cx="248.8" cy="592.3" r="0.85"/><circle cx="262.4" cy="586.9" r="0.85"/><circle cx="299.0" cy="579.3" r="0.85"/><circle cx="287.0" cy="584.6" r="0.85"/><circle cx="289.9" cy="584.4" r="0.85"/><circle cx="314.2" cy="576.4" r="0.85"/><circle cx="354.6" cy="563.7" r="0.85"/><circle cx="329.3" cy="557.3" r="0.85"/><circle cx="278.5" cy="582.8" r="0.85"/><circle cx="335.2" cy="563.4" r="0.85"/><circle cx="328.6" cy="563.1" r="0.85"/><circle cx="278.2" cy="584.1" r="0.85"/><circle cx="317.1" cy="574.1" r="0.85"/><circle cx="319.5" cy="556.7" r="0.85"/><circle cx="311.5" cy="577.6" r="0.85"/><circle cx="264.4" cy="587.3" r="0.85"/><circle cx="260.8" cy="586.2" r="0.85"/><circle cx="285.2" cy="585.3" r="0.85"/><circle cx="279.1" cy="584.5" r="0.85"/><circle cx="326.2" cy="569.3" r="0.85"/><circle cx="337.4" cy="561.4" r="0.85"/><circle cx="330.5" cy="563.9" r="0.85"/><circle cx="249.2" cy="591.4" r="0.85"/><circle cx="292.8" cy="579.8" r="0.85"/><circle cx="270.9" cy="590.3" r="0.85"/><circle cx="358.6" cy="562.1" r="0.85"/><circle cx="335.0" cy="562.1" r="0.85"/><circle cx="304.6" cy="577.4" r="0.85"/><circle cx="292.6" cy="581.9" r="0.85"/><circle cx="277.2" cy="586.0" r="0.85"/><circle cx="320.7" cy="568.2" r="0.85"/><circle cx="307.7" cy="576.9" r="0.85"/><circle cx="271.4" cy="585.6" r="0.85"/><circle cx="316.5" cy="569.6" r="0.85"/><circle cx="343.4" cy="564.4" r="0.85"/><circle cx="256.0" cy="595.2" r="0.85"/><circle cx="345.5" cy="561.4" r="0.85"/><circle cx="321.4" cy="556.6" r="0.85"/><circle cx="350.4" cy="558.9" r="0.85"/><circle cx="283.7" cy="581.1" r="0.85"/><circle cx="315.7" cy="575.5" r="0.85"/><circle cx="318.3" cy="571.5" r="0.85"/><circle cx="329.4" cy="560.8" r="0.85"/><circle cx="271.5" cy="591.0" r="0.85"/><circle cx="266.1" cy="589.6" r="0.85"/><circle cx="291.2" cy="583.7" r="0.85"/><circle cx="338.8" cy="566.6" r="0.85"/><circle cx="259.1" cy="591.7" r="0.85"/><circle cx="267.3" cy="591.9" r="0.85"/><circle cx="353.0" cy="562.1" r="0.85"/><circle cx="340.2" cy="568.3" r="0.85"/><circle cx="309.2" cy="577.1" r="0.85"/><circle cx="285.9" cy="586.1" r="0.85"/><circle cx="292.1" cy="584.6" r="0.85"/><circle cx="304.1" cy="576.9" r="0.85"/><circle cx="261.3" cy="590.7" r="0.85"/><circle cx="333.3" cy="566.7" r="0.85"/><circle cx="261.4" cy="587.3" r="0.85"/><circle cx="286.4" cy="585.9" r="0.85"/><circle cx="269.6" cy="587.6" r="0.85"/><circle cx="304.8" cy="576.0" r="0.85"/><circle cx="371.3" cy="556.7" r="0.85"/><circle cx="268.8" cy="584.7" r="0.85"/><circle cx="329.6" cy="567.4" r="0.85"/><circle cx="317.7" cy="571.7" r="0.85"/><circle cx="281.4" cy="587.4" r="0.85"/><circle cx="282.1" cy="585.8" r="0.85"/><circle cx="296.3" cy="579.0" r="0.85"/><circle cx="259.0" cy="592.0" r="0.85"/><circle cx="338.1" cy="561.7" r="0.85"/><circle cx="292.3" cy="582.1" r="0.85"/><circle cx="292.4" cy="580.1" r="0.85"/><circle cx="283.0" cy="583.9" r="0.85"/><circle cx="333.4" cy="564.4" r="0.85"/><circle cx="251.0" cy="590.3" r="0.85"/><circle cx="309.8" cy="578.1" r="0.85"/><circle cx="295.8" cy="583.3" r="0.85"/><circle cx="290.4" cy="585.4" r="0.85"/><circle cx="350.7" cy="557.1" r="0.85"/><circle cx="353.0" cy="566.0" r="0.85"/><circle cx="338.1" cy="560.2" r="0.85"/><circle cx="338.7" cy="560.2" r="0.85"/><circle cx="331.7" cy="569.4" r="0.85"/><circle cx="334.4" cy="559.0" r="0.85"/><circle cx="332.1" cy="581.5" r="0.85"/><circle cx="348.5" cy="566.5" r="0.85"/><circle cx="356.4" cy="578.4" r="0.85"/><circle cx="338.0" cy="568.7" r="0.85"/><circle cx="339.8" cy="577.4" r="0.85"/><circle cx="361.4" cy="565.3" r="0.85"/><circle cx="355.2" cy="560.6" r="0.85"/><circle cx="332.7" cy="563.1" r="0.85"/><circle cx="339.1" cy="564.5" r="0.85"/><circle cx="344.4" cy="565.9" r="0.85"/><circle cx="352.1" cy="557.1" r="0.85"/><circle cx="369.1" cy="580.3" r="0.85"/><circle cx="344.4" cy="571.7" r="0.85"/><circle cx="353.3" cy="556.9" r="0.85"/><circle cx="352.3" cy="566.0" r="0.85"/><circle cx="362.6" cy="577.6" r="0.85"/><circle cx="351.5" cy="557.9" r="0.85"/><circle cx="344.8" cy="570.5" r="0.85"/><circle cx="352.9" cy="558.5" r="0.85"/><circle cx="341.3" cy="558.7" r="0.85"/><circle cx="354.4" cy="567.6" r="0.85"/><circle cx="334.4" cy="580.9" r="0.85"/><circle cx="339.9" cy="558.7" r="0.85"/><circle cx="334.0" cy="563.2" r="0.85"/><circle cx="360.8" cy="563.7" r="0.85"/><circle cx="335.6" cy="569.3" r="0.85"/><circle cx="339.0" cy="579.9" r="0.85"/><circle cx="368.6" cy="571.6" r="0.85"/><circle cx="372.0" cy="575.2" r="0.85"/><circle cx="342.0" cy="573.4" r="0.85"/><circle cx="353.9" cy="570.3" r="0.85"/><circle cx="330.8" cy="577.0" r="0.85"/><circle cx="350.3" cy="573.6" r="0.85"/><circle cx="350.6" cy="558.1" r="0.85"/><circle cx="344.7" cy="564.6" r="0.85"/><circle cx="336.3" cy="572.7" r="0.85"/><circle cx="343.8" cy="571.7" r="0.85"/><circle cx="337.0" cy="576.9" r="0.85"/><circle cx="334.1" cy="567.8" r="0.85"/><circle cx="334.6" cy="566.4" r="0.85"/><circle cx="348.7" cy="560.2" r="0.85"/><circle cx="365.0" cy="567.7" r="0.85"/><circle cx="371.4" cy="566.3" r="0.85"/><circle cx="334.4" cy="581.1" r="0.85"/><circle cx="369.4" cy="558.1" r="0.85"/><circle cx="332.6" cy="576.7" r="0.85"/><circle cx="358.0" cy="560.1" r="0.85"/><circle cx="332.4" cy="564.1" r="0.85"/><circle cx="341.5" cy="566.7" r="0.85"/><circle cx="332.6" cy="562.4" r="0.85"/><circle cx="337.2" cy="563.5" r="0.85"/><circle cx="340.8" cy="567.8" r="0.85"/><circle cx="356.1" cy="572.0" r="0.85"/><circle cx="340.6" cy="558.9" r="0.85"/><circle cx="334.7" cy="561.0" r="0.85"/><circle cx="360.1" cy="577.5" r="0.85"/><circle cx="329.6" cy="558.9" r="0.85"/><circle cx="344.7" cy="566.4" r="0.85"/><circle cx="331.3" cy="559.6" r="0.85"/><circle cx="336.2" cy="561.0" r="0.85"/><circle cx="331.7" cy="558.2" r="0.85"/><circle cx="336.7" cy="566.6" r="0.85"/><circle cx="340.3" cy="564.4" r="0.85"/><circle cx="361.5" cy="567.7" r="0.85"/><circle cx="345.5" cy="559.2" r="0.85"/><circle cx="341.5" cy="565.8" r="0.85"/><circle cx="340.5" cy="563.7" r="0.85"/><circle cx="353.3" cy="562.3" r="0.85"/><circle cx="350.0" cy="570.6" r="0.85"/><circle cx="332.9" cy="560.4" r="0.85"/><circle cx="354.5" cy="560.2" r="0.85"/><circle cx="330.9" cy="561.3" r="0.85"/><circle cx="337.3" cy="578.3" r="0.85"/><circle cx="337.6" cy="561.4" r="0.85"/><circle cx="339.8" cy="580.5" r="0.85"/><circle cx="340.6" cy="560.8" r="0.85"/><circle cx="354.2" cy="564.1" r="0.85"/><circle cx="334.3" cy="559.6" r="0.85"/><circle cx="334.3" cy="579.0" r="0.85"/><circle cx="342.1" cy="562.9" r="0.85"/><circle cx="342.8" cy="578.6" r="0.85"/><circle cx="341.6" cy="570.1" r="0.85"/><circle cx="338.2" cy="565.5" r="0.85"/><circle cx="357.3" cy="568.6" r="0.85"/><circle cx="355.8" cy="557.7" r="0.85"/><circle cx="370.1" cy="578.2" r="0.85"/><circle cx="331.9" cy="567.3" r="0.85"/><circle cx="332.4" cy="564.4" r="0.85"/><circle cx="329.8" cy="558.4" r="0.85"/><circle cx="364.1" cy="561.3" r="0.85"/><circle cx="332.7" cy="559.0" r="0.85"/><circle cx="335.3" cy="574.9" r="0.85"/><circle cx="348.6" cy="562.0" r="0.85"/><circle cx="325.1" cy="561.9" r="0.85"/><circle cx="325.4" cy="569.8" r="0.85"/><circle cx="338.7" cy="560.7" r="0.85"/><circle cx="351.4" cy="560.7" r="0.85"/><circle cx="364.7" cy="561.1" r="0.85"/><circle cx="366.7" cy="561.8" r="0.85"/><circle cx="333.5" cy="567.9" r="0.85"/><circle cx="353.3" cy="583.0" r="0.85"/><circle cx="318.5" cy="572.1" r="0.85"/><circle cx="340.4" cy="562.3" r="0.85"/><circle cx="333.6" cy="582.3" r="0.85"/><circle cx="148.7" cy="597.3" r="0.85"/><circle cx="166.2" cy="606.8" r="0.85"/><circle cx="167.7" cy="631.5" r="0.85"/><circle cx="167.7" cy="635.2" r="0.85"/><circle cx="171.3" cy="641.7" r="0.85"/><circle cx="174.2" cy="595.8" r="0.85"/><circle cx="175.7" cy="600.2" r="0.85"/><circle cx="196.8" cy="689.8" r="0.85"/><circle cx="206.3" cy="681.8" r="0.85"/><circle cx="212.8" cy="656.3" r="0.85"/><circle cx="215.8" cy="663.6" r="0.85"/><circle cx="241.3" cy="629.3" r="0.85"/><circle cx="244.9" cy="617.7" r="0.85"/><circle cx="183.0" cy="671.6" r="0.85"/><circle cx="173.9" cy="594.9" r="0.85"/><circle cx="295.5" cy="608.4" r="0.85"/><circle cx="294.5" cy="609.7" r="0.85"/><circle cx="272.2" cy="606.2" r="0.85"/><circle cx="244.5" cy="617.8" r="0.85"/><circle cx="356.2" cy="575.8" r="0.85"/><circle cx="336.5" cy="579.3" r="0.85"/><circle cx="324.0" cy="584.7" r="0.85"/><circle cx="364.0" cy="566.0" r="0.85"/><circle cx="358.0" cy="571.0" r="0.85"/><circle cx="366.5" cy="560.0" r="0.85"/><circle cx="195.6" cy="533.0" r="0.85"/><circle cx="195.8" cy="534.7" r="0.85"/><circle cx="197.5" cy="536.4" r="0.85"/><circle cx="196.3" cy="538.1" r="0.85"/><circle cx="195.4" cy="539.8" r="0.85"/><circle cx="196.1" cy="541.5" r="0.85"/><circle cx="196.5" cy="543.2" r="0.85"/><circle cx="195.5" cy="544.9" r="0.85"/><circle cx="195.6" cy="546.6" r="0.85"/><circle cx="195.4" cy="548.3" r="0.85"/><circle cx="196.7" cy="550.0" r="0.85"/><circle cx="195.6" cy="551.7" r="0.85"/><circle cx="197.5" cy="553.4" r="0.85"/><circle cx="196.7" cy="555.1" r="0.85"/></g>
<g fill="#5cb54e"><circle cx="325.9" cy="541.7" r="0.8"/><circle cx="343.5" cy="538.8" r="0.8"/><circle cx="259.0" cy="528.2" r="0.8"/><circle cx="320.1" cy="540.5" r="0.8"/><circle cx="318.1" cy="540.7" r="0.8"/><circle cx="350.9" cy="542.7" r="0.8"/><circle cx="327.1" cy="540.2" r="0.8"/><circle cx="336.6" cy="545.4" r="0.8"/><circle cx="311.4" cy="555.3" r="0.8"/><circle cx="330.4" cy="555.5" r="0.8"/><circle cx="308.4" cy="535.7" r="0.8"/><circle cx="264.7" cy="555.1" r="0.8"/><circle cx="343.4" cy="555.2" r="0.8"/><circle cx="261.1" cy="528.0" r="0.8"/><circle cx="301.5" cy="532.7" r="0.8"/><circle cx="340.3" cy="555.5" r="0.8"/><circle cx="269.1" cy="523.4" r="0.8"/><circle cx="276.5" cy="523.5" r="0.8"/><circle cx="257.7" cy="548.1" r="0.8"/><circle cx="272.3" cy="555.3" r="0.8"/><circle cx="334.7" cy="545.7" r="0.8"/><circle cx="311.3" cy="536.5" r="0.8"/><circle cx="329.5" cy="555.3" r="0.8"/><circle cx="317.2" cy="540.7" r="0.8"/><circle cx="341.2" cy="545.5" r="0.8"/><circle cx="344.5" cy="546.2" r="0.8"/><circle cx="300.2" cy="534.0" r="0.8"/><circle cx="334.8" cy="545.1" r="0.8"/><circle cx="324.5" cy="543.8" r="0.8"/><circle cx="282.2" cy="528.0" r="0.8"/><circle cx="362.6" cy="553.7" r="0.8"/><circle cx="257.6" cy="526.0" r="0.8"/><circle cx="366.2" cy="542.3" r="0.8"/><circle cx="330.0" cy="544.6" r="0.8"/><circle cx="263.2" cy="554.2" r="0.8"/><circle cx="308.4" cy="555.6" r="0.8"/><circle cx="358.7" cy="551.2" r="0.8"/><circle cx="287.2" cy="521.5" r="0.8"/><circle cx="268.6" cy="526.2" r="0.8"/><circle cx="362.2" cy="550.0" r="0.8"/><circle cx="303.4" cy="532.1" r="0.8"/><circle cx="364.0" cy="551.6" r="0.8"/><circle cx="366.3" cy="553.9" r="0.8"/><circle cx="267.6" cy="526.4" r="0.8"/><circle cx="317.7" cy="537.7" r="0.8"/><circle cx="350.1" cy="546.4" r="0.8"/><circle cx="258.3" cy="527.6" r="0.8"/><circle cx="285.0" cy="524.8" r="0.8"/><circle cx="318.9" cy="539.0" r="0.8"/><circle cx="315.3" cy="539.7" r="0.8"/><circle cx="307.3" cy="536.1" r="0.8"/><circle cx="258.4" cy="527.1" r="0.8"/><circle cx="319.0" cy="540.5" r="0.8"/><circle cx="316.0" cy="534.5" r="0.8"/><circle cx="324.8" cy="540.8" r="0.8"/><circle cx="358.8" cy="550.2" r="0.8"/><circle cx="298.3" cy="533.2" r="0.8"/><circle cx="277.3" cy="522.4" r="0.8"/><circle cx="351.2" cy="548.8" r="0.8"/><circle cx="324.3" cy="554.7" r="0.8"/><circle cx="271.9" cy="526.7" r="0.8"/><circle cx="345.1" cy="554.8" r="0.8"/><circle cx="319.7" cy="554.5" r="0.8"/><circle cx="258.5" cy="547.5" r="0.8"/><circle cx="310.7" cy="538.0" r="0.8"/><circle cx="289.0" cy="528.7" r="0.8"/><circle cx="258.0" cy="555.4" r="0.8"/><circle cx="344.0" cy="544.9" r="0.8"/><circle cx="329.7" cy="544.2" r="0.8"/><circle cx="330.9" cy="545.0" r="0.8"/><circle cx="346.2" cy="547.7" r="0.8"/><circle cx="345.9" cy="543.8" r="0.8"/><circle cx="334.6" cy="541.5" r="0.8"/><circle cx="305.1" cy="532.5" r="0.8"/><circle cx="346.1" cy="547.1" r="0.8"/><circle cx="258.0" cy="551.9" r="0.8"/><circle cx="258.1" cy="527.5" r="0.8"/><circle cx="364.8" cy="554.5" r="0.8"/><circle cx="346.3" cy="546.0" r="0.8"/><circle cx="309.8" cy="555.3" r="0.8"/><circle cx="363.4" cy="554.0" r="0.8"/><circle cx="258.3" cy="545.6" r="0.8"/><circle cx="268.0" cy="524.4" r="0.8"/><circle cx="271.2" cy="523.9" r="0.8"/><circle cx="329.0" cy="540.6" r="0.8"/><circle cx="285.0" cy="528.5" r="0.8"/><circle cx="312.6" cy="535.8" r="0.8"/><circle cx="265.0" cy="522.7" r="0.8"/><circle cx="293.2" cy="529.3" r="0.8"/><circle cx="326.6" cy="534.1" r="0.8"/><circle cx="347.9" cy="536.9" r="0.8"/><circle cx="315.5" cy="555.3" r="0.8"/><circle cx="333.1" cy="540.4" r="0.8"/><circle cx="326.4" cy="541.1" r="0.8"/><circle cx="341.4" cy="544.9" r="0.8"/><circle cx="295.1" cy="528.6" r="0.8"/><circle cx="263.5" cy="524.2" r="0.8"/><circle cx="333.6" cy="555.5" r="0.8"/><circle cx="296.1" cy="554.7" r="0.8"/><circle cx="300.3" cy="533.2" r="0.8"/><circle cx="266.2" cy="526.7" r="0.8"/><circle cx="326.1" cy="555.7" r="0.8"/><circle cx="317.8" cy="541.5" r="0.8"/><circle cx="316.5" cy="540.2" r="0.8"/><circle cx="268.5" cy="527.7" r="0.8"/><circle cx="287.9" cy="529.5" r="0.8"/><circle cx="364.9" cy="554.7" r="0.8"/><circle cx="288.1" cy="529.5" r="0.8"/><circle cx="324.6" cy="542.4" r="0.8"/><circle cx="341.3" cy="542.6" r="0.8"/><circle cx="267.8" cy="524.0" r="0.8"/><circle cx="257.7" cy="527.4" r="0.8"/><circle cx="358.9" cy="549.3" r="0.8"/><circle cx="259.9" cy="554.8" r="0.8"/><circle cx="354.5" cy="538.9" r="0.8"/><circle cx="271.3" cy="525.4" r="0.8"/><circle cx="360.6" cy="547.8" r="0.8"/><circle cx="336.5" cy="545.6" r="0.8"/><circle cx="365.6" cy="547.8" r="0.8"/><circle cx="294.7" cy="531.6" r="0.8"/><circle cx="275.2" cy="554.3" r="0.8"/><circle cx="271.5" cy="523.7" r="0.8"/><circle cx="342.6" cy="545.2" r="0.8"/><circle cx="258.1" cy="527.9" r="0.8"/><circle cx="288.5" cy="530.3" r="0.8"/><circle cx="318.2" cy="555.0" r="0.8"/><circle cx="285.6" cy="527.1" r="0.8"/><circle cx="340.5" cy="543.8" r="0.8"/><circle cx="269.4" cy="555.4" r="0.8"/><circle cx="267.0" cy="520.0" r="0.8"/><circle cx="262.7" cy="526.4" r="0.8"/><circle cx="273.4" cy="524.8" r="0.8"/><circle cx="360.2" cy="555.5" r="0.8"/><circle cx="340.4" cy="543.2" r="0.8"/><circle cx="350.0" cy="554.8" r="0.8"/><circle cx="290.4" cy="526.5" r="0.8"/><circle cx="302.7" cy="554.9" r="0.8"/><circle cx="286.7" cy="526.6" r="0.8"/><circle cx="262.4" cy="554.4" r="0.8"/><circle cx="326.7" cy="539.4" r="0.8"/><circle cx="329.2" cy="542.1" r="0.8"/><circle cx="357.5" cy="549.0" r="0.8"/><circle cx="259.9" cy="555.6" r="0.8"/><circle cx="361.7" cy="553.1" r="0.8"/><circle cx="350.9" cy="554.6" r="0.8"/><circle cx="339.0" cy="555.7" r="0.8"/><circle cx="329.1" cy="543.7" r="0.8"/><circle cx="329.2" cy="541.5" r="0.8"/><circle cx="258.6" cy="537.8" r="0.8"/><circle cx="258.7" cy="549.7" r="0.8"/><circle cx="337.1" cy="546.4" r="0.8"/><circle cx="315.0" cy="539.9" r="0.8"/><circle cx="258.6" cy="529.3" r="0.8"/><circle cx="367.4" cy="551.6" r="0.8"/><circle cx="339.0" cy="538.4" r="0.8"/><circle cx="354.3" cy="555.4" r="0.8"/><circle cx="258.5" cy="554.3" r="0.8"/><circle cx="323.1" cy="555.2" r="0.8"/><circle cx="352.6" cy="541.4" r="0.8"/><circle cx="298.5" cy="527.1" r="0.8"/><circle cx="270.7" cy="515.1" r="0.8"/><circle cx="258.8" cy="547.3" r="0.8"/><circle cx="279.4" cy="554.3" r="0.8"/><circle cx="339.8" cy="555.0" r="0.8"/><circle cx="258.1" cy="543.1" r="0.8"/><circle cx="310.4" cy="524.6" r="0.8"/><circle cx="359.5" cy="550.7" r="0.8"/><circle cx="309.9" cy="537.6" r="0.8"/><circle cx="344.1" cy="547.3" r="0.8"/><circle cx="297.1" cy="521.4" r="0.8"/><circle cx="257.6" cy="534.2" r="0.8"/><circle cx="361.3" cy="550.3" r="0.8"/><circle cx="366.6" cy="550.2" r="0.8"/><circle cx="324.7" cy="554.2" r="0.8"/><circle cx="303.0" cy="534.3" r="0.8"/><circle cx="268.3" cy="521.9" r="0.8"/><circle cx="268.9" cy="524.9" r="0.8"/><circle cx="332.9" cy="555.4" r="0.8"/><circle cx="314.2" cy="536.9" r="0.8"/><circle cx="310.5" cy="527.8" r="0.8"/><circle cx="266.0" cy="555.5" r="0.8"/><circle cx="345.9" cy="544.9" r="0.8"/><circle cx="321.1" cy="555.2" r="0.8"/><circle cx="284.3" cy="527.7" r="0.8"/><circle cx="302.0" cy="533.8" r="0.8"/><circle cx="364.1" cy="544.7" r="0.8"/><circle cx="325.6" cy="542.1" r="0.8"/><circle cx="301.3" cy="529.5" r="0.8"/><circle cx="362.9" cy="554.9" r="0.8"/><circle cx="270.8" cy="519.6" r="0.8"/><circle cx="311.1" cy="538.4" r="0.8"/><circle cx="315.0" cy="535.9" r="0.8"/><circle cx="265.0" cy="525.1" r="0.8"/><circle cx="314.5" cy="538.2" r="0.8"/><circle cx="315.7" cy="540.3" r="0.8"/><circle cx="336.4" cy="544.6" r="0.8"/><circle cx="263.7" cy="554.7" r="0.8"/><circle cx="291.9" cy="527.8" r="0.8"/><circle cx="331.1" cy="543.9" r="0.8"/><circle cx="362.7" cy="554.9" r="0.8"/><circle cx="257.6" cy="527.0" r="0.8"/><circle cx="258.7" cy="552.5" r="0.8"/><circle cx="353.1" cy="546.6" r="0.8"/><circle cx="273.4" cy="524.4" r="0.8"/><circle cx="260.4" cy="554.6" r="0.8"/><circle cx="350.7" cy="546.4" r="0.8"/><circle cx="325.7" cy="541.9" r="0.8"/><circle cx="268.7" cy="524.4" r="0.8"/><circle cx="265.7" cy="527.1" r="0.8"/><circle cx="258.9" cy="525.2" r="0.8"/><circle cx="289.8" cy="555.2" r="0.8"/><circle cx="321.9" cy="540.4" r="0.8"/><circle cx="362.2" cy="551.7" r="0.8"/><circle cx="301.2" cy="532.3" r="0.8"/><circle cx="315.1" cy="536.2" r="0.8"/><circle cx="358.1" cy="550.4" r="0.8"/><circle cx="355.4" cy="548.2" r="0.8"/><circle cx="258.5" cy="536.7" r="0.8"/><circle cx="351.3" cy="543.9" r="0.8"/><circle cx="346.3" cy="547.8" r="0.8"/><circle cx="319.9" cy="540.2" r="0.8"/><circle cx="364.5" cy="554.6" r="0.8"/><circle cx="264.9" cy="514.4" r="0.8"/><circle cx="364.6" cy="553.7" r="0.8"/><circle cx="345.5" cy="538.2" r="0.8"/><circle cx="302.4" cy="531.5" r="0.8"/><circle cx="273.2" cy="525.9" r="0.8"/><circle cx="280.0" cy="523.4" r="0.8"/><circle cx="299.1" cy="525.6" r="0.8"/><circle cx="290.5" cy="529.6" r="0.8"/><circle cx="272.0" cy="525.6" r="0.8"/><circle cx="261.4" cy="528.7" r="0.8"/><circle cx="324.8" cy="543.1" r="0.8"/><circle cx="309.4" cy="532.0" r="0.8"/><circle cx="271.5" cy="522.1" r="0.8"/><circle cx="346.3" cy="546.0" r="0.8"/><circle cx="257.5" cy="536.4" r="0.8"/><circle cx="299.0" cy="533.8" r="0.8"/><circle cx="310.7" cy="555.7" r="0.8"/><circle cx="342.5" cy="546.1" r="0.8"/><circle cx="330.2" cy="542.8" r="0.8"/><circle cx="314.1" cy="526.1" r="0.8"/><circle cx="357.4" cy="550.0" r="0.8"/><circle cx="267.9" cy="526.9" r="0.8"/><circle cx="323.5" cy="540.8" r="0.8"/><circle cx="293.8" cy="530.1" r="0.8"/><circle cx="361.2" cy="549.5" r="0.8"/><circle cx="337.5" cy="543.7" r="0.8"/><circle cx="377.7" cy="554.4" r="0.8"/><circle cx="258.8" cy="520.6" r="0.8"/><circle cx="310.8" cy="554.4" r="0.8"/><circle cx="361.0" cy="551.3" r="0.8"/><circle cx="308.1" cy="535.9" r="0.8"/><circle cx="258.6" cy="522.7" r="0.8"/><circle cx="272.9" cy="522.3" r="0.8"/><circle cx="323.9" cy="541.5" r="0.8"/><circle cx="258.6" cy="547.6" r="0.8"/><circle cx="316.3" cy="555.3" r="0.8"/><circle cx="366.6" cy="553.0" r="0.8"/><circle cx="268.1" cy="527.7" r="0.8"/><circle cx="282.0" cy="526.3" r="0.8"/><circle cx="364.1" cy="552.4" r="0.8"/><circle cx="312.9" cy="555.7" r="0.8"/><circle cx="261.4" cy="554.6" r="0.8"/><circle cx="322.2" cy="541.2" r="0.8"/><circle cx="295.2" cy="525.9" r="0.8"/><circle cx="292.4" cy="525.9" r="0.8"/><circle cx="328.5" cy="541.2" r="0.8"/><circle cx="278.7" cy="524.1" r="0.8"/><circle cx="282.7" cy="528.9" r="0.8"/><circle cx="343.7" cy="546.6" r="0.8"/><circle cx="278.1" cy="554.5" r="0.8"/><circle cx="349.2" cy="547.6" r="0.8"/><circle cx="329.4" cy="555.0" r="0.8"/><circle cx="306.7" cy="533.3" r="0.8"/><circle cx="327.6" cy="555.5" r="0.8"/><circle cx="325.3" cy="537.8" r="0.8"/><circle cx="276.4" cy="524.3" r="0.8"/><circle cx="269.6" cy="525.2" r="0.8"/><circle cx="302.9" cy="555.7" r="0.8"/><circle cx="259.9" cy="555.2" r="0.8"/><circle cx="258.0" cy="541.2" r="0.8"/><circle cx="294.2" cy="529.2" r="0.8"/><circle cx="272.8" cy="524.6" r="0.8"/><circle cx="288.6" cy="527.0" r="0.8"/><circle cx="278.5" cy="524.6" r="0.8"/><circle cx="343.0" cy="554.7" r="0.8"/><circle cx="344.8" cy="545.6" r="0.8"/><circle cx="340.7" cy="542.8" r="0.8"/><circle cx="286.9" cy="555.0" r="0.8"/><circle cx="278.2" cy="527.8" r="0.8"/><circle cx="274.2" cy="518.4" r="0.8"/><circle cx="324.9" cy="542.4" r="0.8"/><circle cx="328.3" cy="542.4" r="0.8"/><circle cx="295.5" cy="531.1" r="0.8"/><circle cx="313.2" cy="539.0" r="0.8"/><circle cx="263.8" cy="528.5" r="0.8"/><circle cx="285.0" cy="555.0" r="0.8"/><circle cx="364.7" cy="552.7" r="0.8"/><circle cx="311.5" cy="555.2" r="0.8"/><circle cx="357.6" cy="554.5" r="0.8"/><circle cx="329.9" cy="542.9" r="0.8"/><circle cx="363.8" cy="548.2" r="0.8"/><circle cx="344.8" cy="544.5" r="0.8"/><circle cx="343.4" cy="541.3" r="0.8"/><circle cx="294.6" cy="520.5" r="0.8"/><circle cx="267.6" cy="525.2" r="0.8"/><circle cx="309.5" cy="536.2" r="0.8"/><circle cx="286.3" cy="522.8" r="0.8"/><circle cx="314.7" cy="536.0" r="0.8"/><circle cx="286.7" cy="528.1" r="0.8"/><circle cx="288.2" cy="530.3" r="0.8"/><circle cx="303.7" cy="533.5" r="0.8"/><circle cx="353.9" cy="548.4" r="0.8"/><circle cx="366.0" cy="549.7" r="0.8"/><circle cx="360.8" cy="555.2" r="0.8"/><circle cx="291.6" cy="525.7" r="0.8"/><circle cx="310.5" cy="554.3" r="0.8"/><circle cx="314.4" cy="536.6" r="0.8"/><circle cx="320.0" cy="540.3" r="0.8"/><circle cx="276.2" cy="525.9" r="0.8"/><circle cx="327.1" cy="541.9" r="0.8"/><circle cx="305.6" cy="530.0" r="0.8"/><circle cx="259.5" cy="512.9" r="0.8"/><circle cx="287.4" cy="526.3" r="0.8"/><circle cx="278.8" cy="527.0" r="0.8"/><circle cx="349.0" cy="548.4" r="0.8"/><circle cx="364.8" cy="548.8" r="0.8"/><circle cx="292.7" cy="530.6" r="0.8"/><circle cx="293.5" cy="527.3" r="0.8"/><circle cx="329.9" cy="543.3" r="0.8"/><circle cx="310.9" cy="537.1" r="0.8"/><circle cx="305.0" cy="554.9" r="0.8"/><circle cx="257.5" cy="546.8" r="0.8"/><circle cx="257.6" cy="549.4" r="0.8"/><circle cx="286.2" cy="554.5" r="0.8"/><circle cx="353.9" cy="545.9" r="0.8"/><circle cx="258.6" cy="539.1" r="0.8"/><circle cx="327.1" cy="554.4" r="0.8"/><circle cx="290.3" cy="528.0" r="0.8"/><circle cx="277.4" cy="523.1" r="0.8"/><circle cx="341.1" cy="544.7" r="0.8"/><circle cx="288.9" cy="527.8" r="0.8"/><circle cx="363.1" cy="551.2" r="0.8"/><circle cx="349.2" cy="554.9" r="0.8"/><circle cx="317.9" cy="537.3" r="0.8"/><circle cx="319.8" cy="541.2" r="0.8"/><circle cx="275.4" cy="521.3" r="0.8"/><circle cx="290.1" cy="530.7" r="0.8"/><circle cx="292.4" cy="554.9" r="0.8"/><circle cx="289.3" cy="555.5" r="0.8"/><circle cx="360.9" cy="550.2" r="0.8"/><circle cx="360.0" cy="549.8" r="0.8"/><circle cx="304.2" cy="554.4" r="0.8"/><circle cx="362.1" cy="550.2" r="0.8"/><circle cx="363.4" cy="543.3" r="0.8"/><circle cx="360.1" cy="550.0" r="0.8"/><circle cx="262.9" cy="526.5" r="0.8"/><circle cx="363.7" cy="552.6" r="0.8"/><circle cx="347.5" cy="555.5" r="0.8"/><circle cx="363.7" cy="548.3" r="0.8"/><circle cx="360.9" cy="547.4" r="0.8"/><circle cx="362.2" cy="555.4" r="0.8"/><circle cx="353.5" cy="554.6" r="0.8"/><circle cx="317.7" cy="555.1" r="0.8"/><circle cx="314.1" cy="539.3" r="0.8"/><circle cx="258.3" cy="541.1" r="0.8"/><circle cx="294.3" cy="525.2" r="0.8"/><circle cx="291.8" cy="526.9" r="0.8"/><circle cx="346.6" cy="554.9" r="0.8"/><circle cx="330.0" cy="543.8" r="0.8"/><circle cx="358.9" cy="549.7" r="0.8"/><circle cx="359.9" cy="548.0" r="0.8"/><circle cx="348.2" cy="555.2" r="0.8"/><circle cx="305.2" cy="532.7" r="0.8"/><circle cx="322.4" cy="554.6" r="0.8"/><circle cx="334.3" cy="545.7" r="0.8"/><circle cx="318.4" cy="554.3" r="0.8"/><circle cx="281.9" cy="555.4" r="0.8"/><circle cx="340.0" cy="544.0" r="0.8"/><circle cx="297.1" cy="532.6" r="0.8"/><circle cx="360.2" cy="545.2" r="0.8"/><circle cx="292.2" cy="554.6" r="0.8"/><circle cx="257.3" cy="532.4" r="0.8"/><circle cx="363.8" cy="552.8" r="0.8"/><circle cx="267.3" cy="555.2" r="0.8"/><circle cx="325.9" cy="540.1" r="0.8"/><circle cx="323.3" cy="538.8" r="0.8"/><circle cx="349.7" cy="548.5" r="0.8"/><circle cx="297.7" cy="527.4" r="0.8"/><circle cx="269.4" cy="525.8" r="0.8"/><circle cx="363.0" cy="552.7" r="0.8"/><circle cx="263.5" cy="555.3" r="0.8"/><circle cx="349.0" cy="555.5" r="0.8"/><circle cx="258.5" cy="542.5" r="0.8"/><circle cx="290.3" cy="555.4" r="0.8"/><circle cx="332.5" cy="555.1" r="0.8"/><circle cx="364.5" cy="550.0" r="0.8"/><circle cx="277.9" cy="518.5" r="0.8"/><circle cx="257.7" cy="551.6" r="0.8"/><circle cx="312.8" cy="539.2" r="0.8"/><circle cx="328.8" cy="554.3" r="0.8"/><circle cx="322.5" cy="540.3" r="0.8"/><circle cx="274.6" cy="525.2" r="0.8"/><circle cx="293.7" cy="530.6" r="0.8"/><circle cx="306.0" cy="535.4" r="0.8"/><circle cx="363.6" cy="550.3" r="0.8"/><circle cx="353.8" cy="548.3" r="0.8"/><circle cx="272.4" cy="522.7" r="0.8"/><circle cx="258.1" cy="529.7" r="0.8"/><circle cx="277.7" cy="554.5" r="0.8"/><circle cx="343.2" cy="543.2" r="0.8"/><circle cx="330.7" cy="543.8" r="0.8"/><circle cx="355.2" cy="549.2" r="0.8"/><circle cx="258.7" cy="521.5" r="0.8"/><circle cx="327.6" cy="554.9" r="0.8"/><circle cx="257.6" cy="523.8" r="0.8"/><circle cx="322.6" cy="535.2" r="0.8"/><circle cx="303.8" cy="534.6" r="0.8"/><circle cx="346.4" cy="542.2" r="0.8"/><circle cx="291.5" cy="530.7" r="0.8"/><circle cx="276.7" cy="521.5" r="0.8"/><circle cx="293.9" cy="529.3" r="0.8"/><circle cx="259.7" cy="526.9" r="0.8"/><circle cx="282.1" cy="525.2" r="0.8"/><circle cx="278.6" cy="523.2" r="0.8"/><circle cx="329.4" cy="537.6" r="0.8"/><circle cx="265.3" cy="525.7" r="0.8"/><circle cx="273.5" cy="524.1" r="0.8"/><circle cx="363.5" cy="550.8" r="0.8"/><circle cx="261.0" cy="515.9" r="0.8"/><circle cx="279.5" cy="520.6" r="0.8"/><circle cx="257.7" cy="531.3" r="0.8"/><circle cx="317.7" cy="538.8" r="0.8"/><circle cx="321.8" cy="537.6" r="0.8"/><circle cx="324.0" cy="537.4" r="0.8"/><circle cx="364.3" cy="550.9" r="0.8"/><circle cx="324.2" cy="554.9" r="0.8"/><circle cx="339.1" cy="554.9" r="0.8"/><circle cx="333.3" cy="542.6" r="0.8"/><circle cx="345.0" cy="554.9" r="0.8"/><circle cx="311.9" cy="555.1" r="0.8"/><circle cx="337.6" cy="546.3" r="0.8"/><circle cx="324.7" cy="542.6" r="0.8"/><circle cx="321.8" cy="554.6" r="0.8"/><circle cx="313.0" cy="530.1" r="0.8"/><circle cx="263.2" cy="526.2" r="0.8"/><circle cx="269.5" cy="523.3" r="0.8"/><circle cx="262.3" cy="523.7" r="0.8"/><circle cx="357.5" cy="542.9" r="0.8"/><circle cx="265.2" cy="526.1" r="0.8"/><circle cx="279.9" cy="518.1" r="0.8"/><circle cx="258.4" cy="532.9" r="0.8"/><circle cx="304.2" cy="532.0" r="0.8"/><circle cx="259.7" cy="528.0" r="0.8"/><circle cx="351.9" cy="554.6" r="0.8"/><circle cx="339.3" cy="543.1" r="0.8"/><circle cx="294.4" cy="554.8" r="0.8"/><circle cx="276.0" cy="526.5" r="0.8"/><circle cx="304.9" cy="534.3" r="0.8"/><circle cx="303.9" cy="528.5" r="0.8"/><circle cx="286.3" cy="529.6" r="0.8"/><circle cx="317.1" cy="536.0" r="0.8"/><circle cx="349.3" cy="547.8" r="0.8"/><circle cx="295.0" cy="527.6" r="0.8"/><circle cx="257.6" cy="549.4" r="0.8"/><circle cx="359.8" cy="549.2" r="0.8"/><circle cx="288.0" cy="528.2" r="0.8"/><circle cx="323.4" cy="539.3" r="0.8"/><circle cx="257.6" cy="545.4" r="0.8"/><circle cx="327.6" cy="536.5" r="0.8"/><circle cx="351.3" cy="546.4" r="0.8"/><circle cx="265.9" cy="528.4" r="0.8"/><circle cx="357.0" cy="555.6" r="0.8"/><circle cx="356.3" cy="555.5" r="0.8"/><circle cx="287.5" cy="520.7" r="0.8"/><circle cx="308.7" cy="534.4" r="0.8"/><circle cx="355.9" cy="547.9" r="0.8"/><circle cx="271.3" cy="523.9" r="0.8"/><circle cx="258.6" cy="545.4" r="0.8"/><circle cx="286.1" cy="528.2" r="0.8"/><circle cx="307.0" cy="554.9" r="0.8"/><circle cx="325.1" cy="535.1" r="0.8"/><circle cx="272.3" cy="555.4" r="0.8"/><circle cx="344.1" cy="555.7" r="0.8"/><circle cx="343.9" cy="547.3" r="0.8"/><circle cx="333.7" cy="541.7" r="0.8"/><circle cx="282.6" cy="528.1" r="0.8"/><circle cx="325.0" cy="539.2" r="0.8"/><circle cx="336.2" cy="546.1" r="0.8"/><circle cx="272.8" cy="525.0" r="0.8"/><circle cx="337.4" cy="545.0" r="0.8"/><circle cx="306.0" cy="554.7" r="0.8"/><circle cx="330.2" cy="555.3" r="0.8"/><circle cx="257.3" cy="537.4" r="0.8"/><circle cx="362.3" cy="553.5" r="0.8"/><circle cx="346.4" cy="547.5" r="0.8"/><circle cx="360.3" cy="549.4" r="0.8"/><circle cx="324.3" cy="555.4" r="0.8"/><circle cx="284.6" cy="516.9" r="0.8"/><circle cx="317.5" cy="538.7" r="0.8"/><circle cx="329.0" cy="554.9" r="0.8"/><circle cx="339.0" cy="544.1" r="0.8"/><circle cx="274.3" cy="525.2" r="0.8"/><circle cx="321.6" cy="555.2" r="0.8"/><circle cx="302.0" cy="534.4" r="0.8"/><circle cx="300.9" cy="533.5" r="0.8"/><circle cx="295.4" cy="532.0" r="0.8"/><circle cx="366.6" cy="550.9" r="0.8"/><circle cx="263.6" cy="554.9" r="0.8"/><circle cx="278.1" cy="522.6" r="0.8"/><circle cx="269.1" cy="513.8" r="0.8"/><circle cx="257.2" cy="526.9" r="0.8"/><circle cx="277.7" cy="519.9" r="0.8"/><circle cx="279.2" cy="555.7" r="0.8"/><circle cx="310.4" cy="536.1" r="0.8"/><circle cx="257.7" cy="529.2" r="0.8"/><circle cx="320.3" cy="538.8" r="0.8"/><circle cx="363.9" cy="547.8" r="0.8"/><circle cx="333.9" cy="540.5" r="0.8"/><circle cx="258.0" cy="526.1" r="0.8"/><circle cx="330.2" cy="554.5" r="0.8"/><circle cx="288.1" cy="527.1" r="0.8"/><circle cx="306.6" cy="534.0" r="0.8"/><circle cx="266.6" cy="555.5" r="0.8"/><circle cx="332.5" cy="555.5" r="0.8"/><circle cx="257.3" cy="536.1" r="0.8"/><circle cx="343.2" cy="555.7" r="0.8"/><circle cx="277.2" cy="522.6" r="0.8"/><circle cx="332.0" cy="544.5" r="0.8"/><circle cx="307.1" cy="534.5" r="0.8"/><circle cx="346.8" cy="547.0" r="0.8"/><circle cx="345.8" cy="546.5" r="0.8"/><circle cx="357.9" cy="543.7" r="0.8"/><circle cx="286.9" cy="527.9" r="0.8"/><circle cx="310.1" cy="536.0" r="0.8"/><circle cx="258.4" cy="549.1" r="0.8"/><circle cx="322.4" cy="543.1" r="0.8"/><circle cx="338.9" cy="546.8" r="0.8"/><circle cx="306.8" cy="535.0" r="0.8"/><circle cx="280.5" cy="519.5" r="0.8"/><circle cx="309.5" cy="535.5" r="0.8"/><circle cx="285.7" cy="554.8" r="0.8"/><circle cx="268.5" cy="526.3" r="0.8"/><circle cx="291.0" cy="528.6" r="0.8"/><circle cx="258.0" cy="530.6" r="0.8"/><circle cx="330.2" cy="555.7" r="0.8"/><circle cx="257.4" cy="549.8" r="0.8"/><circle cx="348.9" cy="554.5" r="0.8"/><circle cx="358.3" cy="550.7" r="0.8"/><circle cx="273.5" cy="526.3" r="0.8"/><circle cx="310.4" cy="534.8" r="0.8"/><circle cx="350.0" cy="544.0" r="0.8"/><circle cx="297.1" cy="531.3" r="0.8"/><circle cx="309.3" cy="537.1" r="0.8"/><circle cx="339.6" cy="546.8" r="0.8"/><circle cx="361.7" cy="554.3" r="0.8"/><circle cx="287.4" cy="530.2" r="0.8"/><circle cx="342.0" cy="542.8" r="0.8"/><circle cx="336.0" cy="545.0" r="0.8"/><circle cx="289.7" cy="526.8" r="0.8"/><circle cx="309.0" cy="554.3" r="0.8"/><circle cx="261.3" cy="525.6" r="0.8"/><circle cx="341.2" cy="545.6" r="0.8"/><circle cx="361.9" cy="552.0" r="0.8"/><circle cx="309.0" cy="530.8" r="0.8"/><circle cx="353.9" cy="549.4" r="0.8"/><circle cx="272.6" cy="519.8" r="0.8"/><circle cx="337.6" cy="543.6" r="0.8"/><circle cx="280.5" cy="526.9" r="0.8"/><circle cx="322.1" cy="555.2" r="0.8"/><circle cx="274.2" cy="522.8" r="0.8"/><circle cx="258.7" cy="536.8" r="0.8"/><circle cx="333.8" cy="544.7" r="0.8"/><circle cx="334.9" cy="554.3" r="0.8"/><circle cx="276.0" cy="555.7" r="0.8"/><circle cx="305.4" cy="535.4" r="0.8"/><circle cx="311.1" cy="555.1" r="0.8"/><circle cx="337.6" cy="545.3" r="0.8"/><circle cx="313.9" cy="531.5" r="0.8"/><circle cx="318.2" cy="532.8" r="0.8"/><circle cx="269.6" cy="520.8" r="0.8"/><circle cx="304.9" cy="532.6" r="0.8"/><circle cx="268.9" cy="554.2" r="0.8"/><circle cx="291.4" cy="519.6" r="0.8"/><circle cx="345.2" cy="547.2" r="0.8"/><circle cx="274.8" cy="523.3" r="0.8"/><circle cx="307.6" cy="534.4" r="0.8"/><circle cx="340.8" cy="546.7" r="0.8"/><circle cx="257.7" cy="531.7" r="0.8"/><circle cx="296.0" cy="525.8" r="0.8"/><circle cx="341.8" cy="555.8" r="0.8"/><circle cx="309.2" cy="523.4" r="0.8"/><circle cx="263.3" cy="521.7" r="0.8"/><circle cx="350.3" cy="554.2" r="0.8"/><circle cx="289.8" cy="527.7" r="0.8"/><circle cx="339.4" cy="544.2" r="0.8"/><circle cx="360.6" cy="547.1" r="0.8"/><circle cx="274.6" cy="521.6" r="0.8"/><circle cx="282.8" cy="525.7" r="0.8"/><circle cx="354.9" cy="549.0" r="0.8"/><circle cx="285.4" cy="527.2" r="0.8"/><circle cx="374.0" cy="549.6" r="0.8"/><circle cx="359.5" cy="550.3" r="0.8"/><circle cx="341.2" cy="536.8" r="0.8"/><circle cx="349.6" cy="544.1" r="0.8"/><circle cx="307.3" cy="535.3" r="0.8"/><circle cx="326.9" cy="543.0" r="0.8"/><circle cx="266.5" cy="526.3" r="0.8"/><circle cx="298.7" cy="554.9" r="0.8"/><circle cx="266.6" cy="554.5" r="0.8"/><circle cx="337.2" cy="545.3" r="0.8"/><circle cx="336.1" cy="544.1" r="0.8"/><circle cx="268.4" cy="525.5" r="0.8"/><circle cx="258.7" cy="547.1" r="0.8"/><circle cx="287.0" cy="530.2" r="0.8"/><circle cx="314.6" cy="554.6" r="0.8"/><circle cx="337.0" cy="542.8" r="0.8"/><circle cx="324.4" cy="555.4" r="0.8"/><circle cx="278.3" cy="525.9" r="0.8"/><circle cx="278.5" cy="520.3" r="0.8"/><circle cx="341.2" cy="543.6" r="0.8"/><circle cx="344.1" cy="554.4" r="0.8"/><circle cx="321.7" cy="554.5" r="0.8"/><circle cx="336.0" cy="555.4" r="0.8"/><circle cx="339.8" cy="545.5" r="0.8"/><circle cx="314.9" cy="540.0" r="0.8"/><circle cx="305.3" cy="554.3" r="0.8"/><circle cx="352.3" cy="547.0" r="0.8"/><circle cx="322.2" cy="539.9" r="0.8"/><circle cx="258.4" cy="546.4" r="0.8"/><circle cx="359.0" cy="545.9" r="0.8"/><circle cx="328.8" cy="536.9" r="0.8"/><circle cx="344.0" cy="547.4" r="0.8"/><circle cx="297.0" cy="529.5" r="0.8"/><circle cx="328.9" cy="554.5" r="0.8"/><circle cx="342.4" cy="554.9" r="0.8"/><circle cx="296.8" cy="527.5" r="0.8"/><circle cx="257.5" cy="525.6" r="0.8"/><circle cx="335.4" cy="544.7" r="0.8"/><circle cx="294.7" cy="525.5" r="0.8"/><circle cx="275.7" cy="519.9" r="0.8"/><circle cx="316.5" cy="555.4" r="0.8"/><circle cx="330.0" cy="538.3" r="0.8"/><circle cx="315.8" cy="555.7" r="0.8"/><circle cx="308.4" cy="533.8" r="0.8"/><circle cx="292.2" cy="519.4" r="0.8"/><circle cx="306.1" cy="555.0" r="0.8"/><circle cx="354.3" cy="544.8" r="0.8"/><circle cx="257.7" cy="540.2" r="0.8"/><circle cx="303.8" cy="535.3" r="0.8"/><circle cx="347.5" cy="547.6" r="0.8"/><circle cx="303.8" cy="533.8" r="0.8"/><circle cx="294.3" cy="529.9" r="0.8"/><circle cx="276.2" cy="526.2" r="0.8"/><circle cx="351.6" cy="544.5" r="0.8"/><circle cx="369.8" cy="550.4" r="0.8"/><circle cx="319.6" cy="555.0" r="0.8"/><circle cx="257.7" cy="537.3" r="0.8"/><circle cx="261.5" cy="526.2" r="0.8"/><circle cx="305.1" cy="530.8" r="0.8"/><circle cx="258.6" cy="548.0" r="0.8"/><circle cx="326.5" cy="543.0" r="0.8"/><circle cx="258.8" cy="524.4" r="0.8"/><circle cx="263.1" cy="521.6" r="0.8"/><circle cx="329.7" cy="544.5" r="0.8"/><circle cx="266.3" cy="526.2" r="0.8"/><circle cx="357.7" cy="554.4" r="0.8"/><circle cx="290.1" cy="529.1" r="0.8"/><circle cx="258.6" cy="527.7" r="0.8"/><circle cx="334.5" cy="541.0" r="0.8"/><circle cx="323.8" cy="540.7" r="0.8"/><circle cx="362.9" cy="551.4" r="0.8"/><circle cx="362.6" cy="550.0" r="0.8"/><circle cx="297.8" cy="531.8" r="0.8"/><circle cx="269.7" cy="527.8" r="0.8"/><circle cx="284.2" cy="527.4" r="0.8"/><circle cx="331.6" cy="544.8" r="0.8"/><circle cx="367.6" cy="551.0" r="0.8"/><circle cx="288.6" cy="528.0" r="0.8"/><circle cx="341.0" cy="545.1" r="0.8"/><circle cx="348.3" cy="546.4" r="0.8"/><circle cx="294.2" cy="554.2" r="0.8"/><circle cx="355.4" cy="547.3" r="0.8"/><circle cx="262.0" cy="555.2" r="0.8"/><circle cx="283.6" cy="528.2" r="0.8"/><circle cx="315.9" cy="536.2" r="0.8"/><circle cx="289.8" cy="528.8" r="0.8"/><circle cx="258.0" cy="545.0" r="0.8"/><circle cx="326.9" cy="536.1" r="0.8"/><circle cx="364.2" cy="548.7" r="0.8"/><circle cx="315.6" cy="538.6" r="0.8"/><circle cx="313.4" cy="537.3" r="0.8"/><circle cx="308.6" cy="535.5" r="0.8"/><circle cx="279.8" cy="522.0" r="0.8"/><circle cx="273.6" cy="525.8" r="0.8"/><circle cx="311.6" cy="536.4" r="0.8"/><circle cx="299.7" cy="554.6" r="0.8"/><circle cx="266.7" cy="554.6" r="0.8"/><circle cx="266.5" cy="555.6" r="0.8"/><circle cx="344.1" cy="543.5" r="0.8"/><circle cx="347.9" cy="555.7" r="0.8"/><circle cx="317.8" cy="536.4" r="0.8"/><circle cx="266.0" cy="555.2" r="0.8"/><circle cx="348.6" cy="555.8" r="0.8"/><circle cx="316.0" cy="540.9" r="0.8"/><circle cx="295.2" cy="526.5" r="0.8"/><circle cx="343.2" cy="543.9" r="0.8"/><circle cx="258.5" cy="530.9" r="0.8"/><circle cx="314.6" cy="535.5" r="0.8"/><circle cx="314.1" cy="530.8" r="0.8"/><circle cx="338.2" cy="541.4" r="0.8"/><circle cx="257.2" cy="536.7" r="0.8"/><circle cx="271.8" cy="526.6" r="0.8"/><circle cx="324.4" cy="542.1" r="0.8"/><circle cx="258.3" cy="534.9" r="0.8"/><circle cx="358.1" cy="549.9" r="0.8"/><circle cx="311.5" cy="538.5" r="0.8"/><circle cx="336.1" cy="544.3" r="0.8"/><circle cx="357.6" cy="550.1" r="0.8"/><circle cx="301.7" cy="524.4" r="0.8"/><circle cx="295.3" cy="528.2" r="0.8"/><circle cx="323.2" cy="541.7" r="0.8"/><circle cx="361.6" cy="545.9" r="0.8"/><circle cx="332.8" cy="542.4" r="0.8"/><circle cx="362.1" cy="548.0" r="0.8"/><circle cx="262.3" cy="555.5" r="0.8"/><circle cx="312.0" cy="538.6" r="0.8"/><circle cx="357.9" cy="549.7" r="0.8"/><circle cx="334.6" cy="554.6" r="0.8"/><circle cx="284.7" cy="527.4" r="0.8"/><circle cx="293.0" cy="554.9" r="0.8"/><circle cx="269.2" cy="527.4" r="0.8"/><circle cx="361.1" cy="551.6" r="0.8"/><circle cx="262.4" cy="528.2" r="0.8"/><circle cx="315.3" cy="537.8" r="0.8"/><circle cx="328.2" cy="540.7" r="0.8"/><circle cx="345.2" cy="554.7" r="0.8"/><circle cx="257.9" cy="531.7" r="0.8"/><circle cx="309.5" cy="530.1" r="0.8"/><circle cx="331.1" cy="542.5" r="0.8"/><circle cx="329.3" cy="544.2" r="0.8"/><circle cx="279.0" cy="526.4" r="0.8"/><circle cx="343.3" cy="555.1" r="0.8"/><circle cx="303.1" cy="534.6" r="0.8"/><circle cx="310.5" cy="537.8" r="0.8"/><circle cx="258.3" cy="533.8" r="0.8"/><circle cx="364.8" cy="544.1" r="0.8"/><circle cx="307.4" cy="555.3" r="0.8"/><circle cx="317.4" cy="540.0" r="0.8"/><circle cx="282.2" cy="554.4" r="0.8"/><circle cx="309.2" cy="554.5" r="0.8"/><circle cx="347.7" cy="544.6" r="0.8"/><circle cx="322.8" cy="539.2" r="0.8"/><circle cx="344.0" cy="544.8" r="0.8"/><circle cx="368.2" cy="552.9" r="0.8"/><circle cx="349.0" cy="545.7" r="0.8"/><circle cx="273.8" cy="526.1" r="0.8"/><circle cx="272.7" cy="524.4" r="0.8"/><circle cx="293.6" cy="528.1" r="0.8"/><circle cx="350.7" cy="545.3" r="0.8"/><circle cx="307.3" cy="534.4" r="0.8"/><circle cx="288.9" cy="526.4" r="0.8"/><circle cx="306.1" cy="533.1" r="0.8"/><circle cx="274.6" cy="523.8" r="0.8"/><circle cx="287.2" cy="521.8" r="0.8"/><circle cx="313.1" cy="554.5" r="0.8"/><circle cx="316.5" cy="555.6" r="0.8"/><circle cx="311.4" cy="534.2" r="0.8"/><circle cx="333.9" cy="542.1" r="0.8"/><circle cx="300.6" cy="530.8" r="0.8"/><circle cx="337.3" cy="545.4" r="0.8"/><circle cx="257.7" cy="555.5" r="0.8"/><circle cx="329.3" cy="543.5" r="0.8"/><circle cx="261.4" cy="555.5" r="0.8"/><circle cx="289.3" cy="554.4" r="0.8"/><circle cx="277.5" cy="527.1" r="0.8"/><circle cx="262.4" cy="529.1" r="0.8"/><circle cx="270.9" cy="522.6" r="0.8"/><circle cx="290.4" cy="526.2" r="0.8"/><circle cx="314.6" cy="537.5" r="0.8"/><circle cx="289.7" cy="530.7" r="0.8"/><circle cx="295.7" cy="530.4" r="0.8"/><circle cx="340.2" cy="545.2" r="0.8"/><circle cx="287.5" cy="530.3" r="0.8"/><circle cx="272.9" cy="524.5" r="0.8"/><circle cx="273.8" cy="519.0" r="0.8"/><circle cx="264.4" cy="526.8" r="0.8"/><circle cx="267.3" cy="524.7" r="0.8"/><circle cx="312.5" cy="554.9" r="0.8"/><circle cx="308.6" cy="534.6" r="0.8"/><circle cx="339.4" cy="554.5" r="0.8"/><circle cx="271.8" cy="526.0" r="0.8"/><circle cx="353.4" cy="545.3" r="0.8"/><circle cx="314.3" cy="539.6" r="0.8"/><circle cx="264.3" cy="554.7" r="0.8"/><circle cx="358.4" cy="555.1" r="0.8"/><circle cx="324.7" cy="540.7" r="0.8"/><circle cx="359.7" cy="549.5" r="0.8"/><circle cx="318.1" cy="555.6" r="0.8"/><circle cx="359.2" cy="555.4" r="0.8"/><circle cx="323.4" cy="541.9" r="0.8"/><circle cx="310.7" cy="536.5" r="0.8"/><circle cx="275.2" cy="525.4" r="0.8"/><circle cx="264.0" cy="526.7" r="0.8"/><circle cx="347.8" cy="554.8" r="0.8"/><circle cx="320.9" cy="554.4" r="0.8"/><circle cx="309.6" cy="555.0" r="0.8"/><circle cx="337.0" cy="542.2" r="0.8"/><circle cx="332.4" cy="538.3" r="0.8"/><circle cx="269.6" cy="554.5" r="0.8"/><circle cx="300.1" cy="533.7" r="0.8"/><circle cx="330.6" cy="542.2" r="0.8"/><circle cx="271.8" cy="520.1" r="0.8"/><circle cx="364.9" cy="544.1" r="0.8"/><circle cx="259.7" cy="528.6" r="0.8"/><circle cx="361.2" cy="551.8" r="0.8"/><circle cx="339.0" cy="546.6" r="0.8"/><circle cx="332.3" cy="542.0" r="0.8"/><circle cx="308.2" cy="536.6" r="0.8"/><circle cx="266.2" cy="527.6" r="0.8"/><circle cx="324.7" cy="554.9" r="0.8"/><circle cx="344.9" cy="554.8" r="0.8"/><circle cx="257.5" cy="540.8" r="0.8"/><circle cx="276.0" cy="526.8" r="0.8"/><circle cx="336.5" cy="544.0" r="0.8"/><circle cx="334.1" cy="554.5" r="0.8"/><circle cx="353.1" cy="541.3" r="0.8"/><circle cx="345.5" cy="545.4" r="0.8"/><circle cx="303.1" cy="555.2" r="0.8"/><circle cx="327.1" cy="555.0" r="0.8"/><circle cx="276.5" cy="525.4" r="0.8"/><circle cx="291.1" cy="554.5" r="0.8"/><circle cx="266.3" cy="519.3" r="0.8"/><circle cx="266.0" cy="527.4" r="0.8"/><circle cx="275.0" cy="523.4" r="0.8"/><circle cx="257.8" cy="534.8" r="0.8"/><circle cx="354.8" cy="545.7" r="0.8"/><circle cx="321.4" cy="541.4" r="0.8"/><circle cx="353.4" cy="548.9" r="0.8"/><circle cx="284.6" cy="528.7" r="0.8"/><circle cx="324.9" cy="555.5" r="0.8"/><circle cx="333.2" cy="544.2" r="0.8"/><circle cx="352.3" cy="549.0" r="0.8"/><circle cx="348.5" cy="538.8" r="0.8"/><circle cx="282.7" cy="527.6" r="0.8"/><circle cx="354.1" cy="555.7" r="0.8"/><circle cx="289.6" cy="554.5" r="0.8"/><circle cx="328.9" cy="540.8" r="0.8"/><circle cx="259.6" cy="521.3" r="0.8"/><circle cx="286.9" cy="554.5" r="0.8"/><circle cx="336.0" cy="546.0" r="0.8"/><circle cx="326.4" cy="555.4" r="0.8"/><circle cx="258.7" cy="555.3" r="0.8"/><circle cx="278.1" cy="554.4" r="0.8"/><circle cx="309.7" cy="531.6" r="0.8"/><circle cx="351.4" cy="555.8" r="0.8"/><circle cx="360.8" cy="548.6" r="0.8"/><circle cx="300.8" cy="534.0" r="0.8"/><circle cx="366.3" cy="550.1" r="0.8"/><circle cx="333.6" cy="538.4" r="0.8"/><circle cx="292.2" cy="530.6" r="0.8"/><circle cx="267.1" cy="555.1" r="0.8"/><circle cx="327.6" cy="555.2" r="0.8"/><circle cx="258.8" cy="552.5" r="0.8"/><circle cx="281.1" cy="525.3" r="0.8"/><circle cx="318.0" cy="537.4" r="0.8"/><circle cx="343.8" cy="545.8" r="0.8"/><circle cx="364.6" cy="546.3" r="0.8"/><circle cx="332.0" cy="544.4" r="0.8"/><circle cx="310.2" cy="535.1" r="0.8"/><circle cx="365.3" cy="553.0" r="0.8"/><circle cx="316.4" cy="536.1" r="0.8"/><circle cx="351.1" cy="545.0" r="0.8"/><circle cx="285.3" cy="526.6" r="0.8"/><circle cx="282.9" cy="529.5" r="0.8"/><circle cx="324.4" cy="554.9" r="0.8"/><circle cx="333.7" cy="545.5" r="0.8"/><circle cx="333.6" cy="542.5" r="0.8"/><circle cx="269.1" cy="527.7" r="0.8"/><circle cx="293.3" cy="529.0" r="0.8"/><circle cx="336.6" cy="545.8" r="0.8"/><circle cx="309.3" cy="537.0" r="0.8"/><circle cx="277.7" cy="524.6" r="0.8"/><circle cx="367.4" cy="549.4" r="0.8"/><circle cx="306.4" cy="534.4" r="0.8"/><circle cx="321.7" cy="539.2" r="0.8"/><circle cx="347.3" cy="554.9" r="0.8"/><circle cx="300.7" cy="555.6" r="0.8"/><circle cx="270.1" cy="526.9" r="0.8"/><circle cx="281.6" cy="522.2" r="0.8"/><circle cx="341.5" cy="545.2" r="0.8"/><circle cx="299.9" cy="530.4" r="0.8"/><circle cx="259.1" cy="525.0" r="0.8"/><circle cx="302.9" cy="531.6" r="0.8"/><circle cx="335.0" cy="543.8" r="0.8"/><circle cx="265.0" cy="525.6" r="0.8"/><circle cx="274.5" cy="519.1" r="0.8"/><circle cx="263.6" cy="528.4" r="0.8"/><circle cx="303.1" cy="532.3" r="0.8"/><circle cx="277.9" cy="515.0" r="0.8"/><circle cx="269.1" cy="555.3" r="0.8"/><circle cx="295.2" cy="528.9" r="0.8"/><circle cx="367.7" cy="552.6" r="0.8"/><circle cx="322.8" cy="554.4" r="0.8"/><circle cx="338.5" cy="554.6" r="0.8"/><circle cx="294.4" cy="529.7" r="0.8"/><circle cx="328.6" cy="542.9" r="0.8"/><circle cx="303.7" cy="554.9" r="0.8"/><circle cx="351.6" cy="546.2" r="0.8"/><circle cx="359.9" cy="555.8" r="0.8"/><circle cx="269.1" cy="526.0" r="0.8"/><circle cx="316.0" cy="554.2" r="0.8"/><circle cx="306.4" cy="535.9" r="0.8"/><circle cx="296.3" cy="531.3" r="0.8"/><circle cx="362.0" cy="552.0" r="0.8"/><circle cx="329.1" cy="543.8" r="0.8"/><circle cx="339.5" cy="555.8" r="0.8"/><circle cx="319.7" cy="555.1" r="0.8"/><circle cx="351.1" cy="541.9" r="0.8"/><circle cx="274.4" cy="525.2" r="0.8"/><circle cx="329.3" cy="555.8" r="0.8"/><circle cx="310.1" cy="537.0" r="0.8"/><circle cx="308.4" cy="526.6" r="0.8"/><circle cx="270.5" cy="525.9" r="0.8"/><circle cx="331.3" cy="532.0" r="0.8"/><circle cx="320.6" cy="540.3" r="0.8"/><circle cx="364.6" cy="554.6" r="0.8"/><circle cx="309.9" cy="521.0" r="0.8"/><circle cx="296.8" cy="554.6" r="0.8"/><circle cx="325.5" cy="541.6" r="0.8"/><circle cx="273.9" cy="524.2" r="0.8"/><circle cx="314.5" cy="529.8" r="0.8"/><circle cx="345.0" cy="543.1" r="0.8"/><circle cx="271.4" cy="524.8" r="0.8"/><circle cx="359.9" cy="550.7" r="0.8"/><circle cx="296.7" cy="528.5" r="0.8"/><circle cx="366.5" cy="549.8" r="0.8"/><circle cx="352.8" cy="537.3" r="0.8"/><circle cx="297.3" cy="531.3" r="0.8"/><circle cx="344.8" cy="555.1" r="0.8"/><circle cx="313.0" cy="537.9" r="0.8"/><circle cx="265.7" cy="555.3" r="0.8"/><circle cx="327.2" cy="544.2" r="0.8"/><circle cx="322.8" cy="542.9" r="0.8"/><circle cx="356.3" cy="548.1" r="0.8"/><circle cx="295.8" cy="528.9" r="0.8"/><circle cx="312.3" cy="534.7" r="0.8"/><circle cx="334.0" cy="555.1" r="0.8"/><circle cx="297.6" cy="533.0" r="0.8"/><circle cx="270.1" cy="525.4" r="0.8"/><circle cx="286.2" cy="528.1" r="0.8"/><circle cx="285.0" cy="529.3" r="0.8"/><circle cx="269.2" cy="526.5" r="0.8"/><circle cx="259.5" cy="555.5" r="0.8"/><circle cx="321.6" cy="555.4" r="0.8"/><circle cx="281.4" cy="555.0" r="0.8"/><circle cx="311.3" cy="555.0" r="0.8"/><circle cx="328.0" cy="544.4" r="0.8"/><circle cx="257.4" cy="534.6" r="0.8"/><circle cx="275.9" cy="524.9" r="0.8"/><circle cx="338.4" cy="541.4" r="0.8"/><circle cx="358.8" cy="538.0" r="0.8"/><circle cx="311.6" cy="554.8" r="0.8"/><circle cx="316.9" cy="537.6" r="0.8"/><circle cx="271.5" cy="524.7" r="0.8"/><circle cx="261.6" cy="526.8" r="0.8"/><circle cx="305.7" cy="534.3" r="0.8"/><circle cx="333.3" cy="543.2" r="0.8"/><circle cx="266.6" cy="555.5" r="0.8"/><circle cx="337.6" cy="554.4" r="0.8"/><circle cx="275.7" cy="526.0" r="0.8"/><circle cx="271.5" cy="516.8" r="0.8"/><circle cx="337.8" cy="555.0" r="0.8"/><circle cx="294.4" cy="530.0" r="0.8"/><circle cx="304.8" cy="554.2" r="0.8"/><circle cx="262.7" cy="528.4" r="0.8"/><circle cx="297.1" cy="532.3" r="0.8"/><circle cx="348.8" cy="555.7" r="0.8"/><circle cx="292.0" cy="524.9" r="0.8"/><circle cx="338.5" cy="544.2" r="0.8"/><circle cx="279.5" cy="555.6" r="0.8"/><circle cx="351.3" cy="547.5" r="0.8"/><circle cx="292.5" cy="527.0" r="0.8"/><circle cx="283.2" cy="525.3" r="0.8"/><circle cx="344.7" cy="545.4" r="0.8"/><circle cx="356.3" cy="547.3" r="0.8"/><circle cx="362.4" cy="551.2" r="0.8"/><circle cx="287.2" cy="523.7" r="0.8"/><circle cx="342.7" cy="555.1" r="0.8"/><circle cx="357.8" cy="555.7" r="0.8"/><circle cx="350.8" cy="548.5" r="0.8"/><circle cx="356.5" cy="548.1" r="0.8"/><circle cx="342.7" cy="542.6" r="0.8"/><circle cx="297.0" cy="532.7" r="0.8"/><circle cx="294.1" cy="555.1" r="0.8"/><circle cx="344.1" cy="554.3" r="0.8"/><circle cx="301.7" cy="531.2" r="0.8"/><circle cx="275.4" cy="523.5" r="0.8"/><circle cx="316.6" cy="540.4" r="0.8"/><circle cx="321.1" cy="537.4" r="0.8"/><circle cx="341.2" cy="554.7" r="0.8"/><circle cx="306.2" cy="533.3" r="0.8"/><circle cx="271.3" cy="525.7" r="0.8"/><circle cx="309.0" cy="532.2" r="0.8"/><circle cx="301.9" cy="555.1" r="0.8"/><circle cx="352.1" cy="547.8" r="0.8"/><circle cx="299.4" cy="533.4" r="0.8"/><circle cx="312.4" cy="535.2" r="0.8"/><circle cx="333.4" cy="555.0" r="0.8"/><circle cx="275.3" cy="524.6" r="0.8"/><circle cx="315.5" cy="539.8" r="0.8"/><circle cx="312.6" cy="538.2" r="0.8"/><circle cx="297.7" cy="529.7" r="0.8"/><circle cx="363.2" cy="548.9" r="0.8"/><circle cx="282.9" cy="529.7" r="0.8"/><circle cx="258.2" cy="541.5" r="0.8"/><circle cx="324.1" cy="540.0" r="0.8"/><circle cx="285.7" cy="554.2" r="0.8"/><circle cx="360.2" cy="549.6" r="0.8"/><circle cx="338.5" cy="545.6" r="0.8"/><circle cx="319.0" cy="539.6" r="0.8"/><circle cx="334.6" cy="541.7" r="0.8"/><circle cx="337.3" cy="541.6" r="0.8"/><circle cx="310.8" cy="535.4" r="0.8"/><circle cx="258.0" cy="530.0" r="0.8"/><circle cx="277.8" cy="525.8" r="0.8"/><circle cx="295.6" cy="555.3" r="0.8"/><circle cx="321.6" cy="541.2" r="0.8"/><circle cx="342.9" cy="544.4" r="0.8"/><circle cx="276.7" cy="526.0" r="0.8"/><circle cx="297.9" cy="530.8" r="0.8"/><circle cx="286.3" cy="525.2" r="0.8"/><circle cx="334.6" cy="545.1" r="0.8"/><circle cx="310.0" cy="554.3" r="0.8"/><circle cx="266.9" cy="527.0" r="0.8"/><circle cx="315.5" cy="534.0" r="0.8"/><circle cx="257.4" cy="532.2" r="0.8"/><circle cx="276.3" cy="526.7" r="0.8"/><circle cx="314.1" cy="539.8" r="0.8"/><circle cx="291.7" cy="555.4" r="0.8"/><circle cx="305.1" cy="554.5" r="0.8"/><circle cx="262.8" cy="527.8" r="0.8"/><circle cx="317.3" cy="541.5" r="0.8"/><circle cx="302.7" cy="534.3" r="0.8"/><circle cx="338.4" cy="538.6" r="0.8"/><circle cx="294.8" cy="525.5" r="0.8"/><circle cx="348.2" cy="542.8" r="0.8"/><circle cx="286.5" cy="529.1" r="0.8"/><circle cx="303.4" cy="528.6" r="0.8"/><circle cx="288.9" cy="554.9" r="0.8"/><circle cx="286.9" cy="526.7" r="0.8"/><circle cx="367.0" cy="554.5" r="0.8"/><circle cx="346.5" cy="544.1" r="0.8"/><circle cx="278.0" cy="523.1" r="0.8"/><circle cx="322.3" cy="555.3" r="0.8"/><circle cx="360.2" cy="549.9" r="0.8"/><circle cx="333.1" cy="554.3" r="0.8"/><circle cx="341.8" cy="545.4" r="0.8"/><circle cx="358.6" cy="547.5" r="0.8"/><circle cx="338.9" cy="554.6" r="0.8"/><circle cx="359.6" cy="551.3" r="0.8"/><circle cx="308.5" cy="534.3" r="0.8"/><circle cx="311.2" cy="555.0" r="0.8"/><circle cx="298.1" cy="529.2" r="0.8"/><circle cx="295.5" cy="532.0" r="0.8"/><circle cx="272.8" cy="525.3" r="0.8"/><circle cx="327.6" cy="542.0" r="0.8"/><circle cx="355.6" cy="550.0" r="0.8"/><circle cx="357.1" cy="547.7" r="0.8"/><circle cx="293.4" cy="526.4" r="0.8"/><circle cx="360.2" cy="551.6" r="0.8"/><circle cx="359.0" cy="548.8" r="0.8"/><circle cx="322.0" cy="543.0" r="0.8"/><circle cx="328.2" cy="544.6" r="0.8"/><circle cx="297.2" cy="554.5" r="0.8"/><circle cx="315.4" cy="554.6" r="0.8"/><circle cx="333.3" cy="538.6" r="0.8"/><circle cx="328.7" cy="536.3" r="0.8"/><circle cx="265.2" cy="526.7" r="0.8"/><circle cx="261.9" cy="528.1" r="0.8"/><circle cx="293.2" cy="529.0" r="0.8"/><circle cx="271.3" cy="518.8" r="0.8"/><circle cx="287.4" cy="524.3" r="0.8"/><circle cx="307.4" cy="533.2" r="0.8"/><circle cx="308.1" cy="534.4" r="0.8"/><circle cx="325.9" cy="543.2" r="0.8"/><circle cx="331.9" cy="555.0" r="0.8"/><circle cx="360.7" cy="545.9" r="0.8"/><circle cx="314.8" cy="539.5" r="0.8"/><circle cx="335.2" cy="545.1" r="0.8"/><circle cx="336.2" cy="545.2" r="0.8"/><circle cx="290.6" cy="526.8" r="0.8"/><circle cx="294.9" cy="529.7" r="0.8"/><circle cx="277.0" cy="525.6" r="0.8"/><circle cx="308.8" cy="555.4" r="0.8"/><circle cx="264.3" cy="526.3" r="0.8"/><circle cx="313.5" cy="529.5" r="0.8"/><circle cx="257.7" cy="531.7" r="0.8"/><circle cx="315.5" cy="554.4" r="0.8"/><circle cx="272.8" cy="554.5" r="0.8"/><circle cx="284.4" cy="527.6" r="0.8"/><circle cx="289.6" cy="555.7" r="0.8"/><circle cx="300.3" cy="533.7" r="0.8"/><circle cx="289.6" cy="529.0" r="0.8"/><circle cx="265.6" cy="524.5" r="0.8"/><circle cx="348.0" cy="546.0" r="0.8"/><circle cx="312.4" cy="538.8" r="0.8"/><circle cx="262.1" cy="555.1" r="0.8"/><circle cx="259.5" cy="554.7" r="0.8"/><circle cx="328.6" cy="555.4" r="0.8"/><circle cx="337.9" cy="554.8" r="0.8"/><circle cx="302.0" cy="533.9" r="0.8"/><circle cx="258.3" cy="555.2" r="0.8"/><circle cx="292.1" cy="554.3" r="0.8"/><circle cx="308.5" cy="554.7" r="0.8"/><circle cx="324.1" cy="539.1" r="0.8"/><circle cx="260.0" cy="555.0" r="0.8"/><circle cx="318.7" cy="539.5" r="0.8"/><circle cx="282.2" cy="527.5" r="0.8"/><circle cx="268.7" cy="526.4" r="0.8"/><circle cx="327.0" cy="538.1" r="0.8"/><circle cx="315.8" cy="554.3" r="0.8"/><circle cx="314.9" cy="540.4" r="0.8"/><circle cx="355.3" cy="544.9" r="0.8"/><circle cx="340.5" cy="543.9" r="0.8"/><circle cx="330.9" cy="554.6" r="0.8"/><circle cx="342.9" cy="539.5" r="0.8"/><circle cx="342.9" cy="542.2" r="0.8"/><circle cx="305.2" cy="528.7" r="0.8"/><circle cx="289.0" cy="524.3" r="0.8"/><circle cx="299.7" cy="531.2" r="0.8"/><circle cx="360.7" cy="548.3" r="0.8"/><circle cx="306.0" cy="535.9" r="0.8"/><circle cx="324.2" cy="541.8" r="0.8"/><circle cx="303.6" cy="534.6" r="0.8"/><circle cx="257.7" cy="545.5" r="0.8"/><circle cx="306.0" cy="530.4" r="0.8"/><circle cx="314.7" cy="555.5" r="0.8"/><circle cx="297.1" cy="555.0" r="0.8"/><circle cx="336.9" cy="544.5" r="0.8"/><circle cx="330.2" cy="541.5" r="0.8"/><circle cx="299.8" cy="532.8" r="0.8"/><circle cx="322.8" cy="554.7" r="0.8"/><circle cx="271.9" cy="555.3" r="0.8"/><circle cx="361.3" cy="555.1" r="0.8"/><circle cx="323.0" cy="543.0" r="0.8"/><circle cx="286.7" cy="528.0" r="0.8"/><circle cx="257.7" cy="529.8" r="0.8"/><circle cx="282.6" cy="555.2" r="0.8"/><circle cx="279.7" cy="526.6" r="0.8"/><circle cx="272.2" cy="525.0" r="0.8"/><circle cx="355.3" cy="555.0" r="0.8"/><circle cx="299.9" cy="532.1" r="0.8"/><circle cx="363.0" cy="553.7" r="0.8"/><circle cx="310.9" cy="538.0" r="0.8"/><circle cx="257.9" cy="531.8" r="0.8"/><circle cx="262.8" cy="525.5" r="0.8"/><circle cx="332.6" cy="544.9" r="0.8"/><circle cx="339.2" cy="544.1" r="0.8"/><circle cx="303.3" cy="535.2" r="0.8"/><circle cx="300.4" cy="530.9" r="0.8"/><circle cx="371.7" cy="549.3" r="0.8"/><circle cx="340.1" cy="554.6" r="0.8"/><circle cx="279.5" cy="554.8" r="0.8"/><circle cx="257.6" cy="550.4" r="0.8"/><circle cx="269.7" cy="555.7" r="0.8"/><circle cx="271.6" cy="527.0" r="0.8"/><circle cx="324.7" cy="541.2" r="0.8"/><circle cx="278.7" cy="526.6" r="0.8"/><circle cx="324.8" cy="539.7" r="0.8"/><circle cx="348.1" cy="545.6" r="0.8"/><circle cx="295.2" cy="531.0" r="0.8"/><circle cx="295.5" cy="527.4" r="0.8"/><circle cx="314.2" cy="555.6" r="0.8"/><circle cx="289.0" cy="555.7" r="0.8"/><circle cx="277.7" cy="555.7" r="0.8"/><circle cx="278.4" cy="526.9" r="0.8"/><circle cx="322.3" cy="537.0" r="0.8"/><circle cx="259.3" cy="528.4" r="0.8"/><circle cx="331.9" cy="555.2" r="0.8"/><circle cx="257.3" cy="527.7" r="0.8"/><circle cx="341.2" cy="554.3" r="0.8"/><circle cx="267.2" cy="526.0" r="0.8"/><circle cx="263.7" cy="528.1" r="0.8"/><circle cx="305.7" cy="530.4" r="0.8"/><circle cx="335.9" cy="543.5" r="0.8"/><circle cx="366.0" cy="553.0" r="0.8"/><circle cx="312.0" cy="537.6" r="0.8"/><circle cx="320.9" cy="542.0" r="0.8"/><circle cx="301.2" cy="533.9" r="0.8"/><circle cx="257.7" cy="544.8" r="0.8"/><circle cx="311.4" cy="538.6" r="0.8"/><circle cx="349.4" cy="548.3" r="0.8"/><circle cx="304.2" cy="555.3" r="0.8"/><circle cx="298.6" cy="531.2" r="0.8"/><circle cx="346.1" cy="555.3" r="0.8"/><circle cx="268.2" cy="524.6" r="0.8"/><circle cx="354.5" cy="546.3" r="0.8"/><circle cx="283.7" cy="524.6" r="0.8"/><circle cx="263.4" cy="526.3" r="0.8"/><circle cx="299.0" cy="555.2" r="0.8"/><circle cx="363.0" cy="537.9" r="0.8"/><circle cx="273.0" cy="525.1" r="0.8"/><circle cx="289.8" cy="555.7" r="0.8"/><circle cx="258.4" cy="543.3" r="0.8"/><circle cx="279.5" cy="528.1" r="0.8"/><circle cx="283.4" cy="528.2" r="0.8"/><circle cx="257.8" cy="531.5" r="0.8"/><circle cx="319.4" cy="554.5" r="0.8"/><circle cx="338.7" cy="554.7" r="0.8"/><circle cx="333.3" cy="542.3" r="0.8"/><circle cx="299.3" cy="532.2" r="0.8"/><circle cx="318.0" cy="538.1" r="0.8"/><circle cx="277.7" cy="517.9" r="0.8"/><circle cx="289.5" cy="524.5" r="0.8"/><circle cx="293.8" cy="518.7" r="0.8"/><circle cx="310.1" cy="536.3" r="0.8"/><circle cx="270.7" cy="526.7" r="0.8"/><circle cx="363.5" cy="549.2" r="0.8"/><circle cx="259.5" cy="526.2" r="0.8"/><circle cx="257.7" cy="532.2" r="0.8"/><circle cx="323.5" cy="554.3" r="0.8"/><circle cx="338.7" cy="543.7" r="0.8"/><circle cx="332.1" cy="542.3" r="0.8"/><circle cx="290.1" cy="529.3" r="0.8"/><circle cx="337.6" cy="545.3" r="0.8"/><circle cx="263.0" cy="527.3" r="0.8"/><circle cx="286.9" cy="555.3" r="0.8"/><circle cx="353.9" cy="548.1" r="0.8"/><circle cx="313.4" cy="521.5" r="0.8"/><circle cx="305.0" cy="531.7" r="0.8"/><circle cx="270.2" cy="525.4" r="0.8"/><circle cx="271.6" cy="526.9" r="0.8"/><circle cx="341.2" cy="546.6" r="0.8"/><circle cx="301.2" cy="554.8" r="0.8"/><circle cx="362.4" cy="552.5" r="0.8"/><circle cx="349.9" cy="546.7" r="0.8"/><circle cx="352.3" cy="546.8" r="0.8"/><circle cx="281.2" cy="555.2" r="0.8"/><circle cx="350.0" cy="544.8" r="0.8"/><circle cx="354.4" cy="549.4" r="0.8"/><circle cx="357.3" cy="544.1" r="0.8"/><circle cx="337.1" cy="555.2" r="0.8"/><circle cx="290.0" cy="528.1" r="0.8"/><circle cx="339.9" cy="546.3" r="0.8"/><circle cx="355.9" cy="547.3" r="0.8"/><circle cx="270.0" cy="517.9" r="0.8"/><circle cx="273.7" cy="554.7" r="0.8"/><circle cx="316.2" cy="554.6" r="0.8"/><circle cx="287.2" cy="529.1" r="0.8"/><circle cx="362.5" cy="545.3" r="0.8"/><circle cx="356.1" cy="555.1" r="0.8"/><circle cx="292.5" cy="554.6" r="0.8"/><circle cx="281.3" cy="555.5" r="0.8"/><circle cx="335.9" cy="544.1" r="0.8"/><circle cx="288.2" cy="525.3" r="0.8"/><circle cx="331.2" cy="541.9" r="0.8"/><circle cx="332.3" cy="543.0" r="0.8"/><circle cx="337.6" cy="544.2" r="0.8"/><circle cx="258.3" cy="547.5" r="0.8"/><circle cx="270.6" cy="526.6" r="0.8"/><circle cx="319.0" cy="554.5" r="0.8"/><circle cx="257.7" cy="551.0" r="0.8"/><circle cx="279.1" cy="516.6" r="0.8"/><circle cx="356.4" cy="546.8" r="0.8"/><circle cx="319.6" cy="538.3" r="0.8"/><circle cx="338.6" cy="546.5" r="0.8"/><circle cx="344.9" cy="540.9" r="0.8"/><circle cx="332.5" cy="541.3" r="0.8"/><circle cx="319.9" cy="539.2" r="0.8"/><circle cx="344.0" cy="544.0" r="0.8"/><circle cx="300.6" cy="555.6" r="0.8"/><circle cx="356.5" cy="554.6" r="0.8"/><circle cx="295.2" cy="523.7" r="0.8"/><circle cx="328.6" cy="538.3" r="0.8"/><circle cx="320.5" cy="538.3" r="0.8"/><circle cx="367.6" cy="550.1" r="0.8"/><circle cx="354.1" cy="547.8" r="0.8"/><circle cx="279.6" cy="555.8" r="0.8"/><circle cx="307.9" cy="535.6" r="0.8"/><circle cx="284.4" cy="554.9" r="0.8"/><circle cx="356.4" cy="548.3" r="0.8"/><circle cx="307.8" cy="554.3" r="0.8"/><circle cx="335.6" cy="544.3" r="0.8"/><circle cx="282.7" cy="525.4" r="0.8"/><circle cx="361.1" cy="549.9" r="0.8"/><circle cx="304.4" cy="532.5" r="0.8"/><circle cx="321.7" cy="541.5" r="0.8"/><circle cx="267.4" cy="525.3" r="0.8"/><circle cx="319.8" cy="555.0" r="0.8"/><circle cx="324.7" cy="543.1" r="0.8"/><circle cx="352.0" cy="548.6" r="0.8"/><circle cx="320.4" cy="527.7" r="0.8"/><circle cx="303.6" cy="534.7" r="0.8"/><circle cx="293.3" cy="531.4" r="0.8"/><circle cx="336.3" cy="555.1" r="0.8"/><circle cx="318.2" cy="554.8" r="0.8"/><circle cx="258.6" cy="555.1" r="0.8"/><circle cx="334.6" cy="555.8" r="0.8"/><circle cx="275.0" cy="524.4" r="0.8"/><circle cx="286.3" cy="528.0" r="0.8"/><circle cx="266.5" cy="526.8" r="0.8"/><circle cx="278.5" cy="555.6" r="0.8"/><circle cx="351.7" cy="542.7" r="0.8"/><circle cx="332.0" cy="543.5" r="0.8"/><circle cx="339.6" cy="542.3" r="0.8"/><circle cx="258.5" cy="531.9" r="0.8"/><circle cx="365.3" cy="537.8" r="0.8"/><circle cx="302.7" cy="554.9" r="0.8"/><circle cx="306.6" cy="536.0" r="0.8"/><circle cx="274.3" cy="524.3" r="0.8"/><circle cx="325.6" cy="543.1" r="0.8"/><circle cx="305.3" cy="526.7" r="0.8"/><circle cx="274.8" cy="525.7" r="0.8"/><circle cx="347.0" cy="554.3" r="0.8"/><circle cx="328.3" cy="544.3" r="0.8"/><circle cx="320.8" cy="537.4" r="0.8"/><circle cx="348.4" cy="554.6" r="0.8"/><circle cx="258.0" cy="529.9" r="0.8"/><circle cx="304.7" cy="533.2" r="0.8"/><circle cx="298.7" cy="527.8" r="0.8"/><circle cx="285.7" cy="526.4" r="0.8"/><circle cx="281.6" cy="555.6" r="0.8"/><circle cx="310.9" cy="532.8" r="0.8"/><circle cx="286.0" cy="555.0" r="0.8"/><circle cx="291.5" cy="527.6" r="0.8"/><circle cx="362.6" cy="553.7" r="0.8"/><circle cx="359.2" cy="551.0" r="0.8"/><circle cx="349.8" cy="546.7" r="0.8"/><circle cx="295.7" cy="531.8" r="0.8"/><circle cx="265.5" cy="525.2" r="0.8"/><circle cx="356.5" cy="554.7" r="0.8"/><circle cx="326.7" cy="534.2" r="0.8"/><circle cx="305.5" cy="534.8" r="0.8"/><circle cx="261.4" cy="527.3" r="0.8"/><circle cx="335.0" cy="554.4" r="0.8"/><circle cx="339.0" cy="544.9" r="0.8"/><circle cx="304.0" cy="532.1" r="0.8"/><circle cx="316.0" cy="537.0" r="0.8"/><circle cx="345.9" cy="546.0" r="0.8"/><circle cx="346.5" cy="546.9" r="0.8"/><circle cx="339.4" cy="554.8" r="0.8"/><circle cx="334.4" cy="539.6" r="0.8"/><circle cx="308.1" cy="535.8" r="0.8"/><circle cx="350.1" cy="547.5" r="0.8"/><circle cx="316.8" cy="541.0" r="0.8"/><circle cx="287.2" cy="554.6" r="0.8"/><circle cx="324.9" cy="539.7" r="0.8"/><circle cx="287.5" cy="526.1" r="0.8"/><circle cx="311.6" cy="536.6" r="0.8"/><circle cx="305.3" cy="555.0" r="0.8"/><circle cx="291.6" cy="555.4" r="0.8"/><circle cx="268.4" cy="525.7" r="0.8"/><circle cx="302.5" cy="554.3" r="0.8"/><circle cx="343.3" cy="546.4" r="0.8"/><circle cx="299.8" cy="531.1" r="0.8"/><circle cx="293.1" cy="528.9" r="0.8"/><circle cx="314.9" cy="554.5" r="0.8"/><circle cx="268.9" cy="528.0" r="0.8"/><circle cx="272.7" cy="518.9" r="0.8"/><circle cx="286.9" cy="529.1" r="0.8"/><circle cx="342.1" cy="555.8" r="0.8"/><circle cx="328.7" cy="544.3" r="0.8"/><circle cx="320.9" cy="541.6" r="0.8"/><circle cx="271.1" cy="527.0" r="0.8"/><circle cx="324.1" cy="540.3" r="0.8"/><circle cx="340.7" cy="545.4" r="0.8"/><circle cx="315.6" cy="554.9" r="0.8"/><circle cx="316.1" cy="555.8" r="0.8"/><circle cx="274.7" cy="524.8" r="0.8"/><circle cx="258.6" cy="532.3" r="0.8"/><circle cx="341.0" cy="545.5" r="0.8"/><circle cx="273.8" cy="525.1" r="0.8"/><circle cx="315.3" cy="538.5" r="0.8"/><circle cx="309.9" cy="534.6" r="0.8"/><circle cx="272.6" cy="524.3" r="0.8"/><circle cx="317.1" cy="537.7" r="0.8"/><circle cx="307.6" cy="554.4" r="0.8"/><circle cx="288.7" cy="554.6" r="0.8"/><circle cx="266.5" cy="526.4" r="0.8"/><circle cx="309.2" cy="534.3" r="0.8"/><circle cx="258.0" cy="527.6" r="0.8"/><circle cx="328.1" cy="541.1" r="0.8"/><circle cx="261.1" cy="520.2" r="0.8"/><circle cx="342.8" cy="554.9" r="0.8"/><circle cx="282.6" cy="521.9" r="0.8"/><circle cx="265.3" cy="554.5" r="0.8"/><circle cx="279.5" cy="555.6" r="0.8"/><circle cx="347.5" cy="546.4" r="0.8"/><circle cx="309.3" cy="555.7" r="0.8"/><circle cx="352.4" cy="546.8" r="0.8"/><circle cx="318.1" cy="554.9" r="0.8"/><circle cx="259.0" cy="526.6" r="0.8"/><circle cx="259.7" cy="528.5" r="0.8"/><circle cx="294.0" cy="554.4" r="0.8"/><circle cx="316.4" cy="535.6" r="0.8"/><circle cx="314.3" cy="539.7" r="0.8"/><circle cx="258.0" cy="531.1" r="0.8"/><circle cx="284.0" cy="527.6" r="0.8"/><circle cx="297.8" cy="530.7" r="0.8"/><circle cx="260.5" cy="527.5" r="0.8"/><circle cx="260.6" cy="525.0" r="0.8"/><circle cx="320.5" cy="540.7" r="0.8"/><circle cx="351.7" cy="545.4" r="0.8"/><circle cx="318.0" cy="539.4" r="0.8"/><circle cx="325.7" cy="555.7" r="0.8"/><circle cx="317.1" cy="540.5" r="0.8"/><circle cx="328.0" cy="544.6" r="0.8"/><circle cx="363.6" cy="548.0" r="0.8"/><circle cx="298.8" cy="554.9" r="0.8"/><circle cx="266.6" cy="554.5" r="0.8"/><circle cx="355.5" cy="542.1" r="0.8"/><circle cx="330.7" cy="544.2" r="0.8"/><circle cx="261.6" cy="527.8" r="0.8"/><circle cx="349.3" cy="538.1" r="0.8"/><circle cx="338.5" cy="545.3" r="0.8"/><circle cx="359.2" cy="551.4" r="0.8"/><circle cx="308.5" cy="530.8" r="0.8"/><circle cx="366.9" cy="553.4" r="0.8"/><circle cx="289.5" cy="555.4" r="0.8"/><circle cx="363.2" cy="544.5" r="0.8"/><circle cx="311.7" cy="555.0" r="0.8"/><circle cx="326.1" cy="542.8" r="0.8"/><circle cx="257.7" cy="540.8" r="0.8"/><circle cx="262.0" cy="526.6" r="0.8"/><circle cx="286.1" cy="528.1" r="0.8"/><circle cx="351.9" cy="545.3" r="0.8"/><circle cx="345.3" cy="543.2" r="0.8"/><circle cx="261.3" cy="523.8" r="0.8"/><circle cx="309.2" cy="555.5" r="0.8"/><circle cx="300.3" cy="554.2" r="0.8"/><circle cx="257.4" cy="534.9" r="0.8"/><circle cx="267.0" cy="526.2" r="0.8"/><circle cx="345.1" cy="542.9" r="0.8"/><circle cx="319.3" cy="540.4" r="0.8"/><circle cx="297.2" cy="555.6" r="0.8"/><circle cx="339.9" cy="544.8" r="0.8"/><circle cx="330.8" cy="543.8" r="0.8"/><circle cx="289.1" cy="525.1" r="0.8"/><circle cx="296.9" cy="530.7" r="0.8"/><circle cx="290.8" cy="522.6" r="0.8"/><circle cx="344.9" cy="545.5" r="0.8"/><circle cx="353.6" cy="542.9" r="0.8"/><circle cx="339.4" cy="543.0" r="0.8"/><circle cx="351.6" cy="555.4" r="0.8"/><circle cx="277.3" cy="554.6" r="0.8"/><circle cx="310.5" cy="529.6" r="0.8"/><circle cx="263.4" cy="527.2" r="0.8"/><circle cx="292.7" cy="524.0" r="0.8"/><circle cx="258.7" cy="540.5" r="0.8"/><circle cx="276.6" cy="523.4" r="0.8"/><circle cx="279.4" cy="555.6" r="0.8"/><circle cx="298.3" cy="533.2" r="0.8"/><circle cx="347.5" cy="547.9" r="0.8"/><circle cx="257.8" cy="542.7" r="0.8"/><circle cx="263.6" cy="555.3" r="0.8"/><circle cx="298.1" cy="528.1" r="0.8"/><circle cx="369.4" cy="555.8" r="0.8"/><circle cx="295.8" cy="527.9" r="0.8"/><circle cx="332.2" cy="535.9" r="0.8"/><circle cx="345.2" cy="544.3" r="0.8"/><circle cx="314.0" cy="538.2" r="0.8"/><circle cx="363.9" cy="553.6" r="0.8"/><circle cx="368.1" cy="545.4" r="0.8"/><circle cx="282.1" cy="528.4" r="0.8"/><circle cx="336.3" cy="536.4" r="0.8"/><circle cx="287.8" cy="555.2" r="0.8"/><circle cx="278.4" cy="525.5" r="0.8"/><circle cx="257.9" cy="525.3" r="0.8"/><circle cx="270.2" cy="526.6" r="0.8"/><circle cx="327.4" cy="542.3" r="0.8"/><circle cx="314.5" cy="540.0" r="0.8"/><circle cx="318.6" cy="535.7" r="0.8"/><circle cx="363.1" cy="547.8" r="0.8"/><circle cx="274.9" cy="525.0" r="0.8"/><circle cx="317.7" cy="555.2" r="0.8"/><circle cx="273.2" cy="523.6" r="0.8"/><circle cx="276.8" cy="526.0" r="0.8"/><circle cx="309.0" cy="535.5" r="0.8"/><circle cx="314.1" cy="538.3" r="0.8"/><circle cx="363.9" cy="555.0" r="0.8"/><circle cx="351.2" cy="555.6" r="0.8"/><circle cx="350.0" cy="545.8" r="0.8"/><circle cx="337.6" cy="554.5" r="0.8"/><circle cx="341.4" cy="546.5" r="0.8"/><circle cx="349.1" cy="548.5" r="0.8"/><circle cx="331.3" cy="535.3" r="0.8"/><circle cx="273.3" cy="555.2" r="0.8"/><circle cx="294.3" cy="531.1" r="0.8"/><circle cx="309.0" cy="534.9" r="0.8"/><circle cx="299.4" cy="533.5" r="0.8"/><circle cx="277.5" cy="554.9" r="0.8"/><circle cx="282.3" cy="555.7" r="0.8"/><circle cx="284.0" cy="555.1" r="0.8"/><circle cx="305.4" cy="535.6" r="0.8"/><circle cx="286.6" cy="555.4" r="0.8"/><circle cx="269.4" cy="525.1" r="0.8"/><circle cx="269.1" cy="525.6" r="0.8"/><circle cx="257.5" cy="546.4" r="0.8"/><circle cx="279.0" cy="526.3" r="0.8"/><circle cx="290.1" cy="529.7" r="0.8"/><circle cx="295.4" cy="526.5" r="0.8"/><circle cx="311.3" cy="555.2" r="0.8"/><circle cx="349.1" cy="544.1" r="0.8"/><circle cx="262.8" cy="523.9" r="0.8"/><circle cx="337.7" cy="543.6" r="0.8"/><circle cx="258.4" cy="553.2" r="0.8"/><circle cx="277.6" cy="555.2" r="0.8"/><circle cx="363.8" cy="550.5" r="0.8"/><circle cx="272.8" cy="524.8" r="0.8"/><circle cx="316.8" cy="555.2" r="0.8"/><circle cx="361.8" cy="553.4" r="0.8"/><circle cx="361.2" cy="549.0" r="0.8"/><circle cx="329.5" cy="543.9" r="0.8"/><circle cx="337.9" cy="540.2" r="0.8"/><circle cx="285.8" cy="529.6" r="0.8"/><circle cx="363.0" cy="550.8" r="0.8"/><circle cx="260.5" cy="520.8" r="0.8"/><circle cx="335.3" cy="555.2" r="0.8"/><circle cx="279.1" cy="554.7" r="0.8"/><circle cx="364.1" cy="553.6" r="0.8"/><circle cx="351.8" cy="554.6" r="0.8"/><circle cx="357.9" cy="555.5" r="0.8"/><circle cx="297.7" cy="529.5" r="0.8"/><circle cx="360.7" cy="544.8" r="0.8"/><circle cx="260.4" cy="525.0" r="0.8"/><circle cx="332.6" cy="543.5" r="0.8"/><circle cx="259.2" cy="522.5" r="0.8"/><circle cx="257.8" cy="531.5" r="0.8"/><circle cx="301.5" cy="532.4" r="0.8"/><circle cx="360.9" cy="550.6" r="0.8"/><circle cx="327.9" cy="537.7" r="0.8"/><circle cx="353.2" cy="548.5" r="0.8"/><circle cx="337.7" cy="539.1" r="0.8"/><circle cx="343.6" cy="544.1" r="0.8"/><circle cx="296.3" cy="554.4" r="0.8"/><circle cx="326.7" cy="540.4" r="0.8"/><circle cx="272.8" cy="525.4" r="0.8"/><circle cx="278.2" cy="525.0" r="0.8"/><circle cx="296.6" cy="532.2" r="0.8"/><circle cx="281.8" cy="528.2" r="0.8"/><circle cx="344.2" cy="555.5" r="0.8"/><circle cx="319.4" cy="537.0" r="0.8"/><circle cx="288.9" cy="528.0" r="0.8"/><circle cx="268.6" cy="555.1" r="0.8"/><circle cx="282.6" cy="526.5" r="0.8"/><circle cx="337.0" cy="545.8" r="0.8"/><circle cx="306.6" cy="554.3" r="0.8"/><circle cx="336.7" cy="543.4" r="0.8"/><circle cx="271.5" cy="525.4" r="0.8"/><circle cx="257.3" cy="542.7" r="0.8"/><circle cx="322.3" cy="535.0" r="0.8"/><circle cx="269.2" cy="554.8" r="0.8"/><circle cx="365.0" cy="554.4" r="0.8"/><circle cx="328.1" cy="554.5" r="0.8"/><circle cx="377.1" cy="555.3" r="0.8"/><circle cx="257.7" cy="548.5" r="0.8"/><circle cx="305.0" cy="529.9" r="0.8"/><circle cx="351.5" cy="548.8" r="0.8"/><circle cx="371.6" cy="553.1" r="0.8"/><circle cx="262.1" cy="523.7" r="0.8"/><circle cx="316.6" cy="541.1" r="0.8"/><circle cx="284.7" cy="527.6" r="0.8"/><circle cx="270.9" cy="554.6" r="0.8"/><circle cx="263.7" cy="524.1" r="0.8"/><circle cx="272.2" cy="526.0" r="0.8"/><circle cx="309.6" cy="537.4" r="0.8"/><circle cx="301.3" cy="531.2" r="0.8"/><circle cx="289.1" cy="530.3" r="0.8"/><circle cx="363.7" cy="544.2" r="0.8"/><circle cx="352.4" cy="542.3" r="0.8"/><circle cx="338.1" cy="554.4" r="0.8"/><circle cx="326.1" cy="538.9" r="0.8"/><circle cx="334.4" cy="540.6" r="0.8"/><circle cx="328.0" cy="540.2" r="0.8"/><circle cx="311.4" cy="531.0" r="0.8"/><circle cx="359.5" cy="555.4" r="0.8"/><circle cx="307.4" cy="532.8" r="0.8"/><circle cx="318.4" cy="554.3" r="0.8"/><circle cx="298.7" cy="531.1" r="0.8"/><circle cx="346.4" cy="554.3" r="0.8"/><circle cx="363.2" cy="554.9" r="0.8"/><circle cx="289.2" cy="524.9" r="0.8"/><circle cx="333.8" cy="555.7" r="0.8"/><circle cx="308.1" cy="530.6" r="0.8"/><circle cx="293.6" cy="531.0" r="0.8"/><circle cx="267.9" cy="523.8" r="0.8"/><circle cx="259.2" cy="555.3" r="0.8"/><circle cx="279.6" cy="528.3" r="0.8"/><circle cx="258.6" cy="534.3" r="0.8"/><circle cx="258.4" cy="550.0" r="0.8"/><circle cx="258.5" cy="554.6" r="0.8"/><circle cx="257.7" cy="553.1" r="0.8"/><circle cx="269.1" cy="526.0" r="0.8"/><circle cx="365.6" cy="553.1" r="0.8"/><circle cx="298.5" cy="531.0" r="0.8"/><circle cx="257.6" cy="543.2" r="0.8"/><circle cx="295.1" cy="530.4" r="0.8"/><circle cx="296.8" cy="555.2" r="0.8"/><circle cx="275.4" cy="521.3" r="0.8"/><circle cx="325.8" cy="532.8" r="0.8"/><circle cx="284.3" cy="554.8" r="0.8"/><circle cx="312.2" cy="554.6" r="0.8"/><circle cx="315.4" cy="538.9" r="0.8"/><circle cx="272.9" cy="525.4" r="0.8"/><circle cx="258.5" cy="553.2" r="0.8"/><circle cx="321.1" cy="555.2" r="0.8"/><circle cx="269.7" cy="525.7" r="0.8"/><circle cx="353.1" cy="554.9" r="0.8"/><circle cx="359.3" cy="555.0" r="0.8"/><circle cx="263.9" cy="554.4" r="0.8"/><circle cx="279.2" cy="527.4" r="0.8"/><circle cx="257.3" cy="530.7" r="0.8"/><circle cx="282.4" cy="554.5" r="0.8"/><circle cx="293.1" cy="554.5" r="0.8"/><circle cx="364.0" cy="551.0" r="0.8"/><circle cx="277.8" cy="555.1" r="0.8"/><circle cx="349.9" cy="546.8" r="0.8"/><circle cx="309.2" cy="534.4" r="0.8"/><circle cx="361.3" cy="554.9" r="0.8"/><circle cx="300.6" cy="555.1" r="0.8"/><circle cx="279.3" cy="554.3" r="0.8"/><circle cx="317.6" cy="540.4" r="0.8"/><circle cx="321.6" cy="539.6" r="0.8"/><circle cx="272.1" cy="526.4" r="0.8"/><circle cx="363.5" cy="542.2" r="0.8"/><circle cx="258.5" cy="551.8" r="0.8"/><circle cx="300.5" cy="531.9" r="0.8"/><circle cx="259.4" cy="527.8" r="0.8"/><circle cx="323.5" cy="538.0" r="0.8"/><circle cx="318.1" cy="554.4" r="0.8"/><circle cx="274.7" cy="554.9" r="0.8"/><circle cx="324.0" cy="538.9" r="0.8"/><circle cx="349.6" cy="545.2" r="0.8"/><circle cx="258.1" cy="540.2" r="0.8"/><circle cx="328.8" cy="555.6" r="0.8"/><circle cx="306.5" cy="532.2" r="0.8"/><circle cx="262.3" cy="555.2" r="0.8"/><circle cx="337.4" cy="546.1" r="0.8"/><circle cx="308.1" cy="532.8" r="0.8"/><circle cx="327.7" cy="542.2" r="0.8"/><circle cx="287.6" cy="527.6" r="0.8"/><circle cx="257.9" cy="536.7" r="0.8"/><circle cx="303.6" cy="533.6" r="0.8"/><circle cx="286.0" cy="555.2" r="0.8"/><circle cx="303.9" cy="535.2" r="0.8"/><circle cx="320.1" cy="540.1" r="0.8"/><circle cx="286.7" cy="527.1" r="0.8"/><circle cx="285.2" cy="516.9" r="0.8"/><circle cx="275.2" cy="523.8" r="0.8"/><circle cx="281.0" cy="554.6" r="0.8"/><circle cx="260.8" cy="555.2" r="0.8"/><circle cx="258.7" cy="537.5" r="0.8"/><circle cx="267.2" cy="527.3" r="0.8"/><circle cx="309.1" cy="534.2" r="0.8"/><circle cx="269.6" cy="526.7" r="0.8"/><circle cx="365.7" cy="548.9" r="0.8"/><circle cx="320.1" cy="555.5" r="0.8"/><circle cx="260.7" cy="528.4" r="0.8"/><circle cx="275.8" cy="518.7" r="0.8"/><circle cx="350.6" cy="554.3" r="0.8"/><circle cx="318.2" cy="541.2" r="0.8"/><circle cx="293.3" cy="526.0" r="0.8"/><circle cx="364.5" cy="553.2" r="0.8"/><circle cx="351.8" cy="554.6" r="0.8"/><circle cx="299.3" cy="533.8" r="0.8"/><circle cx="344.5" cy="547.7" r="0.8"/><circle cx="368.2" cy="548.9" r="0.8"/><circle cx="313.1" cy="554.5" r="0.8"/><circle cx="306.4" cy="532.7" r="0.8"/><circle cx="267.1" cy="554.9" r="0.8"/><circle cx="298.4" cy="523.2" r="0.8"/><circle cx="334.6" cy="542.2" r="0.8"/><circle cx="344.4" cy="555.6" r="0.8"/><circle cx="260.8" cy="527.7" r="0.8"/><circle cx="365.5" cy="550.2" r="0.8"/><circle cx="274.1" cy="555.1" r="0.8"/><circle cx="276.4" cy="525.5" r="0.8"/><circle cx="356.1" cy="555.2" r="0.8"/><circle cx="341.6" cy="546.3" r="0.8"/><circle cx="347.7" cy="548.4" r="0.8"/><circle cx="331.6" cy="555.0" r="0.8"/><circle cx="354.2" cy="542.0" r="0.8"/><circle cx="275.0" cy="522.8" r="0.8"/><circle cx="259.4" cy="554.8" r="0.8"/><circle cx="363.6" cy="552.1" r="0.8"/><circle cx="326.7" cy="555.4" r="0.8"/><circle cx="326.1" cy="555.2" r="0.8"/><circle cx="269.8" cy="527.4" r="0.8"/><circle cx="294.4" cy="555.4" r="0.8"/><circle cx="318.1" cy="534.8" r="0.8"/><circle cx="258.5" cy="532.7" r="0.8"/><circle cx="310.7" cy="536.0" r="0.8"/><circle cx="323.5" cy="541.8" r="0.8"/><circle cx="314.3" cy="554.6" r="0.8"/><circle cx="257.6" cy="536.1" r="0.8"/><circle cx="285.8" cy="554.9" r="0.8"/><circle cx="257.7" cy="552.1" r="0.8"/><circle cx="288.8" cy="529.5" r="0.8"/><circle cx="363.2" cy="553.1" r="0.8"/><circle cx="303.9" cy="535.2" r="0.8"/><circle cx="271.7" cy="555.1" r="0.8"/><circle cx="326.7" cy="539.9" r="0.8"/><circle cx="293.3" cy="528.1" r="0.8"/><circle cx="267.5" cy="525.3" r="0.8"/><circle cx="298.6" cy="531.0" r="0.8"/><circle cx="271.4" cy="527.3" r="0.8"/><circle cx="327.2" cy="544.3" r="0.8"/><circle cx="304.7" cy="530.6" r="0.8"/><circle cx="354.4" cy="555.3" r="0.8"/><circle cx="257.4" cy="538.3" r="0.8"/><circle cx="310.8" cy="534.5" r="0.8"/><circle cx="258.1" cy="533.0" r="0.8"/><circle cx="268.2" cy="525.0" r="0.8"/><circle cx="316.4" cy="538.5" r="0.8"/><circle cx="334.8" cy="540.1" r="0.8"/><circle cx="349.3" cy="548.7" r="0.8"/><circle cx="350.0" cy="546.7" r="0.8"/><circle cx="282.9" cy="529.4" r="0.8"/><circle cx="261.2" cy="555.6" r="0.8"/><circle cx="351.1" cy="531.1" r="0.8"/><circle cx="289.5" cy="530.5" r="0.8"/><circle cx="340.3" cy="545.9" r="0.8"/><circle cx="363.1" cy="549.1" r="0.8"/><circle cx="261.3" cy="554.9" r="0.8"/><circle cx="340.8" cy="554.8" r="0.8"/><circle cx="279.5" cy="521.5" r="0.8"/><circle cx="269.0" cy="523.0" r="0.8"/><circle cx="318.0" cy="538.7" r="0.8"/><circle cx="276.5" cy="526.3" r="0.8"/><circle cx="258.5" cy="554.2" r="0.8"/><circle cx="332.3" cy="542.0" r="0.8"/><circle cx="318.0" cy="539.1" r="0.8"/><circle cx="326.3" cy="541.5" r="0.8"/><circle cx="367.0" cy="541.6" r="0.8"/><circle cx="263.2" cy="524.1" r="0.8"/><circle cx="367.9" cy="549.4" r="0.8"/><circle cx="289.4" cy="527.0" r="0.8"/><circle cx="338.4" cy="539.8" r="0.8"/><circle cx="263.7" cy="521.6" r="0.8"/><circle cx="287.5" cy="526.8" r="0.8"/><circle cx="302.5" cy="531.9" r="0.8"/><circle cx="296.2" cy="529.5" r="0.8"/><circle cx="279.0" cy="525.5" r="0.8"/><circle cx="338.8" cy="543.5" r="0.8"/><circle cx="316.3" cy="555.4" r="0.8"/><circle cx="266.2" cy="555.8" r="0.8"/><circle cx="306.8" cy="531.4" r="0.8"/><circle cx="303.4" cy="526.9" r="0.8"/><circle cx="276.5" cy="555.6" r="0.8"/><circle cx="281.5" cy="528.6" r="0.8"/><circle cx="328.0" cy="544.6" r="0.8"/><circle cx="310.5" cy="555.5" r="0.8"/><circle cx="309.8" cy="536.7" r="0.8"/><circle cx="361.0" cy="544.4" r="0.8"/><circle cx="303.9" cy="530.1" r="0.8"/><circle cx="278.0" cy="524.3" r="0.8"/><circle cx="314.5" cy="538.4" r="0.8"/><circle cx="353.2" cy="548.7" r="0.8"/><circle cx="354.5" cy="549.3" r="0.8"/><circle cx="316.0" cy="555.5" r="0.8"/><circle cx="312.1" cy="534.7" r="0.8"/><circle cx="311.9" cy="554.6" r="0.8"/><circle cx="306.9" cy="533.5" r="0.8"/><circle cx="261.5" cy="526.0" r="0.8"/><circle cx="276.4" cy="522.0" r="0.8"/><circle cx="346.5" cy="546.2" r="0.8"/><circle cx="320.7" cy="542.2" r="0.8"/><circle cx="320.6" cy="555.1" r="0.8"/><circle cx="306.3" cy="534.9" r="0.8"/><circle cx="285.3" cy="529.7" r="0.8"/><circle cx="310.2" cy="532.3" r="0.8"/><circle cx="317.6" cy="541.1" r="0.8"/><circle cx="313.2" cy="534.8" r="0.8"/><circle cx="356.0" cy="544.7" r="0.8"/><circle cx="277.1" cy="524.9" r="0.8"/><circle cx="327.4" cy="542.4" r="0.8"/><circle cx="260.7" cy="554.5" r="0.8"/><circle cx="328.8" cy="554.6" r="0.8"/><circle cx="262.1" cy="520.7" r="0.8"/><circle cx="349.1" cy="555.2" r="0.8"/><circle cx="306.5" cy="527.6" r="0.8"/><circle cx="324.8" cy="539.1" r="0.8"/><circle cx="300.5" cy="534.0" r="0.8"/><circle cx="363.1" cy="554.4" r="0.8"/><circle cx="282.1" cy="528.1" r="0.8"/><circle cx="365.7" cy="550.7" r="0.8"/><circle cx="324.9" cy="542.7" r="0.8"/><circle cx="314.7" cy="537.5" r="0.8"/><circle cx="329.4" cy="544.6" r="0.8"/><circle cx="339.1" cy="554.3" r="0.8"/><circle cx="308.8" cy="535.6" r="0.8"/><circle cx="362.8" cy="555.0" r="0.8"/><circle cx="293.1" cy="530.3" r="0.8"/><circle cx="339.8" cy="554.7" r="0.8"/><circle cx="371.2" cy="552.0" r="0.8"/><circle cx="357.0" cy="545.0" r="0.8"/><circle cx="257.7" cy="542.4" r="0.8"/><circle cx="313.0" cy="536.4" r="0.8"/><circle cx="258.7" cy="537.7" r="0.8"/><circle cx="365.1" cy="553.6" r="0.8"/><circle cx="341.5" cy="545.4" r="0.8"/><circle cx="288.4" cy="526.8" r="0.8"/><circle cx="314.9" cy="554.5" r="0.8"/><circle cx="320.7" cy="535.2" r="0.8"/><circle cx="276.4" cy="555.0" r="0.8"/><circle cx="356.6" cy="545.5" r="0.8"/><circle cx="358.0" cy="546.1" r="0.8"/><circle cx="358.4" cy="550.5" r="0.8"/><circle cx="364.6" cy="554.4" r="0.8"/><circle cx="326.4" cy="542.9" r="0.8"/><circle cx="280.5" cy="524.6" r="0.8"/><circle cx="355.6" cy="547.8" r="0.8"/><circle cx="304.5" cy="554.8" r="0.8"/><circle cx="263.1" cy="524.6" r="0.8"/><circle cx="312.8" cy="538.5" r="0.8"/><circle cx="347.7" cy="538.6" r="0.8"/><circle cx="307.8" cy="532.8" r="0.8"/><circle cx="295.7" cy="531.6" r="0.8"/><circle cx="258.4" cy="545.8" r="0.8"/><circle cx="286.6" cy="529.6" r="0.8"/><circle cx="290.4" cy="555.0" r="0.8"/><circle cx="323.4" cy="554.3" r="0.8"/><circle cx="332.3" cy="544.6" r="0.8"/><circle cx="313.0" cy="554.9" r="0.8"/><circle cx="358.8" cy="547.8" r="0.8"/><circle cx="258.6" cy="542.8" r="0.8"/><circle cx="356.8" cy="555.7" r="0.8"/><circle cx="349.6" cy="555.0" r="0.8"/><circle cx="301.1" cy="532.8" r="0.8"/><circle cx="258.1" cy="547.2" r="0.8"/><circle cx="289.9" cy="530.5" r="0.8"/><circle cx="365.4" cy="555.2" r="0.8"/><circle cx="303.3" cy="531.7" r="0.8"/><circle cx="310.0" cy="536.6" r="0.8"/><circle cx="319.9" cy="554.3" r="0.8"/><circle cx="257.2" cy="539.7" r="0.8"/><circle cx="358.6" cy="548.3" r="0.8"/><circle cx="311.4" cy="538.3" r="0.8"/><circle cx="307.2" cy="533.3" r="0.8"/><circle cx="366.7" cy="551.1" r="0.8"/><circle cx="258.4" cy="536.7" r="0.8"/><circle cx="364.9" cy="554.5" r="0.8"/><circle cx="334.1" cy="544.6" r="0.8"/><circle cx="363.2" cy="548.9" r="0.8"/><circle cx="323.3" cy="543.4" r="0.8"/><circle cx="344.6" cy="542.9" r="0.8"/><circle cx="317.2" cy="540.5" r="0.8"/><circle cx="273.2" cy="520.3" r="0.8"/><circle cx="266.6" cy="554.2" r="0.8"/><circle cx="299.4" cy="531.7" r="0.8"/><circle cx="302.2" cy="531.9" r="0.8"/><circle cx="270.7" cy="522.1" r="0.8"/><circle cx="331.6" cy="542.0" r="0.8"/><circle cx="289.4" cy="527.1" r="0.8"/><circle cx="302.3" cy="532.7" r="0.8"/><circle cx="257.9" cy="540.8" r="0.8"/><circle cx="352.1" cy="544.4" r="0.8"/><circle cx="363.3" cy="553.2" r="0.8"/><circle cx="276.5" cy="525.0" r="0.8"/><circle cx="326.5" cy="554.2" r="0.8"/><circle cx="307.4" cy="535.4" r="0.8"/><circle cx="285.9" cy="521.8" r="0.8"/><circle cx="309.9" cy="536.6" r="0.8"/><circle cx="275.1" cy="522.5" r="0.8"/><circle cx="321.4" cy="540.2" r="0.8"/><circle cx="296.6" cy="530.9" r="0.8"/><circle cx="273.8" cy="522.1" r="0.8"/><circle cx="257.8" cy="539.6" r="0.8"/><circle cx="295.6" cy="528.3" r="0.8"/><circle cx="330.1" cy="541.9" r="0.8"/><circle cx="326.7" cy="541.5" r="0.8"/><circle cx="348.3" cy="543.3" r="0.8"/><circle cx="312.3" cy="538.1" r="0.8"/><circle cx="259.7" cy="522.3" r="0.8"/><circle cx="337.4" cy="543.9" r="0.8"/><circle cx="258.7" cy="551.6" r="0.8"/><circle cx="286.7" cy="554.9" r="0.8"/><circle cx="291.6" cy="512.2" r="0.8"/><circle cx="279.9" cy="525.1" r="0.8"/><circle cx="358.3" cy="550.0" r="0.8"/><circle cx="311.4" cy="535.1" r="0.8"/><circle cx="318.5" cy="529.9" r="0.8"/><circle cx="273.6" cy="519.2" r="0.8"/><circle cx="348.6" cy="546.9" r="0.8"/><circle cx="367.3" cy="546.5" r="0.8"/><circle cx="356.4" cy="545.5" r="0.8"/><circle cx="348.8" cy="548.1" r="0.8"/><circle cx="320.9" cy="537.5" r="0.8"/><circle cx="270.2" cy="524.1" r="0.8"/><circle cx="370.1" cy="551.6" r="0.8"/><circle cx="328.4" cy="555.7" r="0.8"/><circle cx="285.7" cy="555.4" r="0.8"/><circle cx="369.2" cy="553.6" r="0.8"/><circle cx="337.8" cy="538.8" r="0.8"/><circle cx="262.8" cy="527.2" r="0.8"/><circle cx="360.2" cy="540.4" r="0.8"/><circle cx="280.9" cy="554.5" r="0.8"/><circle cx="272.8" cy="525.6" r="0.8"/><circle cx="258.6" cy="523.0" r="0.8"/><circle cx="301.9" cy="531.5" r="0.8"/><circle cx="349.0" cy="544.4" r="0.8"/><circle cx="329.9" cy="539.1" r="0.8"/><circle cx="272.6" cy="523.7" r="0.8"/><circle cx="341.0" cy="537.3" r="0.8"/><circle cx="302.2" cy="555.8" r="0.8"/><circle cx="280.3" cy="528.7" r="0.8"/><circle cx="351.6" cy="548.5" r="0.8"/><circle cx="308.3" cy="531.4" r="0.8"/><circle cx="361.4" cy="547.2" r="0.8"/><circle cx="321.7" cy="539.3" r="0.8"/><circle cx="266.5" cy="528.2" r="0.8"/><circle cx="258.2" cy="529.4" r="0.8"/><circle cx="342.0" cy="546.6" r="0.8"/><circle cx="302.4" cy="531.1" r="0.8"/><circle cx="336.5" cy="545.8" r="0.8"/><circle cx="346.9" cy="544.3" r="0.8"/><circle cx="329.8" cy="539.3" r="0.8"/><circle cx="356.7" cy="547.6" r="0.8"/><circle cx="332.1" cy="538.4" r="0.8"/><circle cx="319.5" cy="540.1" r="0.8"/><circle cx="336.9" cy="537.3" r="0.8"/><circle cx="320.7" cy="536.4" r="0.8"/><circle cx="292.2" cy="528.6" r="0.8"/><circle cx="300.8" cy="533.7" r="0.8"/><circle cx="304.6" cy="535.2" r="0.8"/><circle cx="353.6" cy="547.0" r="0.8"/><circle cx="313.4" cy="554.9" r="0.8"/><circle cx="308.1" cy="555.4" r="0.8"/><circle cx="328.4" cy="555.5" r="0.8"/><circle cx="258.3" cy="538.9" r="0.8"/><circle cx="273.3" cy="554.4" r="0.8"/><circle cx="265.6" cy="523.6" r="0.8"/><circle cx="283.7" cy="526.9" r="0.8"/><circle cx="334.7" cy="554.6" r="0.8"/><circle cx="335.8" cy="554.9" r="0.8"/><circle cx="266.9" cy="526.9" r="0.8"/><circle cx="284.4" cy="554.9" r="0.8"/><circle cx="358.8" cy="555.5" r="0.8"/><circle cx="325.6" cy="554.5" r="0.8"/><circle cx="350.1" cy="542.3" r="0.8"/><circle cx="268.7" cy="554.2" r="0.8"/><circle cx="301.6" cy="532.9" r="0.8"/><circle cx="355.4" cy="549.1" r="0.8"/><circle cx="303.6" cy="555.4" r="0.8"/><circle cx="320.1" cy="540.7" r="0.8"/><circle cx="275.2" cy="525.7" r="0.8"/><circle cx="288.8" cy="528.5" r="0.8"/><circle cx="312.6" cy="554.3" r="0.8"/><circle cx="326.4" cy="542.0" r="0.8"/><circle cx="275.4" cy="523.3" r="0.8"/><circle cx="310.2" cy="537.1" r="0.8"/><circle cx="305.1" cy="533.7" r="0.8"/><circle cx="257.8" cy="542.2" r="0.8"/><circle cx="286.7" cy="525.4" r="0.8"/><circle cx="319.6" cy="554.7" r="0.8"/><circle cx="333.4" cy="544.1" r="0.8"/><circle cx="259.4" cy="555.4" r="0.8"/><circle cx="309.9" cy="527.9" r="0.8"/><circle cx="313.9" cy="539.5" r="0.8"/><circle cx="288.0" cy="528.9" r="0.8"/><circle cx="356.4" cy="548.5" r="0.8"/><circle cx="278.2" cy="555.4" r="0.8"/><circle cx="300.9" cy="532.9" r="0.8"/><circle cx="272.7" cy="525.8" r="0.8"/><circle cx="272.6" cy="525.6" r="0.8"/><circle cx="347.2" cy="542.2" r="0.8"/><circle cx="359.6" cy="555.2" r="0.8"/><circle cx="356.7" cy="548.5" r="0.8"/><circle cx="350.3" cy="554.9" r="0.8"/><circle cx="319.3" cy="540.4" r="0.8"/><circle cx="362.9" cy="549.4" r="0.8"/><circle cx="304.8" cy="535.7" r="0.8"/><circle cx="295.8" cy="529.5" r="0.8"/><circle cx="261.0" cy="521.3" r="0.8"/><circle cx="261.8" cy="529.1" r="0.8"/><circle cx="367.4" cy="552.4" r="0.8"/><circle cx="304.2" cy="554.4" r="0.8"/><circle cx="305.3" cy="534.6" r="0.8"/><circle cx="364.4" cy="550.6" r="0.8"/><circle cx="292.1" cy="525.5" r="0.8"/><circle cx="329.3" cy="541.1" r="0.8"/><circle cx="331.4" cy="554.9" r="0.8"/><circle cx="342.9" cy="545.3" r="0.8"/><circle cx="330.7" cy="542.0" r="0.8"/><circle cx="258.6" cy="549.7" r="0.8"/><circle cx="371.7" cy="543.2" r="0.8"/><circle cx="359.4" cy="547.9" r="0.8"/><circle cx="322.2" cy="554.2" r="0.8"/><circle cx="288.3" cy="519.7" r="0.8"/><circle cx="286.7" cy="526.1" r="0.8"/><circle cx="342.7" cy="546.2" r="0.8"/><circle cx="349.0" cy="554.7" r="0.8"/><circle cx="281.4" cy="526.1" r="0.8"/><circle cx="331.8" cy="555.1" r="0.8"/><circle cx="343.9" cy="555.6" r="0.8"/><circle cx="348.2" cy="547.0" r="0.8"/><circle cx="322.0" cy="533.7" r="0.8"/><circle cx="269.1" cy="526.2" r="0.8"/><circle cx="355.0" cy="543.0" r="0.8"/><circle cx="323.3" cy="542.7" r="0.8"/><circle cx="297.3" cy="524.1" r="0.8"/><circle cx="272.7" cy="519.1" r="0.8"/><circle cx="270.7" cy="523.9" r="0.8"/><circle cx="297.2" cy="529.3" r="0.8"/><circle cx="358.3" cy="555.4" r="0.8"/><circle cx="331.4" cy="544.9" r="0.8"/><circle cx="281.6" cy="554.7" r="0.8"/><circle cx="294.5" cy="555.0" r="0.8"/><circle cx="310.8" cy="537.4" r="0.8"/><circle cx="316.2" cy="540.0" r="0.8"/><circle cx="365.2" cy="554.9" r="0.8"/><circle cx="260.8" cy="524.9" r="0.8"/><circle cx="341.9" cy="544.1" r="0.8"/><circle cx="257.6" cy="537.7" r="0.8"/><circle cx="260.3" cy="555.5" r="0.8"/><circle cx="288.0" cy="554.4" r="0.8"/><circle cx="367.3" cy="552.2" r="0.8"/><circle cx="322.9" cy="542.1" r="0.8"/><circle cx="339.9" cy="546.2" r="0.8"/><circle cx="335.0" cy="545.2" r="0.8"/><circle cx="320.8" cy="536.5" r="0.8"/><circle cx="306.9" cy="531.1" r="0.8"/><circle cx="336.1" cy="542.4" r="0.8"/><circle cx="273.6" cy="554.7" r="0.8"/><circle cx="312.1" cy="554.7" r="0.8"/><circle cx="313.3" cy="536.6" r="0.8"/><circle cx="275.3" cy="523.0" r="0.8"/><circle cx="364.8" cy="552.6" r="0.8"/><circle cx="296.1" cy="532.6" r="0.8"/><circle cx="306.7" cy="554.3" r="0.8"/><circle cx="325.1" cy="554.6" r="0.8"/><circle cx="287.7" cy="529.8" r="0.8"/><circle cx="362.9" cy="549.4" r="0.8"/><circle cx="297.6" cy="531.2" r="0.8"/><circle cx="329.2" cy="540.0" r="0.8"/><circle cx="353.5" cy="554.7" r="0.8"/><circle cx="333.6" cy="541.7" r="0.8"/><circle cx="312.3" cy="555.6" r="0.8"/><circle cx="303.3" cy="555.3" r="0.8"/><circle cx="287.2" cy="527.8" r="0.8"/><circle cx="274.6" cy="555.3" r="0.8"/><circle cx="273.2" cy="520.5" r="0.8"/><circle cx="290.7" cy="530.1" r="0.8"/><circle cx="315.4" cy="555.4" r="0.8"/><circle cx="274.7" cy="524.6" r="0.8"/><circle cx="353.2" cy="554.4" r="0.8"/><circle cx="322.1" cy="535.6" r="0.8"/><circle cx="321.5" cy="554.6" r="0.8"/><circle cx="303.4" cy="555.0" r="0.8"/><circle cx="321.8" cy="554.4" r="0.8"/><circle cx="357.9" cy="545.4" r="0.8"/><circle cx="305.0" cy="555.5" r="0.8"/><circle cx="356.0" cy="540.6" r="0.8"/><circle cx="335.2" cy="544.9" r="0.8"/><circle cx="318.1" cy="540.7" r="0.8"/><circle cx="321.5" cy="538.4" r="0.8"/><circle cx="262.3" cy="528.4" r="0.8"/><circle cx="360.7" cy="530.7" r="0.8"/><circle cx="294.2" cy="531.0" r="0.8"/><circle cx="354.7" cy="547.7" r="0.8"/><circle cx="301.6" cy="532.1" r="0.8"/><circle cx="266.6" cy="526.5" r="0.8"/><circle cx="332.7" cy="543.6" r="0.8"/><circle cx="296.8" cy="529.7" r="0.8"/><circle cx="297.1" cy="532.1" r="0.8"/><circle cx="343.2" cy="555.4" r="0.8"/><circle cx="283.2" cy="527.3" r="0.8"/><circle cx="313.7" cy="530.2" r="0.8"/><circle cx="270.0" cy="555.3" r="0.8"/><circle cx="299.9" cy="531.3" r="0.8"/><circle cx="342.6" cy="540.7" r="0.8"/><circle cx="335.6" cy="540.7" r="0.8"/><circle cx="269.2" cy="526.6" r="0.8"/><circle cx="329.1" cy="539.1" r="0.8"/><circle cx="347.9" cy="555.6" r="0.8"/><circle cx="287.5" cy="529.9" r="0.8"/><circle cx="360.7" cy="555.7" r="0.8"/><circle cx="271.9" cy="554.6" r="0.8"/><circle cx="293.5" cy="555.1" r="0.8"/><circle cx="315.5" cy="555.8" r="0.8"/><circle cx="315.3" cy="536.3" r="0.8"/><circle cx="362.1" cy="552.1" r="0.8"/><circle cx="265.6" cy="555.6" r="0.8"/><circle cx="332.4" cy="555.2" r="0.8"/><circle cx="258.8" cy="555.0" r="0.8"/><circle cx="345.3" cy="544.5" r="0.8"/><circle cx="330.1" cy="544.8" r="0.8"/><circle cx="289.4" cy="529.7" r="0.8"/><circle cx="268.1" cy="523.1" r="0.8"/><circle cx="317.2" cy="540.9" r="0.8"/><circle cx="267.7" cy="554.6" r="0.8"/><circle cx="344.5" cy="547.3" r="0.8"/><circle cx="269.1" cy="525.8" r="0.8"/><circle cx="324.6" cy="537.6" r="0.8"/><circle cx="275.5" cy="525.4" r="0.8"/><circle cx="357.0" cy="554.9" r="0.8"/><circle cx="278.2" cy="527.0" r="0.8"/><circle cx="346.0" cy="554.3" r="0.8"/><circle cx="263.7" cy="528.0" r="0.8"/><circle cx="312.5" cy="526.6" r="0.8"/><circle cx="306.9" cy="532.0" r="0.8"/><circle cx="304.8" cy="554.5" r="0.8"/><circle cx="304.6" cy="535.2" r="0.8"/><circle cx="279.6" cy="525.0" r="0.8"/><circle cx="349.9" cy="545.1" r="0.8"/><circle cx="274.8" cy="554.7" r="0.8"/><circle cx="257.5" cy="535.4" r="0.8"/><circle cx="316.9" cy="541.3" r="0.8"/><circle cx="341.5" cy="544.9" r="0.8"/><circle cx="345.5" cy="545.0" r="0.8"/><circle cx="356.4" cy="549.5" r="0.8"/><circle cx="257.5" cy="540.8" r="0.8"/><circle cx="294.4" cy="531.5" r="0.8"/><circle cx="265.8" cy="555.4" r="0.8"/><circle cx="338.8" cy="541.7" r="0.8"/><circle cx="258.8" cy="554.5" r="0.8"/><circle cx="354.5" cy="547.6" r="0.8"/><circle cx="275.8" cy="554.3" r="0.8"/><circle cx="269.9" cy="555.4" r="0.8"/><circle cx="364.3" cy="553.8" r="0.8"/><circle cx="312.5" cy="539.0" r="0.8"/><circle cx="344.5" cy="542.9" r="0.8"/><circle cx="334.5" cy="554.8" r="0.8"/><circle cx="334.7" cy="542.1" r="0.8"/><circle cx="279.3" cy="526.8" r="0.8"/><circle cx="331.2" cy="543.4" r="0.8"/><circle cx="365.7" cy="544.9" r="0.8"/><circle cx="314.8" cy="537.2" r="0.8"/><circle cx="279.4" cy="525.5" r="0.8"/><circle cx="259.1" cy="527.2" r="0.8"/><circle cx="278.4" cy="526.2" r="0.8"/><circle cx="344.5" cy="535.7" r="0.8"/><circle cx="296.5" cy="528.4" r="0.8"/><circle cx="333.4" cy="543.1" r="0.8"/><circle cx="356.1" cy="547.4" r="0.8"/><circle cx="322.2" cy="554.3" r="0.8"/><circle cx="296.7" cy="531.3" r="0.8"/><circle cx="327.1" cy="554.2" r="0.8"/><circle cx="298.4" cy="530.9" r="0.8"/><circle cx="362.4" cy="543.8" r="0.8"/><circle cx="354.0" cy="548.9" r="0.8"/><circle cx="343.4" cy="546.0" r="0.8"/><circle cx="294.0" cy="554.5" r="0.8"/><circle cx="318.2" cy="539.0" r="0.8"/><circle cx="280.0" cy="526.9" r="0.8"/><circle cx="330.4" cy="542.3" r="0.8"/><circle cx="297.2" cy="530.7" r="0.8"/><circle cx="281.5" cy="528.3" r="0.8"/><circle cx="361.0" cy="550.2" r="0.8"/><circle cx="282.2" cy="522.3" r="0.8"/><circle cx="303.5" cy="533.3" r="0.8"/><circle cx="289.8" cy="523.3" r="0.8"/><circle cx="305.3" cy="535.6" r="0.8"/><circle cx="357.3" cy="548.7" r="0.8"/><circle cx="273.1" cy="518.0" r="0.8"/><circle cx="322.1" cy="541.2" r="0.8"/><circle cx="266.3" cy="524.4" r="0.8"/><circle cx="257.5" cy="534.0" r="0.8"/><circle cx="364.3" cy="550.2" r="0.8"/><circle cx="364.7" cy="553.8" r="0.8"/><circle cx="323.3" cy="542.3" r="0.8"/><circle cx="287.5" cy="528.7" r="0.8"/><circle cx="294.8" cy="514.4" r="0.8"/><circle cx="273.7" cy="520.8" r="0.8"/><circle cx="275.2" cy="523.5" r="0.8"/><circle cx="352.9" cy="555.6" r="0.8"/><circle cx="321.8" cy="540.6" r="0.8"/><circle cx="352.2" cy="547.7" r="0.8"/><circle cx="357.5" cy="547.6" r="0.8"/><circle cx="365.3" cy="552.3" r="0.8"/><circle cx="276.7" cy="524.5" r="0.8"/><circle cx="330.5" cy="539.5" r="0.8"/><circle cx="323.3" cy="538.2" r="0.8"/><circle cx="257.5" cy="529.9" r="0.8"/><circle cx="258.7" cy="549.4" r="0.8"/><circle cx="373.6" cy="545.6" r="0.8"/><circle cx="260.7" cy="555.7" r="0.8"/><circle cx="306.0" cy="555.5" r="0.8"/><circle cx="293.1" cy="529.2" r="0.8"/><circle cx="267.7" cy="527.4" r="0.8"/><circle cx="327.9" cy="555.0" r="0.8"/><circle cx="302.2" cy="534.1" r="0.8"/><circle cx="285.8" cy="530.0" r="0.8"/><circle cx="365.9" cy="554.2" r="0.8"/><circle cx="335.0" cy="544.0" r="0.8"/><circle cx="363.2" cy="555.6" r="0.8"/><circle cx="360.7" cy="551.5" r="0.8"/><circle cx="277.8" cy="522.1" r="0.8"/><circle cx="302.8" cy="533.2" r="0.8"/><circle cx="272.1" cy="524.2" r="0.8"/><circle cx="351.8" cy="547.0" r="0.8"/><circle cx="355.0" cy="549.0" r="0.8"/><circle cx="317.4" cy="539.8" r="0.8"/><circle cx="310.9" cy="526.8" r="0.8"/><circle cx="257.6" cy="552.1" r="0.8"/><circle cx="281.1" cy="527.2" r="0.8"/><circle cx="304.4" cy="527.8" r="0.8"/><circle cx="267.1" cy="521.9" r="0.8"/><circle cx="258.4" cy="552.3" r="0.8"/><circle cx="294.0" cy="527.8" r="0.8"/><circle cx="321.4" cy="538.3" r="0.8"/><circle cx="258.2" cy="548.2" r="0.8"/><circle cx="355.8" cy="555.0" r="0.8"/><circle cx="277.6" cy="522.5" r="0.8"/><circle cx="318.4" cy="541.4" r="0.8"/><circle cx="288.6" cy="530.1" r="0.8"/><circle cx="336.6" cy="545.8" r="0.8"/><circle cx="278.9" cy="554.7" r="0.8"/><circle cx="279.0" cy="527.8" r="0.8"/><circle cx="269.7" cy="527.7" r="0.8"/><circle cx="301.7" cy="554.5" r="0.8"/><circle cx="332.6" cy="537.9" r="0.8"/><circle cx="310.1" cy="532.3" r="0.8"/><circle cx="314.4" cy="536.9" r="0.8"/><circle cx="354.3" cy="545.3" r="0.8"/><circle cx="273.7" cy="523.3" r="0.8"/><circle cx="301.4" cy="554.4" r="0.8"/><circle cx="335.6" cy="544.4" r="0.8"/><circle cx="286.2" cy="527.6" r="0.8"/><circle cx="316.8" cy="539.6" r="0.8"/><circle cx="258.3" cy="527.6" r="0.8"/><circle cx="313.2" cy="554.9" r="0.8"/><circle cx="320.7" cy="554.7" r="0.8"/><circle cx="318.7" cy="539.6" r="0.8"/><circle cx="326.1" cy="555.2" r="0.8"/><circle cx="315.8" cy="540.6" r="0.8"/><circle cx="360.0" cy="547.7" r="0.8"/><circle cx="325.8" cy="555.1" r="0.8"/><circle cx="302.0" cy="528.0" r="0.8"/><circle cx="308.6" cy="536.7" r="0.8"/><circle cx="277.0" cy="524.4" r="0.8"/><circle cx="360.5" cy="554.5" r="0.8"/><circle cx="272.0" cy="523.4" r="0.8"/><circle cx="330.4" cy="540.8" r="0.8"/><circle cx="322.0" cy="532.3" r="0.8"/><circle cx="365.5" cy="546.8" r="0.8"/><circle cx="258.0" cy="537.5" r="0.8"/><circle cx="322.7" cy="534.2" r="0.8"/><circle cx="278.1" cy="524.4" r="0.8"/><circle cx="257.8" cy="532.1" r="0.8"/><circle cx="351.6" cy="548.2" r="0.8"/><circle cx="272.4" cy="517.1" r="0.8"/><circle cx="282.6" cy="554.9" r="0.8"/><circle cx="303.4" cy="532.8" r="0.8"/><circle cx="293.0" cy="530.3" r="0.8"/><circle cx="328.4" cy="543.5" r="0.8"/><circle cx="318.6" cy="539.8" r="0.8"/><circle cx="283.9" cy="529.3" r="0.8"/><circle cx="277.6" cy="555.4" r="0.8"/><circle cx="285.1" cy="529.8" r="0.8"/><circle cx="263.4" cy="528.5" r="0.8"/><circle cx="361.7" cy="552.7" r="0.8"/><circle cx="320.5" cy="542.1" r="0.8"/><circle cx="295.2" cy="529.1" r="0.8"/><circle cx="292.6" cy="529.6" r="0.8"/><circle cx="262.1" cy="527.3" r="0.8"/><circle cx="358.8" cy="554.4" r="0.8"/><circle cx="278.4" cy="554.9" r="0.8"/><circle cx="265.0" cy="527.1" r="0.8"/><circle cx="309.7" cy="535.4" r="0.8"/><circle cx="290.0" cy="529.7" r="0.8"/><circle cx="267.1" cy="524.8" r="0.8"/><circle cx="280.4" cy="554.4" r="0.8"/><circle cx="361.8" cy="555.8" r="0.8"/><circle cx="277.6" cy="555.7" r="0.8"/><circle cx="352.2" cy="555.3" r="0.8"/><circle cx="318.6" cy="538.2" r="0.8"/><circle cx="290.2" cy="530.6" r="0.8"/><circle cx="270.6" cy="524.2" r="0.8"/><circle cx="344.7" cy="546.3" r="0.8"/><circle cx="273.0" cy="526.2" r="0.8"/><circle cx="277.4" cy="525.4" r="0.8"/><circle cx="326.8" cy="536.2" r="0.8"/><circle cx="273.3" cy="522.1" r="0.8"/><circle cx="343.7" cy="555.2" r="0.8"/><circle cx="257.3" cy="545.9" r="0.8"/><circle cx="271.8" cy="525.5" r="0.8"/><circle cx="345.8" cy="546.5" r="0.8"/><circle cx="282.0" cy="555.2" r="0.8"/><circle cx="271.6" cy="524.9" r="0.8"/><circle cx="356.4" cy="547.5" r="0.8"/><circle cx="321.9" cy="541.4" r="0.8"/><circle cx="258.1" cy="551.4" r="0.8"/><circle cx="265.1" cy="554.8" r="0.8"/><circle cx="360.5" cy="548.6" r="0.8"/><circle cx="330.7" cy="555.7" r="0.8"/><circle cx="302.7" cy="554.6" r="0.8"/><circle cx="303.7" cy="533.7" r="0.8"/><circle cx="300.3" cy="554.7" r="0.8"/><circle cx="278.2" cy="521.5" r="0.8"/><circle cx="319.1" cy="554.5" r="0.8"/><circle cx="351.3" cy="547.3" r="0.8"/><circle cx="337.4" cy="555.7" r="0.8"/><circle cx="257.6" cy="531.9" r="0.8"/><circle cx="304.9" cy="534.1" r="0.8"/><circle cx="316.3" cy="555.1" r="0.8"/><circle cx="348.6" cy="547.1" r="0.8"/><circle cx="348.0" cy="555.4" r="0.8"/><circle cx="258.0" cy="543.4" r="0.8"/><circle cx="340.3" cy="533.8" r="0.8"/><circle cx="331.1" cy="555.7" r="0.8"/><circle cx="263.4" cy="527.5" r="0.8"/><circle cx="300.5" cy="555.0" r="0.8"/><circle cx="324.2" cy="537.9" r="0.8"/><circle cx="303.2" cy="533.3" r="0.8"/><circle cx="338.0" cy="544.0" r="0.8"/><circle cx="318.3" cy="554.6" r="0.8"/><circle cx="315.2" cy="537.7" r="0.8"/><circle cx="283.8" cy="527.0" r="0.8"/><circle cx="257.2" cy="535.3" r="0.8"/><circle cx="349.2" cy="555.6" r="0.8"/><circle cx="307.5" cy="534.2" r="0.8"/><circle cx="313.7" cy="537.6" r="0.8"/><circle cx="320.6" cy="537.0" r="0.8"/><circle cx="305.3" cy="533.5" r="0.8"/><circle cx="340.5" cy="544.9" r="0.8"/><circle cx="345.7" cy="546.0" r="0.8"/><circle cx="346.8" cy="546.8" r="0.8"/><circle cx="346.8" cy="545.9" r="0.8"/><circle cx="291.9" cy="528.9" r="0.8"/><circle cx="297.3" cy="554.4" r="0.8"/><circle cx="274.8" cy="520.4" r="0.8"/><circle cx="313.3" cy="539.1" r="0.8"/><circle cx="360.0" cy="550.7" r="0.8"/><circle cx="311.4" cy="533.5" r="0.8"/><circle cx="294.4" cy="555.6" r="0.8"/><circle cx="348.3" cy="548.1" r="0.8"/><circle cx="312.0" cy="536.3" r="0.8"/><circle cx="349.3" cy="546.1" r="0.8"/><circle cx="314.0" cy="538.5" r="0.8"/><circle cx="258.5" cy="553.8" r="0.8"/><circle cx="343.8" cy="545.4" r="0.8"/><circle cx="344.0" cy="545.7" r="0.8"/><circle cx="259.6" cy="527.5" r="0.8"/><circle cx="306.2" cy="533.0" r="0.8"/><circle cx="342.4" cy="542.1" r="0.8"/><circle cx="260.1" cy="555.8" r="0.8"/><circle cx="262.4" cy="554.9" r="0.8"/><circle cx="261.1" cy="555.6" r="0.8"/><circle cx="361.2" cy="555.5" r="0.8"/><circle cx="321.1" cy="541.0" r="0.8"/><circle cx="365.3" cy="553.1" r="0.8"/><circle cx="282.6" cy="519.6" r="0.8"/><circle cx="330.0" cy="544.2" r="0.8"/><circle cx="270.9" cy="524.8" r="0.8"/><circle cx="333.9" cy="543.9" r="0.8"/><circle cx="314.7" cy="531.9" r="0.8"/><circle cx="282.3" cy="555.7" r="0.8"/><circle cx="308.8" cy="537.1" r="0.8"/><circle cx="348.1" cy="543.9" r="0.8"/><circle cx="297.2" cy="532.5" r="0.8"/><circle cx="287.4" cy="530.0" r="0.8"/><circle cx="328.7" cy="542.8" r="0.8"/><circle cx="277.1" cy="522.9" r="0.8"/><circle cx="337.0" cy="542.7" r="0.8"/><circle cx="359.9" cy="534.2" r="0.8"/><circle cx="277.5" cy="526.6" r="0.8"/><circle cx="313.7" cy="537.2" r="0.8"/><circle cx="332.0" cy="555.7" r="0.8"/><circle cx="281.4" cy="525.8" r="0.8"/><circle cx="258.1" cy="526.4" r="0.8"/><circle cx="358.1" cy="550.3" r="0.8"/><circle cx="326.0" cy="541.3" r="0.8"/><circle cx="360.8" cy="551.8" r="0.8"/><circle cx="258.2" cy="549.8" r="0.8"/><circle cx="262.7" cy="555.0" r="0.8"/><circle cx="267.1" cy="526.9" r="0.8"/><circle cx="272.8" cy="555.4" r="0.8"/><circle cx="304.3" cy="532.9" r="0.8"/><circle cx="257.6" cy="539.9" r="0.8"/><circle cx="265.1" cy="554.3" r="0.8"/><circle cx="257.5" cy="544.9" r="0.8"/><circle cx="263.9" cy="527.7" r="0.8"/><circle cx="354.3" cy="555.8" r="0.8"/><circle cx="313.1" cy="538.6" r="0.8"/><circle cx="310.4" cy="534.2" r="0.8"/><circle cx="343.8" cy="541.5" r="0.8"/><circle cx="270.9" cy="555.6" r="0.8"/><circle cx="331.3" cy="533.3" r="0.8"/><circle cx="260.9" cy="528.8" r="0.8"/><circle cx="307.5" cy="555.7" r="0.8"/><circle cx="352.7" cy="555.3" r="0.8"/><circle cx="284.5" cy="528.0" r="0.8"/><circle cx="318.2" cy="538.0" r="0.8"/><circle cx="367.7" cy="554.4" r="0.8"/><circle cx="288.4" cy="554.3" r="0.8"/><circle cx="275.8" cy="518.6" r="0.8"/><circle cx="328.0" cy="543.7" r="0.8"/><circle cx="305.9" cy="531.1" r="0.8"/><circle cx="353.9" cy="548.4" r="0.8"/><circle cx="337.5" cy="542.1" r="0.8"/><circle cx="362.2" cy="552.2" r="0.8"/><circle cx="305.0" cy="531.2" r="0.8"/><circle cx="279.1" cy="555.5" r="0.8"/><circle cx="365.0" cy="555.4" r="0.8"/><circle cx="317.7" cy="539.9" r="0.8"/><circle cx="332.9" cy="543.7" r="0.8"/><circle cx="264.2" cy="524.5" r="0.8"/><circle cx="283.1" cy="528.5" r="0.8"/><circle cx="360.0" cy="546.8" r="0.8"/><circle cx="262.9" cy="554.6" r="0.8"/><circle cx="295.8" cy="555.3" r="0.8"/><circle cx="264.3" cy="528.4" r="0.8"/><circle cx="274.5" cy="525.5" r="0.8"/><circle cx="284.0" cy="555.5" r="0.8"/><circle cx="306.7" cy="554.6" r="0.8"/><circle cx="339.0" cy="555.3" r="0.8"/><circle cx="307.8" cy="528.3" r="0.8"/><circle cx="341.5" cy="545.5" r="0.8"/><circle cx="270.3" cy="554.5" r="0.8"/><circle cx="282.9" cy="554.6" r="0.8"/><circle cx="350.6" cy="547.4" r="0.8"/><circle cx="270.5" cy="525.7" r="0.8"/><circle cx="266.4" cy="526.0" r="0.8"/><circle cx="347.8" cy="554.8" r="0.8"/><circle cx="360.7" cy="554.6" r="0.8"/><circle cx="282.3" cy="525.4" r="0.8"/><circle cx="326.6" cy="542.5" r="0.8"/><circle cx="287.0" cy="528.2" r="0.8"/><circle cx="360.2" cy="551.8" r="0.8"/><circle cx="305.6" cy="528.2" r="0.8"/><circle cx="283.3" cy="527.3" r="0.8"/><circle cx="274.8" cy="517.0" r="0.8"/><circle cx="310.5" cy="537.0" r="0.8"/><circle cx="276.8" cy="554.9" r="0.8"/><circle cx="269.2" cy="523.5" r="0.8"/><circle cx="331.4" cy="540.5" r="0.8"/><circle cx="309.1" cy="530.2" r="0.8"/><circle cx="356.8" cy="550.0" r="0.8"/><circle cx="281.7" cy="555.4" r="0.8"/><circle cx="258.7" cy="542.8" r="0.8"/><circle cx="291.3" cy="525.4" r="0.8"/><circle cx="284.0" cy="526.2" r="0.8"/><circle cx="270.0" cy="555.4" r="0.8"/><circle cx="307.5" cy="533.9" r="0.8"/><circle cx="268.4" cy="522.2" r="0.8"/><circle cx="268.2" cy="527.0" r="0.8"/><circle cx="318.5" cy="555.8" r="0.8"/><circle cx="268.8" cy="555.2" r="0.8"/><circle cx="305.8" cy="526.7" r="0.8"/><circle cx="257.3" cy="531.9" r="0.8"/><circle cx="341.4" cy="544.5" r="0.8"/><circle cx="350.2" cy="548.8" r="0.8"/><circle cx="257.4" cy="549.2" r="0.8"/><circle cx="282.4" cy="555.0" r="0.8"/><circle cx="297.3" cy="528.8" r="0.8"/><circle cx="299.4" cy="531.8" r="0.8"/><circle cx="305.6" cy="535.0" r="0.8"/><circle cx="281.1" cy="526.2" r="0.8"/><circle cx="272.8" cy="524.6" r="0.8"/><circle cx="265.6" cy="554.5" r="0.8"/><circle cx="269.1" cy="516.4" r="0.8"/><circle cx="314.3" cy="554.6" r="0.8"/><circle cx="295.4" cy="527.0" r="0.8"/><circle cx="298.0" cy="532.6" r="0.8"/><circle cx="333.7" cy="544.5" r="0.8"/><circle cx="336.1" cy="537.0" r="0.8"/><circle cx="261.3" cy="522.1" r="0.8"/><circle cx="260.1" cy="527.9" r="0.8"/><circle cx="334.5" cy="555.0" r="0.8"/><circle cx="306.7" cy="554.2" r="0.8"/><circle cx="312.0" cy="538.2" r="0.8"/><circle cx="328.9" cy="544.6" r="0.8"/><circle cx="370.0" cy="555.6" r="0.8"/><circle cx="257.7" cy="535.8" r="0.8"/><circle cx="274.9" cy="555.7" r="0.8"/><circle cx="296.1" cy="521.1" r="0.8"/><circle cx="325.0" cy="538.4" r="0.8"/><circle cx="338.3" cy="545.1" r="0.8"/><circle cx="293.3" cy="555.1" r="0.8"/><circle cx="360.6" cy="552.2" r="0.8"/><circle cx="279.6" cy="524.6" r="0.8"/><circle cx="295.9" cy="520.5" r="0.8"/><circle cx="325.7" cy="554.4" r="0.8"/><circle cx="339.7" cy="555.8" r="0.8"/><circle cx="362.3" cy="549.2" r="0.8"/><circle cx="343.7" cy="554.8" r="0.8"/><circle cx="363.9" cy="553.9" r="0.8"/><circle cx="278.2" cy="523.7" r="0.8"/><circle cx="323.5" cy="541.8" r="0.8"/><circle cx="258.6" cy="550.7" r="0.8"/><circle cx="355.5" cy="548.0" r="0.8"/><circle cx="257.8" cy="528.0" r="0.8"/><circle cx="314.9" cy="554.3" r="0.8"/><circle cx="275.5" cy="525.3" r="0.8"/><circle cx="274.9" cy="523.2" r="0.8"/><circle cx="283.2" cy="526.1" r="0.8"/><circle cx="310.8" cy="536.2" r="0.8"/><circle cx="318.8" cy="537.5" r="0.8"/><circle cx="303.2" cy="533.4" r="0.8"/><circle cx="303.7" cy="529.6" r="0.8"/><circle cx="321.8" cy="542.0" r="0.8"/><circle cx="293.0" cy="555.5" r="0.8"/><circle cx="279.4" cy="554.6" r="0.8"/><circle cx="264.3" cy="521.8" r="0.8"/><circle cx="361.5" cy="552.9" r="0.8"/><circle cx="339.2" cy="554.4" r="0.8"/><circle cx="363.6" cy="551.5" r="0.8"/><circle cx="353.2" cy="546.9" r="0.8"/><circle cx="334.6" cy="545.8" r="0.8"/><circle cx="288.7" cy="554.6" r="0.8"/><circle cx="257.8" cy="527.0" r="0.8"/><circle cx="351.6" cy="545.1" r="0.8"/><circle cx="260.9" cy="554.4" r="0.8"/><circle cx="329.3" cy="540.9" r="0.8"/><circle cx="272.2" cy="523.2" r="0.8"/><circle cx="282.4" cy="529.0" r="0.8"/><circle cx="369.2" cy="555.5" r="0.8"/><circle cx="286.2" cy="523.9" r="0.8"/><circle cx="302.6" cy="529.2" r="0.8"/><circle cx="307.8" cy="554.5" r="0.8"/><circle cx="344.0" cy="545.4" r="0.8"/><circle cx="264.3" cy="523.9" r="0.8"/><circle cx="298.3" cy="527.9" r="0.8"/><circle cx="350.4" cy="545.5" r="0.8"/><circle cx="293.3" cy="524.6" r="0.8"/><circle cx="287.3" cy="529.0" r="0.8"/><circle cx="262.4" cy="554.7" r="0.8"/><circle cx="331.8" cy="554.3" r="0.8"/><circle cx="314.0" cy="554.3" r="0.8"/><circle cx="276.5" cy="555.6" r="0.8"/><circle cx="257.6" cy="544.8" r="0.8"/><circle cx="264.0" cy="554.6" r="0.8"/><circle cx="321.2" cy="554.3" r="0.8"/><circle cx="360.3" cy="551.0" r="0.8"/><circle cx="266.5" cy="554.3" r="0.8"/><circle cx="277.0" cy="525.1" r="0.8"/><circle cx="324.3" cy="541.3" r="0.8"/><circle cx="337.5" cy="545.4" r="0.8"/><circle cx="343.6" cy="555.4" r="0.8"/><circle cx="279.4" cy="525.4" r="0.8"/><circle cx="314.8" cy="535.7" r="0.8"/><circle cx="311.4" cy="536.3" r="0.8"/><circle cx="351.3" cy="549.0" r="0.8"/><circle cx="302.5" cy="554.4" r="0.8"/><circle cx="359.2" cy="545.6" r="0.8"/><circle cx="302.0" cy="528.7" r="0.8"/><circle cx="284.7" cy="528.1" r="0.8"/><circle cx="278.3" cy="521.9" r="0.8"/><circle cx="332.7" cy="545.3" r="0.8"/><circle cx="316.1" cy="535.8" r="0.8"/><circle cx="323.0" cy="539.8" r="0.8"/><circle cx="312.0" cy="555.5" r="0.8"/><circle cx="334.7" cy="544.6" r="0.8"/><circle cx="306.0" cy="529.9" r="0.8"/><circle cx="302.0" cy="532.5" r="0.8"/><circle cx="323.7" cy="554.5" r="0.8"/><circle cx="347.8" cy="541.9" r="0.8"/><circle cx="350.8" cy="547.0" r="0.8"/><circle cx="258.8" cy="526.5" r="0.8"/><circle cx="304.4" cy="525.8" r="0.8"/><circle cx="265.9" cy="527.3" r="0.8"/><circle cx="271.7" cy="523.9" r="0.8"/><circle cx="281.5" cy="508.5" r="0.8"/><circle cx="359.1" cy="550.0" r="0.8"/><circle cx="308.8" cy="555.1" r="0.8"/><circle cx="268.3" cy="524.3" r="0.8"/><circle cx="263.9" cy="525.6" r="0.8"/><circle cx="282.5" cy="525.8" r="0.8"/><circle cx="258.3" cy="542.6" r="0.8"/><circle cx="332.0" cy="554.5" r="0.8"/><circle cx="271.6" cy="525.1" r="0.8"/><circle cx="269.3" cy="527.8" r="0.8"/><circle cx="368.4" cy="552.8" r="0.8"/><circle cx="325.6" cy="541.9" r="0.8"/><circle cx="333.4" cy="543.9" r="0.8"/><circle cx="307.8" cy="535.2" r="0.8"/><circle cx="332.4" cy="543.4" r="0.8"/><circle cx="350.4" cy="542.3" r="0.8"/><circle cx="285.5" cy="528.4" r="0.8"/><circle cx="303.9" cy="533.4" r="0.8"/><circle cx="313.2" cy="537.1" r="0.8"/><circle cx="266.2" cy="526.4" r="0.8"/><circle cx="342.9" cy="547.0" r="0.8"/><circle cx="351.2" cy="548.9" r="0.8"/><circle cx="257.4" cy="541.2" r="0.8"/><circle cx="260.6" cy="524.7" r="0.8"/><circle cx="296.2" cy="532.6" r="0.8"/><circle cx="295.8" cy="530.0" r="0.8"/><circle cx="310.7" cy="537.3" r="0.8"/><circle cx="296.0" cy="532.5" r="0.8"/><circle cx="285.5" cy="528.4" r="0.8"/><circle cx="306.4" cy="534.2" r="0.8"/><circle cx="290.9" cy="521.1" r="0.8"/><circle cx="271.8" cy="514.0" r="0.8"/><circle cx="312.3" cy="538.2" r="0.8"/><circle cx="283.4" cy="528.0" r="0.8"/><circle cx="261.8" cy="527.0" r="0.8"/><circle cx="342.2" cy="555.4" r="0.8"/><circle cx="322.6" cy="538.6" r="0.8"/><circle cx="267.5" cy="526.6" r="0.8"/><circle cx="274.2" cy="525.8" r="0.8"/><circle cx="297.5" cy="526.9" r="0.8"/><circle cx="350.0" cy="547.6" r="0.8"/><circle cx="277.4" cy="526.5" r="0.8"/><circle cx="363.4" cy="553.2" r="0.8"/><circle cx="320.0" cy="540.3" r="0.8"/><circle cx="287.3" cy="524.1" r="0.8"/><circle cx="355.3" cy="544.3" r="0.8"/><circle cx="327.8" cy="554.9" r="0.8"/><circle cx="353.9" cy="555.7" r="0.8"/><circle cx="349.9" cy="545.1" r="0.8"/><circle cx="257.5" cy="547.0" r="0.8"/><circle cx="292.0" cy="530.5" r="0.8"/><circle cx="300.7" cy="531.5" r="0.8"/><circle cx="272.0" cy="524.7" r="0.8"/><circle cx="305.0" cy="554.3" r="0.8"/><circle cx="257.3" cy="541.0" r="0.8"/><circle cx="305.5" cy="554.5" r="0.8"/><circle cx="271.0" cy="555.1" r="0.8"/><circle cx="263.5" cy="555.4" r="0.8"/><circle cx="311.2" cy="538.4" r="0.8"/><circle cx="289.9" cy="523.3" r="0.8"/><circle cx="266.5" cy="555.4" r="0.8"/><circle cx="355.8" cy="554.9" r="0.8"/><circle cx="322.8" cy="539.9" r="0.8"/><circle cx="272.6" cy="524.7" r="0.8"/><circle cx="313.3" cy="533.3" r="0.8"/><circle cx="350.5" cy="555.0" r="0.8"/><circle cx="258.2" cy="529.5" r="0.8"/><circle cx="318.3" cy="554.2" r="0.8"/><circle cx="309.8" cy="555.2" r="0.8"/><circle cx="350.8" cy="555.7" r="0.8"/><circle cx="339.1" cy="555.7" r="0.8"/><circle cx="340.2" cy="533.5" r="0.8"/><circle cx="266.6" cy="521.1" r="0.8"/><circle cx="275.5" cy="525.9" r="0.8"/><circle cx="286.6" cy="526.5" r="0.8"/><circle cx="264.4" cy="554.8" r="0.8"/><circle cx="352.6" cy="548.7" r="0.8"/><circle cx="258.7" cy="551.4" r="0.8"/><circle cx="351.1" cy="544.8" r="0.8"/><circle cx="296.5" cy="529.0" r="0.8"/><circle cx="278.6" cy="527.2" r="0.8"/><circle cx="354.3" cy="547.6" r="0.8"/><circle cx="310.8" cy="532.7" r="0.8"/><circle cx="324.5" cy="535.3" r="0.8"/><circle cx="333.6" cy="541.9" r="0.8"/><circle cx="360.2" cy="551.9" r="0.8"/><circle cx="319.2" cy="542.1" r="0.8"/><circle cx="341.1" cy="555.7" r="0.8"/><circle cx="318.7" cy="541.4" r="0.8"/><circle cx="358.6" cy="545.9" r="0.8"/><circle cx="265.8" cy="554.6" r="0.8"/><circle cx="325.1" cy="542.0" r="0.8"/><circle cx="357.2" cy="545.4" r="0.8"/><circle cx="258.0" cy="527.9" r="0.8"/><circle cx="330.8" cy="537.3" r="0.8"/><circle cx="362.8" cy="553.4" r="0.8"/><circle cx="343.9" cy="554.7" r="0.8"/><circle cx="313.5" cy="538.3" r="0.8"/><circle cx="328.8" cy="539.8" r="0.8"/><circle cx="342.4" cy="544.4" r="0.8"/><circle cx="343.7" cy="543.2" r="0.8"/><circle cx="291.2" cy="530.2" r="0.8"/><circle cx="315.3" cy="539.8" r="0.8"/><circle cx="323.2" cy="543.2" r="0.8"/><circle cx="300.2" cy="528.8" r="0.8"/><circle cx="328.8" cy="542.9" r="0.8"/><circle cx="362.8" cy="555.5" r="0.8"/><circle cx="269.5" cy="555.4" r="0.8"/><circle cx="343.9" cy="554.4" r="0.8"/><circle cx="275.0" cy="524.5" r="0.8"/><circle cx="322.2" cy="554.8" r="0.8"/><circle cx="277.4" cy="523.0" r="0.8"/><circle cx="280.3" cy="523.7" r="0.8"/><circle cx="359.0" cy="548.5" r="0.8"/><circle cx="258.6" cy="537.0" r="0.8"/><circle cx="285.3" cy="529.9" r="0.8"/><circle cx="362.4" cy="555.8" r="0.8"/><circle cx="314.1" cy="532.5" r="0.8"/><circle cx="314.1" cy="554.4" r="0.8"/><circle cx="258.6" cy="550.8" r="0.8"/><circle cx="300.0" cy="533.3" r="0.8"/><circle cx="333.8" cy="543.5" r="0.8"/><circle cx="311.4" cy="528.5" r="0.8"/><circle cx="312.1" cy="538.8" r="0.8"/><circle cx="274.6" cy="526.3" r="0.8"/><circle cx="358.1" cy="550.3" r="0.8"/><circle cx="361.0" cy="551.1" r="0.8"/><circle cx="310.0" cy="536.8" r="0.8"/><circle cx="323.8" cy="541.8" r="0.8"/><circle cx="335.7" cy="536.3" r="0.8"/><circle cx="280.8" cy="555.2" r="0.8"/><circle cx="307.4" cy="532.0" r="0.8"/><circle cx="324.8" cy="554.3" r="0.8"/><circle cx="305.6" cy="532.9" r="0.8"/><circle cx="278.5" cy="554.7" r="0.8"/><circle cx="318.3" cy="524.9" r="0.8"/><circle cx="330.2" cy="555.0" r="0.8"/><circle cx="267.7" cy="527.8" r="0.8"/><circle cx="258.5" cy="545.4" r="0.8"/><circle cx="267.2" cy="519.8" r="0.8"/><circle cx="308.3" cy="535.3" r="0.8"/><circle cx="365.0" cy="549.0" r="0.8"/><circle cx="272.6" cy="523.5" r="0.8"/><circle cx="356.1" cy="548.2" r="0.8"/><circle cx="313.7" cy="537.6" r="0.8"/><circle cx="318.5" cy="539.1" r="0.8"/><circle cx="296.2" cy="555.0" r="0.8"/><circle cx="310.1" cy="530.9" r="0.8"/><circle cx="289.5" cy="523.4" r="0.8"/><circle cx="293.2" cy="530.9" r="0.8"/><circle cx="288.9" cy="526.4" r="0.8"/><circle cx="301.9" cy="533.7" r="0.8"/><circle cx="307.2" cy="534.1" r="0.8"/><circle cx="358.1" cy="547.3" r="0.8"/><circle cx="295.9" cy="530.3" r="0.8"/><circle cx="362.6" cy="553.8" r="0.8"/><circle cx="280.8" cy="554.9" r="0.8"/><circle cx="367.8" cy="548.9" r="0.8"/><circle cx="329.1" cy="543.6" r="0.8"/><circle cx="277.4" cy="525.4" r="0.8"/><circle cx="318.3" cy="539.6" r="0.8"/><circle cx="300.7" cy="555.7" r="0.8"/><circle cx="310.9" cy="530.4" r="0.8"/><circle cx="259.4" cy="555.0" r="0.8"/><circle cx="332.9" cy="537.4" r="0.8"/><circle cx="270.2" cy="520.6" r="0.8"/><circle cx="332.0" cy="541.0" r="0.8"/><circle cx="257.5" cy="547.2" r="0.8"/><circle cx="309.4" cy="533.7" r="0.8"/><circle cx="266.8" cy="524.1" r="0.8"/><circle cx="315.0" cy="555.1" r="0.8"/><circle cx="347.2" cy="554.9" r="0.8"/><circle cx="360.8" cy="541.9" r="0.8"/><circle cx="258.8" cy="548.6" r="0.8"/><circle cx="332.0" cy="541.6" r="0.8"/><circle cx="270.5" cy="554.2" r="0.8"/><circle cx="267.9" cy="521.6" r="0.8"/><circle cx="267.1" cy="555.5" r="0.8"/><circle cx="316.4" cy="541.1" r="0.8"/><circle cx="329.2" cy="542.0" r="0.8"/><circle cx="263.3" cy="495.0" r="0.8"/><circle cx="275.7" cy="496.6" r="0.8"/><circle cx="264.1" cy="505.0" r="0.8"/><circle cx="278.2" cy="509.1" r="0.8"/><circle cx="301.5" cy="510.8" r="0.8"/><circle cx="317.2" cy="511.3" r="0.8"/><circle cx="337.2" cy="508.3" r="0.8"/><circle cx="362.1" cy="520.7" r="0.8"/><circle cx="335.5" cy="520.7" r="0.8"/><circle cx="354.6" cy="525.7" r="0.8"/><circle cx="346.3" cy="528.2" r="0.8"/><circle cx="357.1" cy="531.5" r="0.8"/><circle cx="258.0" cy="506.0" r="0.8"/><circle cx="259.0" cy="512.0" r="0.8"/><circle cx="272.0" cy="511.0" r="0.8"/></g>
<line x1="256.6" y1="479.8" x2="256.6" y2="720.4" stroke="#ff2020" stroke-width="1" stroke-dasharray="3,2.6"/>
<line x1="131.2" y1="556.4" x2="380.4" y2="556.4" stroke="#ff2020" stroke-width="1" stroke-dasharray="3,2.6"/>
</svg></body></html>
